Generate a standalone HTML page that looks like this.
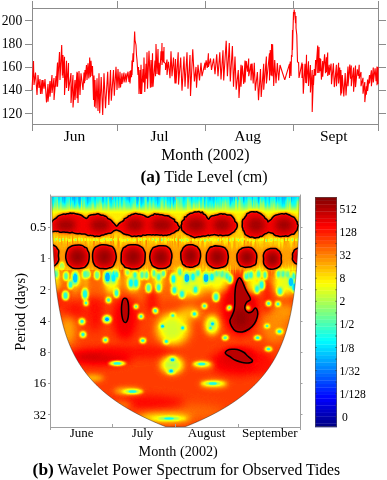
<!DOCTYPE html>
<html><head><meta charset="utf-8"><style>
html,body{margin:0;padding:0;background:#fff;}
body{width:387px;height:480px;overflow:hidden;font-family:"Liberation Serif",serif;}
svg{display:block;will-change:transform;}
</style></head><body>
<svg xmlns="http://www.w3.org/2000/svg" width="387" height="480" viewBox="0 0 387 480">
<g fill="none" stroke="#8c8c8c" stroke-width="1">
<line x1="32.5" y1="1" x2="32.5" y2="131"/>
<line x1="378.5" y1="1" x2="378.5" y2="131"/>
<line x1="32.5" y1="8.5" x2="378.5" y2="8.5"/>
<line x1="32.5" y1="124.5" x2="378.5" y2="124.5"/>
<line x1="25" y1="20.5" x2="32.5" y2="20.5"/>
<line x1="378.5" y1="20.5" x2="386" y2="20.5"/>
<line x1="25" y1="44.5" x2="32.5" y2="44.5"/>
<line x1="378.5" y1="44.5" x2="386" y2="44.5"/>
<line x1="25" y1="67.5" x2="32.5" y2="67.5"/>
<line x1="378.5" y1="67.5" x2="386" y2="67.5"/>
<line x1="25" y1="90.5" x2="32.5" y2="90.5"/>
<line x1="378.5" y1="90.5" x2="386" y2="90.5"/>
<line x1="25" y1="113.5" x2="32.5" y2="113.5"/>
<line x1="378.5" y1="113.5" x2="386" y2="113.5"/>
<line x1="117.5" y1="1" x2="117.5" y2="8.5"/>
<line x1="117.5" y1="124.5" x2="117.5" y2="131"/>
<line x1="205.5" y1="1" x2="205.5" y2="8.5"/>
<line x1="205.5" y1="124.5" x2="205.5" y2="131"/>
<line x1="293.5" y1="1" x2="293.5" y2="8.5"/>
<line x1="293.5" y1="124.5" x2="293.5" y2="131"/>
</g>
<polyline points="32.00,90.00 32.00,90.00 33.50,61.00 34.00,85.00 35.50,72.50 37.00,95.00 38.00,75.00 39.00,88.00 40.00,79.00 40.50,94.00 42.00,80.00 42.00,94.00 43.00,80.05 44.00,88.75 45.00,79.00 46.50,102.50 48.00,84.00 48.00,101.70 50.00,81.00 50.00,96.70 52.00,75.00 52.00,93.00 54.00,78.00 54.00,100.00 56.00,76.00 56.00,86.70 57.50,62.50 57.50,86.70 59.50,52.00 60.00,80.00 61.70,45.00 62.35,75.59 63.00,55.00 63.00,78.00 64.50,56.70 64.50,95.00 66.50,60.80 66.50,88.00 68.50,63.00 68.50,91.00 71.00,73.00 71.00,103.00 73.00,75.00 73.00,107.50 75.00,80.00 75.00,100.00 77.00,71.70 77.00,98.30 77.50,72.67 78.00,103.00 79.00,71.00 80.00,95.00 81.00,73.30 83.00,90.00 84.00,72.50 84.50,83.25 85.00,70.00 85.00,81.00 86.50,65.00 87.00,80.00 88.00,63.30 88.85,78.52 89.70,57.50 90.35,77.32 91.00,60.80 92.00,76.00 92.50,66.00 93.50,100.00 94.00,75.46 94.50,106.70 95.00,80.00 96.00,108.30 97.00,78.30 98.00,111.00 99.00,73.30 99.70,113.30 101.20,77.02 102.70,115.00 104.00,73.30 105.50,108.30 107.70,71.70 108.80,105.00 110.50,70.00 111.30,100.80 113.50,70.00 114.30,95.80 116.00,66.70 117.00,90.00 118.00,69.00 119.00,88.30 120.00,71.70 120.50,87.50 122.00,73.30 122.00,84.00 124.00,72.50 124.00,82.50 126.00,73.30 126.00,82.50 128.00,71.70 129.00,82.06 130.00,71.00 130.00,83.50 131.00,70.00 131.50,77.12 132.00,60.60 132.00,75.00 133.00,53.30 133.50,62.00 134.65,31.50 135.00,40.00 136.00,45.00 136.50,55.00 137.00,60.00 138.00,75.00 138.50,66.90 139.00,94.00 140.00,70.00 140.50,94.00 141.00,64.80 141.60,94.00 143.00,69.00 143.50,82.41 144.00,57.50 144.75,91.90 146.00,63.75 146.50,78.74 147.00,52.30 147.50,88.75 149.00,50.80 150.40,87.70 151.00,60.00 151.75,87.18 152.50,53.30 153.00,86.70 155.00,60.60 155.50,76.12 156.00,44.00 157.00,74.00 158.00,49.00 158.50,74.65 159.00,62.70 159.75,75.20 161.00,51.25 161.50,60.22 162.00,43.00 162.00,65.00 163.00,51.25 163.50,62.53 164.00,47.00 164.00,61.70 165.50,63.75 165.50,70.00 167.00,59.60 167.00,75.00 168.50,61.70 170.00,78.30 171.00,51.25 172.00,76.25 173.50,57.50 175.00,83.50 175.50,59.00 176.00,83.50 178.20,52.30 178.50,84.60 180.70,57.50 182.00,90.80 184.00,56.50 185.00,86.70 187.00,52.30 188.00,88.75 190.00,55.00 190.50,96.00 192.75,49.20 194.40,81.50 196.00,66.90 196.50,87.70 198.00,64.80 199.50,80.40 201.00,62.70 202.00,76.25 205.00,62.70 205.00,70.00 206.13,60.34 207.27,67.93 208.40,53.30 208.40,66.90 210.50,58.50 211.50,70.00 213.60,58.50 215.00,74.20 216.70,54.40 218.00,76.25 219.80,52.30 221.00,79.40 223.00,50.20 223.70,80.40 226.20,40.80 227.40,76.25 229.30,43.00 230.30,81.50 232.40,46.00 233.50,86.70 235.00,56.50 236.20,89.80 238.30,70.00 239.00,98.00 241.00,64.80 241.00,86.70 242.33,65.47 243.67,83.90 245.00,60.60 245.00,82.50 246.23,61.08 247.47,71.64 248.70,58.50 248.70,76.25 251.00,63.75 251.00,80.40 252.10,63.50 253.20,83.45 254.30,62.70 255.30,90.80 257.40,72.00 258.50,100.20 260.50,69.00 261.20,97.00 263.70,63.75 263.70,89.80 266.40,56.50 266.40,83.50 269.50,53.30 269.50,80.40 270.25,50.11 271.00,75.50 271.60,44.00 272.10,76.22 272.60,44.30 273.70,86.00 274.70,60.00 276.00,83.30 277.33,63.07 278.67,80.40 280.00,65.00 284.75,79.86 289.50,63.80 289.50,78.00 290.25,61.44 291.00,76.00 291.50,55.00 292.00,57.05 292.50,30.00 292.50,50.00 293.50,12.00 293.50,20.00 294.20,9.50 294.50,14.00 295.00,12.00 295.50,23.33 296.00,16.00 296.00,28.00 296.80,35.00 297.50,62.00 298.60,62.50 299.00,78.00 302.00,62.50 302.00,78.00 302.65,64.12 303.30,93.75 305.00,63.80 305.75,83.10 306.50,54.70 306.50,83.30 308.50,61.20 308.50,86.00 310.40,65.00 310.40,92.40 312.20,70.00 312.20,112.00 313.50,75.00 313.50,85.00 314.30,69.00 314.95,75.65 315.60,60.00 315.60,75.50 317.70,45.60 317.70,73.00 319.00,46.90 319.00,73.00 320.00,58.00 320.00,71.20 320.70,58.94 321.40,79.60 322.70,61.00 322.70,76.80 324.60,54.30 325.50,73.24 326.40,57.20 326.40,72.10 327.70,52.50 327.70,75.90 329.20,64.70 329.20,75.00 331.10,63.70 331.50,84.30 333.40,63.30 334.30,87.10 336.40,64.70 336.40,86.20 338.60,62.80 338.60,83.40 339.70,67.56 340.80,95.60 340.90,70.00 341.60,93.51 342.30,75.00 343.80,96.50 345.20,73.00 346.00,95.50 348.00,66.50 348.00,86.20 349.80,64.60 350.55,78.81 351.30,65.60 351.30,86.20 353.60,67.50 353.60,91.80 355.50,65.60 355.50,87.10 357.30,69.30 358.25,76.01 359.20,64.70 359.20,78.70 361.00,72.00 361.00,86.20 363.00,77.80 363.00,93.70 364.80,82.00 364.80,102.10 366.30,86.20 366.30,94.60 367.60,79.60 367.60,90.90 369.50,75.00 369.50,83.40 371.40,70.30 371.40,86.20 373.30,67.50 373.30,82.40 375.10,68.40 376.05,81.13 377.00,66.50 377.00,85.30 378.00,67.00 378.00,84.00" fill="none" stroke="#ff0000" stroke-width="1.1" stroke-linejoin="miter" stroke-miterlimit="2"/>
<g font-family="Liberation Serif" font-size="13.6" fill="#000" text-anchor="end">
<text x="22.2" y="25.0">200</text>
<text x="22.2" y="48.1">180</text>
<text x="22.2" y="71.2">160</text>
<text x="22.2" y="94.4">140</text>
<text x="22.2" y="117.5">120</text>
</g>
<g font-family="Liberation Serif" font-size="15.5" fill="#000" text-anchor="middle">
<text x="74.4" y="140.5">Jun</text>
<text x="159.6" y="140.5">Jul</text>
<text x="247.6" y="140.5">Aug</text>
<text x="333.7" y="140.5">Sept</text>
</g>
<text x="205.4" y="159.6" font-family="Liberation Serif" font-size="15.8" text-anchor="middle">Month (2002)</text>
<text x="204" y="181.7" font-family="Liberation Serif" font-size="16" text-anchor="middle"><tspan font-weight="bold" font-size="17.2">(a)</tspan> Tide Level (cm)</text>
<defs>
<clipPath id="coi"><path d="M51,196.8 L300,196.8 L299.30,196.80 L299.29,197.30 L299.28,197.80 L299.28,198.30 L299.27,198.80 L299.26,199.30 L299.25,199.80 L299.24,200.30 L299.24,200.80 L299.23,201.30 L299.22,201.80 L299.21,202.30 L299.20,202.80 L299.19,203.30 L299.18,203.80 L299.17,204.30 L299.16,204.80 L299.16,205.30 L299.15,205.80 L299.14,206.30 L299.13,206.80 L299.12,207.30 L299.11,207.80 L299.10,208.30 L299.09,208.80 L299.08,209.30 L299.07,209.80 L299.06,210.30 L299.05,210.80 L299.04,211.30 L299.02,211.80 L299.01,212.30 L299.00,212.80 L298.99,213.30 L298.98,213.80 L298.97,214.30 L298.96,214.80 L298.95,215.30 L298.93,215.80 L298.92,216.30 L298.91,216.80 L298.90,217.30 L298.89,217.80 L298.87,218.30 L298.86,218.80 L298.85,219.30 L298.84,219.80 L298.82,220.30 L298.81,220.80 L298.80,221.30 L298.78,221.80 L298.77,222.30 L298.75,222.80 L298.74,223.30 L298.73,223.80 L298.71,224.30 L298.70,224.80 L298.68,225.30 L298.67,225.80 L298.65,226.30 L298.64,226.80 L298.62,227.30 L298.61,227.80 L298.59,228.30 L298.58,228.80 L298.56,229.30 L298.55,229.80 L298.53,230.30 L298.51,230.80 L298.50,231.30 L298.48,231.80 L298.46,232.30 L298.45,232.80 L298.43,233.30 L298.41,233.80 L298.39,234.30 L298.38,234.80 L298.36,235.30 L298.34,235.80 L298.32,236.30 L298.30,236.80 L298.28,237.30 L298.26,237.80 L298.24,238.30 L298.22,238.80 L298.20,239.30 L298.18,239.80 L298.16,240.30 L298.14,240.80 L298.12,241.30 L298.10,241.80 L298.08,242.30 L298.06,242.80 L298.04,243.30 L298.02,243.80 L297.99,244.30 L297.97,244.80 L297.95,245.30 L297.93,245.80 L297.90,246.30 L297.88,246.80 L297.86,247.30 L297.83,247.80 L297.81,248.30 L297.78,248.80 L297.76,249.30 L297.73,249.80 L297.71,250.30 L297.68,250.80 L297.66,251.30 L297.63,251.80 L297.60,252.30 L297.58,252.80 L297.55,253.30 L297.52,253.80 L297.50,254.30 L297.47,254.80 L297.44,255.30 L297.41,255.80 L297.38,256.30 L297.35,256.80 L297.32,257.30 L297.29,257.80 L297.26,258.30 L297.23,258.80 L297.20,259.30 L297.17,259.80 L297.14,260.30 L297.11,260.80 L297.08,261.30 L297.04,261.80 L297.01,262.30 L296.98,262.80 L296.94,263.30 L296.91,263.80 L296.87,264.30 L296.84,264.80 L296.80,265.30 L296.77,265.80 L296.73,266.30 L296.70,266.80 L296.66,267.30 L296.62,267.80 L296.58,268.30 L296.55,268.80 L296.51,269.30 L296.47,269.80 L296.43,270.30 L296.39,270.80 L296.35,271.30 L296.31,271.80 L296.27,272.30 L296.23,272.80 L296.18,273.30 L296.14,273.80 L296.10,274.30 L296.05,274.80 L296.01,275.30 L295.97,275.80 L295.92,276.30 L295.88,276.80 L295.83,277.30 L295.78,277.80 L295.74,278.30 L295.69,278.80 L295.64,279.30 L295.59,279.80 L295.54,280.30 L295.49,280.80 L295.44,281.30 L295.39,281.80 L295.34,282.30 L295.29,282.80 L295.24,283.30 L295.18,283.80 L295.13,284.30 L295.07,284.80 L295.02,285.30 L294.96,285.80 L294.91,286.30 L294.85,286.80 L294.79,287.30 L294.74,287.80 L294.68,288.30 L294.62,288.80 L294.56,289.30 L294.50,289.80 L294.44,290.30 L294.37,290.80 L294.31,291.30 L294.25,291.80 L294.18,292.30 L294.12,292.80 L294.05,293.30 L293.99,293.80 L293.92,294.30 L293.85,294.80 L293.78,295.30 L293.71,295.80 L293.64,296.30 L293.57,296.80 L293.50,297.30 L293.43,297.80 L293.35,298.30 L293.28,298.80 L293.21,299.30 L293.13,299.80 L293.05,300.30 L292.98,300.80 L292.90,301.30 L292.82,301.80 L292.74,302.30 L292.66,302.80 L292.58,303.30 L292.49,303.80 L292.41,304.30 L292.32,304.80 L292.24,305.30 L292.15,305.80 L292.06,306.30 L291.98,306.80 L291.89,307.30 L291.80,307.80 L291.70,308.30 L291.61,308.80 L291.52,309.30 L291.42,309.80 L291.33,310.30 L291.23,310.80 L291.13,311.30 L291.04,311.80 L290.94,312.30 L290.83,312.80 L290.73,313.30 L290.63,313.80 L290.52,314.30 L290.42,314.80 L290.31,315.30 L290.20,315.80 L290.09,316.30 L289.98,316.80 L289.87,317.30 L289.76,317.80 L289.64,318.30 L289.53,318.80 L289.41,319.30 L289.29,319.80 L289.17,320.30 L289.05,320.80 L288.93,321.30 L288.81,321.80 L288.68,322.30 L288.56,322.80 L288.43,323.30 L288.30,323.80 L288.17,324.30 L288.04,324.80 L287.91,325.30 L287.77,325.80 L287.63,326.30 L287.50,326.80 L287.36,327.30 L287.22,327.80 L287.07,328.30 L286.93,328.80 L286.78,329.30 L286.64,329.80 L286.49,330.30 L286.34,330.80 L286.18,331.30 L286.03,331.80 L285.87,332.30 L285.72,332.80 L285.56,333.30 L285.40,333.80 L285.23,334.30 L285.07,334.80 L284.90,335.30 L284.73,335.80 L284.56,336.30 L284.39,336.80 L284.22,337.30 L284.04,337.80 L283.86,338.30 L283.68,338.80 L283.50,339.30 L283.32,339.80 L283.13,340.30 L282.94,340.80 L282.75,341.30 L282.56,341.80 L282.37,342.30 L282.17,342.80 L281.97,343.30 L281.77,343.80 L281.57,344.30 L281.36,344.80 L281.15,345.30 L280.94,345.80 L280.73,346.30 L280.51,346.80 L280.30,347.30 L280.08,347.80 L279.86,348.30 L279.63,348.80 L279.40,349.30 L279.17,349.80 L278.94,350.30 L278.71,350.80 L278.47,351.30 L278.23,351.80 L277.99,352.30 L277.74,352.80 L277.49,353.30 L277.24,353.80 L276.99,354.30 L276.73,354.80 L276.47,355.30 L276.21,355.80 L275.94,356.30 L275.68,356.80 L275.40,357.30 L275.13,357.80 L274.85,358.30 L274.57,358.80 L274.29,359.30 L274.00,359.80 L273.71,360.30 L273.42,360.80 L273.12,361.30 L272.82,361.80 L272.52,362.30 L272.21,362.80 L271.90,363.30 L271.59,363.80 L271.27,364.30 L270.95,364.80 L270.63,365.30 L270.30,365.80 L269.97,366.30 L269.64,366.80 L269.30,367.30 L268.95,367.80 L268.61,368.30 L268.26,368.80 L267.90,369.30 L267.55,369.80 L267.18,370.30 L266.82,370.80 L266.45,371.30 L266.07,371.80 L265.70,372.30 L265.31,372.80 L264.93,373.30 L264.54,373.80 L264.14,374.30 L263.74,374.80 L263.34,375.30 L262.93,375.80 L262.51,376.30 L262.10,376.80 L261.67,377.30 L261.25,377.80 L260.81,378.30 L260.38,378.80 L259.93,379.30 L259.49,379.80 L259.04,380.30 L258.58,380.80 L258.12,381.30 L257.65,381.80 L257.18,382.30 L256.70,382.80 L256.22,383.30 L255.73,383.80 L255.23,384.30 L254.74,384.80 L254.23,385.30 L253.72,385.80 L253.20,386.30 L252.68,386.80 L252.15,387.30 L251.62,387.80 L251.08,388.30 L250.54,388.80 L249.98,389.30 L249.43,389.80 L248.86,390.30 L248.29,390.80 L247.72,391.30 L247.13,391.80 L246.54,392.30 L245.95,392.80 L245.34,393.30 L244.73,393.80 L244.12,394.30 L243.50,394.80 L242.87,395.30 L242.23,395.80 L241.58,396.30 L240.93,396.80 L240.27,397.30 L239.61,397.80 L238.93,398.30 L238.25,398.80 L237.56,399.30 L236.87,399.80 L236.16,400.30 L235.45,400.80 L234.73,401.30 L234.00,401.80 L233.27,402.30 L232.52,402.80 L231.77,403.30 L231.01,403.80 L230.24,404.30 L229.46,404.80 L228.68,405.30 L227.88,405.80 L227.08,406.30 L226.26,406.80 L225.44,407.30 L224.61,407.80 L223.77,408.30 L222.92,408.80 L222.06,409.30 L221.19,409.80 L220.31,410.30 L219.42,410.80 L218.52,411.30 L217.62,411.80 L216.70,412.30 L215.77,412.80 L214.83,413.30 L213.88,413.80 L212.92,414.30 L211.95,414.80 L210.96,415.30 L209.97,415.80 L208.97,416.30 L207.95,416.80 L206.93,417.30 L205.89,417.80 L204.84,418.30 L203.78,418.80 L202.70,419.30 L201.62,419.80 L200.52,420.30 L199.41,420.80 L198.29,421.30 L197.16,421.80 L196.01,422.30 L194.85,422.80 L193.68,423.30 L192.49,423.80 L191.29,424.30 L190.08,424.80 L188.85,425.30 L187.62,425.80 L186.36,426.30 L185.09,426.80 L175.50,427.00 L165.91,426.80 L164.64,426.30 L163.38,425.80 L162.15,425.30 L160.92,424.80 L159.71,424.30 L158.51,423.80 L157.32,423.30 L156.15,422.80 L154.99,422.30 L153.84,421.80 L152.71,421.30 L151.59,420.80 L150.48,420.30 L149.38,419.80 L148.30,419.30 L147.22,418.80 L146.16,418.30 L145.11,417.80 L144.07,417.30 L143.05,416.80 L142.03,416.30 L141.03,415.80 L140.04,415.30 L139.05,414.80 L138.08,414.30 L137.12,413.80 L136.17,413.30 L135.23,412.80 L134.30,412.30 L133.38,411.80 L132.48,411.30 L131.58,410.80 L130.69,410.30 L129.81,409.80 L128.94,409.30 L128.08,408.80 L127.23,408.30 L126.39,407.80 L125.56,407.30 L124.74,406.80 L123.92,406.30 L123.12,405.80 L122.32,405.30 L121.54,404.80 L120.76,404.30 L119.99,403.80 L119.23,403.30 L118.48,402.80 L117.73,402.30 L117.00,401.80 L116.27,401.30 L115.55,400.80 L114.84,400.30 L114.13,399.80 L113.44,399.30 L112.75,398.80 L112.07,398.30 L111.39,397.80 L110.73,397.30 L110.07,396.80 L109.42,396.30 L108.77,395.80 L108.13,395.30 L107.50,394.80 L106.88,394.30 L106.27,393.80 L105.66,393.30 L105.05,392.80 L104.46,392.30 L103.87,391.80 L103.28,391.30 L102.71,390.80 L102.14,390.30 L101.57,389.80 L101.02,389.30 L100.46,388.80 L99.92,388.30 L99.38,387.80 L98.85,387.30 L98.32,386.80 L97.80,386.30 L97.28,385.80 L96.77,385.30 L96.26,384.80 L95.77,384.30 L95.27,383.80 L94.78,383.30 L94.30,382.80 L93.82,382.30 L93.35,381.80 L92.88,381.30 L92.42,380.80 L91.96,380.30 L91.51,379.80 L91.07,379.30 L90.62,378.80 L90.19,378.30 L89.75,377.80 L89.33,377.30 L88.90,376.80 L88.49,376.30 L88.07,375.80 L87.66,375.30 L87.26,374.80 L86.86,374.30 L86.46,373.80 L86.07,373.30 L85.69,372.80 L85.30,372.30 L84.93,371.80 L84.55,371.30 L84.18,370.80 L83.82,370.30 L83.45,369.80 L83.10,369.30 L82.74,368.80 L82.39,368.30 L82.05,367.80 L81.70,367.30 L81.36,366.80 L81.03,366.30 L80.70,365.80 L80.37,365.30 L80.05,364.80 L79.73,364.30 L79.41,363.80 L79.10,363.30 L78.79,362.80 L78.48,362.30 L78.18,361.80 L77.88,361.30 L77.58,360.80 L77.29,360.30 L77.00,359.80 L76.71,359.30 L76.43,358.80 L76.15,358.30 L75.87,357.80 L75.60,357.30 L75.32,356.80 L75.06,356.30 L74.79,355.80 L74.53,355.30 L74.27,354.80 L74.01,354.30 L73.76,353.80 L73.51,353.30 L73.26,352.80 L73.01,352.30 L72.77,351.80 L72.53,351.30 L72.29,350.80 L72.06,350.30 L71.83,349.80 L71.60,349.30 L71.37,348.80 L71.14,348.30 L70.92,347.80 L70.70,347.30 L70.49,346.80 L70.27,346.30 L70.06,345.80 L69.85,345.30 L69.64,344.80 L69.43,344.30 L69.23,343.80 L69.03,343.30 L68.83,342.80 L68.63,342.30 L68.44,341.80 L68.25,341.30 L68.06,340.80 L67.87,340.30 L67.68,339.80 L67.50,339.30 L67.32,338.80 L67.14,338.30 L66.96,337.80 L66.78,337.30 L66.61,336.80 L66.44,336.30 L66.27,335.80 L66.10,335.30 L65.93,334.80 L65.77,334.30 L65.60,333.80 L65.44,333.30 L65.28,332.80 L65.13,332.30 L64.97,331.80 L64.82,331.30 L64.66,330.80 L64.51,330.30 L64.36,329.80 L64.22,329.30 L64.07,328.80 L63.93,328.30 L63.78,327.80 L63.64,327.30 L63.50,326.80 L63.37,326.30 L63.23,325.80 L63.09,325.30 L62.96,324.80 L62.83,324.30 L62.70,323.80 L62.57,323.30 L62.44,322.80 L62.32,322.30 L62.19,321.80 L62.07,321.30 L61.95,320.80 L61.83,320.30 L61.71,319.80 L61.59,319.30 L61.47,318.80 L61.36,318.30 L61.24,317.80 L61.13,317.30 L61.02,316.80 L60.91,316.30 L60.80,315.80 L60.69,315.30 L60.58,314.80 L60.48,314.30 L60.37,313.80 L60.27,313.30 L60.17,312.80 L60.06,312.30 L59.96,311.80 L59.87,311.30 L59.77,310.80 L59.67,310.30 L59.58,309.80 L59.48,309.30 L59.39,308.80 L59.30,308.30 L59.20,307.80 L59.11,307.30 L59.02,306.80 L58.94,306.30 L58.85,305.80 L58.76,305.30 L58.68,304.80 L58.59,304.30 L58.51,303.80 L58.42,303.30 L58.34,302.80 L58.26,302.30 L58.18,301.80 L58.10,301.30 L58.02,300.80 L57.95,300.30 L57.87,299.80 L57.79,299.30 L57.72,298.80 L57.65,298.30 L57.57,297.80 L57.50,297.30 L57.43,296.80 L57.36,296.30 L57.29,295.80 L57.22,295.30 L57.15,294.80 L57.08,294.30 L57.01,293.80 L56.95,293.30 L56.88,292.80 L56.82,292.30 L56.75,291.80 L56.69,291.30 L56.63,290.80 L56.56,290.30 L56.50,289.80 L56.44,289.30 L56.38,288.80 L56.32,288.30 L56.26,287.80 L56.21,287.30 L56.15,286.80 L56.09,286.30 L56.04,285.80 L55.98,285.30 L55.93,284.80 L55.87,284.30 L55.82,283.80 L55.76,283.30 L55.71,282.80 L55.66,282.30 L55.61,281.80 L55.56,281.30 L55.51,280.80 L55.46,280.30 L55.41,279.80 L55.36,279.30 L55.31,278.80 L55.26,278.30 L55.22,277.80 L55.17,277.30 L55.12,276.80 L55.08,276.30 L55.03,275.80 L54.99,275.30 L54.95,274.80 L54.90,274.30 L54.86,273.80 L54.82,273.30 L54.77,272.80 L54.73,272.30 L54.69,271.80 L54.65,271.30 L54.61,270.80 L54.57,270.30 L54.53,269.80 L54.49,269.30 L54.45,268.80 L54.42,268.30 L54.38,267.80 L54.34,267.30 L54.30,266.80 L54.27,266.30 L54.23,265.80 L54.20,265.30 L54.16,264.80 L54.13,264.30 L54.09,263.80 L54.06,263.30 L54.02,262.80 L53.99,262.30 L53.96,261.80 L53.92,261.30 L53.89,260.80 L53.86,260.30 L53.83,259.80 L53.80,259.30 L53.77,258.80 L53.74,258.30 L53.71,257.80 L53.68,257.30 L53.65,256.80 L53.62,256.30 L53.59,255.80 L53.56,255.30 L53.53,254.80 L53.50,254.30 L53.48,253.80 L53.45,253.30 L53.42,252.80 L53.40,252.30 L53.37,251.80 L53.34,251.30 L53.32,250.80 L53.29,250.30 L53.27,249.80 L53.24,249.30 L53.22,248.80 L53.19,248.30 L53.17,247.80 L53.14,247.30 L53.12,246.80 L53.10,246.30 L53.07,245.80 L53.05,245.30 L53.03,244.80 L53.01,244.30 L52.98,243.80 L52.96,243.30 L52.94,242.80 L52.92,242.30 L52.90,241.80 L52.88,241.30 L52.86,240.80 L52.84,240.30 L52.82,239.80 L52.80,239.30 L52.78,238.80 L52.76,238.30 L52.74,237.80 L52.72,237.30 L52.70,236.80 L52.68,236.30 L52.66,235.80 L52.64,235.30 L52.62,234.80 L52.61,234.30 L52.59,233.80 L52.57,233.30 L52.55,232.80 L52.54,232.30 L52.52,231.80 L52.50,231.30 L52.49,230.80 L52.47,230.30 L52.45,229.80 L52.44,229.30 L52.42,228.80 L52.41,228.30 L52.39,227.80 L52.38,227.30 L52.36,226.80 L52.35,226.30 L52.33,225.80 L52.32,225.30 L52.30,224.80 L52.29,224.30 L52.27,223.80 L52.26,223.30 L52.25,222.80 L52.23,222.30 L52.22,221.80 L52.20,221.30 L52.19,220.80 L52.18,220.30 L52.16,219.80 L52.15,219.30 L52.14,218.80 L52.13,218.30 L52.11,217.80 L52.10,217.30 L52.09,216.80 L52.08,216.30 L52.07,215.80 L52.05,215.30 L52.04,214.80 L52.03,214.30 L52.02,213.80 L52.01,213.30 L52.00,212.80 L51.99,212.30 L51.98,211.80 L51.96,211.30 L51.95,210.80 L51.94,210.30 L51.93,209.80 L51.92,209.30 L51.91,208.80 L51.90,208.30 L51.89,207.80 L51.88,207.30 L51.87,206.80 L51.86,206.30 L51.85,205.80 L51.84,205.30 L51.84,204.80 L51.83,204.30 L51.82,203.80 L51.81,203.30 L51.80,202.80 L51.79,202.30 L51.78,201.80 L51.77,201.30 L51.76,200.80 L51.76,200.30 L51.75,199.80 L51.74,199.30 L51.73,198.80 L51.72,198.30 L51.72,197.80 L51.71,197.30 L51.70,196.80 Z"/></clipPath>
<filter id="jet" x="0" y="0" width="387" height="480" filterUnits="userSpaceOnUse" color-interpolation-filters="sRGB"><feComponentTransfer><feFuncR type="table" tableValues="0 0 0 0 0.5 1 1 1 0.5"/><feFuncG type="table" tableValues="0 0 0.5 1 1 1 0.5 0 0"/><feFuncB type="table" tableValues="0.5 1 1 1 0.5 0 0 0 0"/></feComponentTransfer></filter>
<filter id="b0_6" x="0" y="0" width="387" height="480" filterUnits="userSpaceOnUse" color-interpolation-filters="sRGB"><feGaussianBlur stdDeviation="0.6"/></filter>
<filter id="b0_8" x="0" y="0" width="387" height="480" filterUnits="userSpaceOnUse" color-interpolation-filters="sRGB"><feGaussianBlur stdDeviation="0.8"/></filter>
<filter id="b1" x="0" y="0" width="387" height="480" filterUnits="userSpaceOnUse" color-interpolation-filters="sRGB"><feGaussianBlur stdDeviation="1"/></filter>
<filter id="b1_5" x="0" y="0" width="387" height="480" filterUnits="userSpaceOnUse" color-interpolation-filters="sRGB"><feGaussianBlur stdDeviation="1.5"/></filter>
<filter id="b2" x="0" y="0" width="387" height="480" filterUnits="userSpaceOnUse" color-interpolation-filters="sRGB"><feGaussianBlur stdDeviation="2"/></filter>
<filter id="b2_5" x="0" y="0" width="387" height="480" filterUnits="userSpaceOnUse" color-interpolation-filters="sRGB"><feGaussianBlur stdDeviation="2.5"/></filter>
<filter id="b3" x="0" y="0" width="387" height="480" filterUnits="userSpaceOnUse" color-interpolation-filters="sRGB"><feGaussianBlur stdDeviation="3"/></filter>
<filter id="b4" x="0" y="0" width="387" height="480" filterUnits="userSpaceOnUse" color-interpolation-filters="sRGB"><feGaussianBlur stdDeviation="4"/></filter>
<filter id="b5" x="0" y="0" width="387" height="480" filterUnits="userSpaceOnUse" color-interpolation-filters="sRGB"><feGaussianBlur stdDeviation="5"/></filter>
<filter id="b6" x="0" y="0" width="387" height="480" filterUnits="userSpaceOnUse" color-interpolation-filters="sRGB"><feGaussianBlur stdDeviation="6"/></filter>
<filter id="b8" x="0" y="0" width="387" height="480" filterUnits="userSpaceOnUse" color-interpolation-filters="sRGB"><feGaussianBlur stdDeviation="8"/></filter>
<filter id="bx" x="0" y="0" width="387" height="480" filterUnits="userSpaceOnUse" color-interpolation-filters="sRGB"><feGaussianBlur stdDeviation="0.6 2.2"/></filter>
<filter id="bx2" x="0" y="0" width="387" height="480" filterUnits="userSpaceOnUse" color-interpolation-filters="sRGB"><feGaussianBlur stdDeviation="0.35 1.6"/></filter>
<radialGradient id="blob" cx="0.5" cy="0.5" r="0.5"><stop offset="0" stop-color="rgb(251,251,251)"/><stop offset="0.5" stop-color="rgb(242,242,242)"/><stop offset="1" stop-color="rgb(224,224,224)"/></radialGradient>
<radialGradient id="blobB" cx="0.5" cy="0.5" r="0.5"><stop offset="0" stop-color="rgb(249,249,249)"/><stop offset="0.6" stop-color="rgb(237,237,237)"/><stop offset="1" stop-color="rgb(224,224,224)" stop-opacity="0"/></radialGradient>
<linearGradient id="topg" x1="0" y1="197" x2="0" y2="214" gradientUnits="userSpaceOnUse"><stop offset="0" stop-color="rgb(94,94,94)"/><stop offset="0.18" stop-color="rgb(101,101,101)"/><stop offset="0.35" stop-color="rgb(107,107,107)"/><stop offset="0.53" stop-color="rgb(117,117,117)"/><stop offset="0.65" stop-color="rgb(130,130,130)"/><stop offset="0.76" stop-color="rgb(145,145,145)"/><stop offset="0.88" stop-color="rgb(158,158,158)"/><stop offset="1" stop-color="rgb(164,164,164)"/></linearGradient>
</defs>
<g clip-path="url(#coi)"><g filter="url(#jet)">
<rect x="46" y="191.8" width="259" height="240.2" fill="rgb(208,208,208)"/>
<linearGradient id="bandg" x1="0" y1="212" x2="0" y2="270" gradientUnits="userSpaceOnUse"><stop offset="0" stop-color="rgb(164,164,164)"/><stop offset="0.17" stop-color="rgb(163,163,163)"/><stop offset="0.41" stop-color="rgb(173,173,173)"/><stop offset="0.48" stop-color="rgb(163,163,163)"/><stop offset="0.55" stop-color="rgb(176,176,176)"/><stop offset="0.62" stop-color="rgb(181,181,181)"/><stop offset="0.7" stop-color="rgb(184,184,184)"/><stop offset="0.9" stop-color="rgb(184,184,184)"/><stop offset="1" stop-color="rgb(178,178,178)"/></linearGradient>
<rect x="46" y="212" width="259" height="58" fill="url(#bandg)"/>
<g filter="url(#b5)">
<ellipse cx="275" cy="325" rx="14" ry="18" fill="rgb(189,189,189)"/>
<ellipse cx="175" cy="412" rx="50" ry="8" fill="rgb(196,196,196)"/>
<ellipse cx="95" cy="306" rx="8" ry="26" fill="rgb(221,221,221)"/>
<ellipse cx="100" cy="357" rx="32" ry="7" fill="rgb(236,236,236)"/>
<ellipse cx="145" cy="403" rx="40" ry="7" fill="rgb(223,223,223)"/>
<ellipse cx="240" cy="362" rx="30" ry="13" fill="rgb(227,227,227)"/>
</g>
<g filter="url(#b4)">
<ellipse cx="175" cy="284" rx="140" ry="16" fill="rgb(198,198,198)"/>
<ellipse cx="190" cy="283" rx="16" ry="13" fill="rgb(153,153,153)"/>
<ellipse cx="219" cy="281" rx="13" ry="10" fill="rgb(153,153,153)"/>
<ellipse cx="285" cy="283" rx="11" ry="12" fill="rgb(153,153,153)"/>
<ellipse cx="173" cy="329" rx="17" ry="16" fill="rgb(163,163,163)"/>
<ellipse cx="190" cy="313" rx="12" ry="6" fill="rgb(171,171,171)"/>
<ellipse cx="68" cy="330" rx="8" ry="15" fill="rgb(181,181,181)"/>
<ellipse cx="285" cy="312" rx="10" ry="8" fill="rgb(184,184,184)"/>
<ellipse cx="125" cy="318" rx="12" ry="22" fill="rgb(226,226,226)"/>
<ellipse cx="75" cy="310" rx="12" ry="8" fill="rgb(219,219,219)"/>
<ellipse cx="140" cy="352" rx="40" ry="5" fill="rgb(222,222,222)"/>
<ellipse cx="240" cy="305" rx="18" ry="30" fill="rgb(230,230,230)"/>
<ellipse cx="265" cy="365" rx="12" ry="8" fill="rgb(219,219,219)"/>
</g>
<g filter="url(#b3)">
<ellipse cx="56" cy="279" rx="3.5" ry="11" fill="rgb(161,161,161)"/>
<ellipse cx="112" cy="281" rx="7" ry="11" fill="rgb(153,153,153)"/>
<ellipse cx="133" cy="281" rx="7" ry="10" fill="rgb(156,156,156)"/>
<ellipse cx="254" cy="283" rx="6" ry="11" fill="rgb(156,156,156)"/>
<ellipse cx="158" cy="280" rx="5" ry="9" fill="rgb(161,161,161)"/>
<ellipse cx="77" cy="279" rx="4" ry="9" fill="rgb(161,161,161)"/>
<ellipse cx="172" cy="329" rx="10" ry="11" fill="rgb(148,148,148)"/>
<ellipse cx="212" cy="325" rx="7" ry="10" fill="rgb(153,153,153)"/>
<ellipse cx="172" cy="365" rx="12" ry="9" fill="rgb(158,158,158)"/>
<ellipse cx="165" cy="418" rx="26" ry="4" fill="rgb(158,158,158)"/>
<ellipse cx="120" cy="405" rx="12" ry="4" fill="rgb(189,189,189)"/>
<ellipse cx="152" cy="302" rx="6" ry="12" fill="rgb(219,219,219)"/>
<ellipse cx="267" cy="297" rx="4.5" ry="17" fill="rgb(217,217,217)"/>
<ellipse cx="239" cy="276" rx="6" ry="8" fill="rgb(214,214,214)"/>
<ellipse cx="238" cy="356" rx="16" ry="8" fill="rgb(230,230,230)"/>
<ellipse cx="60" cy="300" rx="6" ry="10" fill="rgb(214,214,214)"/>
</g>
<g filter="url(#b2_5)">
<ellipse cx="212" cy="325" rx="4" ry="6" fill="rgb(138,138,138)"/>
<ellipse cx="172" cy="365" rx="7" ry="6" fill="rgb(140,140,140)"/>
<ellipse cx="92" cy="378" rx="12" ry="3" fill="rgb(171,171,171)"/>
<ellipse cx="128" cy="391" rx="14" ry="3" fill="rgb(168,168,168)"/>
<ellipse cx="203" cy="365" rx="11" ry="3" fill="rgb(168,168,168)"/>
<ellipse cx="214" cy="384" rx="14" ry="3.5" fill="rgb(163,163,163)"/>
</g>
<g filter="url(#b2)">
<path d="M52.5,266 L57.5,266 L56.25,280.5 L55,295 L53.75,280.5 Z" fill="rgb(161,161,161)" opacity="0.8"/>
<path d="M73.0,268 L77.0,268 L76.0,284.0 L75,300 L74.0,284.0 Z" fill="rgb(156,156,156)" opacity="0.8"/>
<path d="M84.0,270 L88.0,270 L87.0,290.0 L86,310 L85.0,290.0 Z" fill="rgb(161,161,161)" opacity="0.8"/>
<path d="M106.0,268 L112.0,268 L110.5,284.0 L109,300 L107.5,284.0 Z" fill="rgb(156,156,156)" opacity="0.8"/>
<path d="M113.5,268 L116.5,268 L115.75,283.0 L115,298 L114.25,283.0 Z" fill="rgb(161,161,161)" opacity="0.8"/>
<path d="M125.5,268 L128.5,268 L127.75,273.0 L127,278 L126.25,273.0 Z" fill="rgb(166,166,166)" opacity="0.8"/>
<path d="M131.0,268 L137.0,268 L135.5,280.0 L134,292 L132.5,280.0 Z" fill="rgb(161,161,161)" opacity="0.8"/>
<path d="M140.5,268 L143.5,268 L142.75,274.0 L142,280 L141.25,274.0 Z" fill="rgb(166,166,166)" opacity="0.8"/>
<path d="M144.5,268 L147.5,268 L146.75,274.0 L146,280 L145.25,274.0 Z" fill="rgb(166,166,166)" opacity="0.8"/>
<path d="M147.5,270 L150.5,270 L149.75,281.0 L149,292 L148.25,281.0 Z" fill="rgb(161,161,161)" opacity="0.8"/>
<path d="M152.5,268 L155.5,268 L154.75,274.0 L154,280 L153.25,274.0 Z" fill="rgb(166,166,166)" opacity="0.8"/>
<path d="M157.0,268 L161.0,268 L160.0,280.0 L159,292 L158.0,280.0 Z" fill="rgb(161,161,161)" opacity="0.8"/>
<path d="M173.0,268 L179.0,268 L177.5,282.0 L176,296 L174.5,282.0 Z" fill="rgb(156,156,156)" opacity="0.8"/>
<path d="M182.0,268 L188.0,268 L186.5,284.0 L185,300 L183.5,284.0 Z" fill="rgb(150,150,150)" opacity="0.8"/>
<path d="M192.0,268 L198.0,268 L196.5,282.0 L195,296 L193.5,282.0 Z" fill="rgb(156,156,156)" opacity="0.8"/>
<path d="M205.0,268 L211.0,268 L209.5,280.0 L208,292 L206.5,280.0 Z" fill="rgb(156,156,156)" opacity="0.8"/>
<path d="M213.5,268 L218.5,268 L217.25,284.0 L216,300 L214.75,284.0 Z" fill="rgb(161,161,161)" opacity="0.8"/>
<path d="M223.0,268 L229.0,268 L227.5,280.0 L226,292 L224.5,280.0 Z" fill="rgb(161,161,161)" opacity="0.8"/>
<path d="M245.0,268 L251.0,268 L249.5,283.0 L248,298 L246.5,283.0 Z" fill="rgb(156,156,156)" opacity="0.8"/>
<path d="M256.5,268 L261.5,268 L260.25,280.0 L259,292 L257.75,280.0 Z" fill="rgb(161,161,161)" opacity="0.8"/>
<path d="M277.5,268 L282.5,268 L281.25,284.0 L280,300 L278.75,284.0 Z" fill="rgb(156,156,156)" opacity="0.8"/>
<path d="M289.5,268 L294.5,268 L293.25,281.5 L292,295 L290.75,281.5 Z" fill="rgb(150,150,150)" opacity="0.8"/>
<path d="M236.5,266 L239.5,266 L238.75,270.5 L238,275 L237.25,270.5 Z" fill="rgb(166,166,166)" opacity="0.8"/>
</g>
<g filter="url(#b1)">
<ellipse cx="55.9" cy="273.8" rx="2.75" ry="4.80" fill="rgb(159,159,159)"/>
<ellipse cx="61.8" cy="266" rx="2.20" ry="4.00" fill="rgb(159,159,159)"/>
<ellipse cx="66" cy="276" rx="2.75" ry="4.80" fill="rgb(159,159,159)"/>
<ellipse cx="75.2" cy="278" rx="3.85" ry="8.00" fill="rgb(159,159,159)"/>
<ellipse cx="70.5" cy="284.5" rx="2.75" ry="4.80" fill="rgb(159,159,159)"/>
<ellipse cx="65.5" cy="295.5" rx="3.30" ry="4.80" fill="rgb(159,159,159)"/>
<ellipse cx="85" cy="274" rx="2.75" ry="4.80" fill="rgb(159,159,159)"/>
<ellipse cx="88" cy="274" rx="2.20" ry="4.00" fill="rgb(159,159,159)"/>
<ellipse cx="85" cy="294" rx="3.30" ry="6.40" fill="rgb(159,159,159)"/>
<ellipse cx="86" cy="303" rx="2.50" ry="3.00" fill="rgb(159,159,159)"/>
<ellipse cx="97" cy="275" rx="2.75" ry="4.80" fill="rgb(159,159,159)"/>
<ellipse cx="107.5" cy="277" rx="4.40" ry="8.00" fill="rgb(159,159,159)"/>
<ellipse cx="113" cy="275" rx="3.30" ry="6.40" fill="rgb(159,159,159)"/>
<ellipse cx="108.5" cy="300" rx="3.00" ry="3.50" fill="rgb(159,159,159)"/>
<ellipse cx="113.5" cy="278" rx="3.30" ry="6.40" fill="rgb(159,159,159)"/>
<ellipse cx="116.5" cy="274.6" rx="2.75" ry="4.80" fill="rgb(159,159,159)"/>
<ellipse cx="116.5" cy="293" rx="2.75" ry="4.80" fill="rgb(159,159,159)"/>
<ellipse cx="127.5" cy="271" rx="2.20" ry="4.80" fill="rgb(159,159,159)"/>
<ellipse cx="131" cy="283" rx="3.30" ry="6.40" fill="rgb(159,159,159)"/>
<ellipse cx="136" cy="283" rx="3.30" ry="6.40" fill="rgb(159,159,159)"/>
<ellipse cx="135" cy="275" rx="2.75" ry="4.80" fill="rgb(159,159,159)"/>
<ellipse cx="142" cy="275" rx="2.20" ry="4.80" fill="rgb(159,159,159)"/>
<ellipse cx="146.5" cy="275" rx="2.20" ry="4.80" fill="rgb(159,159,159)"/>
<ellipse cx="148.5" cy="288" rx="2.75" ry="4.80" fill="rgb(159,159,159)"/>
<ellipse cx="154" cy="273" rx="2.20" ry="4.80" fill="rgb(159,159,159)"/>
<ellipse cx="158.7" cy="277" rx="2.75" ry="4.80" fill="rgb(159,159,159)"/>
<ellipse cx="158.7" cy="287.5" rx="2.75" ry="4.80" fill="rgb(159,159,159)"/>
<ellipse cx="163.4" cy="273" rx="2.20" ry="4.80" fill="rgb(159,159,159)"/>
<ellipse cx="136" cy="306.6" rx="2.50" ry="2.50" fill="rgb(159,159,159)"/>
<ellipse cx="155" cy="310" rx="2.50" ry="2.50" fill="rgb(159,159,159)"/>
<ellipse cx="173.5" cy="279" rx="3.30" ry="6.40" fill="rgb(159,159,159)"/>
<ellipse cx="180" cy="272" rx="2.75" ry="4.80" fill="rgb(159,159,159)"/>
<ellipse cx="186.8" cy="278" rx="3.85" ry="7.20" fill="rgb(159,159,159)"/>
<ellipse cx="193" cy="277" rx="3.30" ry="5.60" fill="rgb(159,159,159)"/>
<ellipse cx="198" cy="273" rx="2.75" ry="4.80" fill="rgb(159,159,159)"/>
<ellipse cx="174.5" cy="290" rx="3.30" ry="4.80" fill="rgb(159,159,159)"/>
<ellipse cx="182" cy="294" rx="3.30" ry="4.80" fill="rgb(159,159,159)"/>
<ellipse cx="195.5" cy="289.5" rx="3.30" ry="4.80" fill="rgb(159,159,159)"/>
<ellipse cx="206" cy="278" rx="3.85" ry="7.20" fill="rgb(159,159,159)"/>
<ellipse cx="212" cy="277" rx="3.30" ry="5.60" fill="rgb(159,159,159)"/>
<ellipse cx="217" cy="273" rx="2.75" ry="4.80" fill="rgb(159,159,159)"/>
<ellipse cx="222" cy="274" rx="2.75" ry="4.80" fill="rgb(159,159,159)"/>
<ellipse cx="227" cy="276" rx="2.75" ry="4.80" fill="rgb(159,159,159)"/>
<ellipse cx="230" cy="279" rx="2.75" ry="4.80" fill="rgb(159,159,159)"/>
<ellipse cx="216" cy="297" rx="3.30" ry="4.80" fill="rgb(159,159,159)"/>
<ellipse cx="204.5" cy="306" rx="3.00" ry="3.00" fill="rgb(159,159,159)"/>
<ellipse cx="229.5" cy="307.5" rx="2.50" ry="2.50" fill="rgb(159,159,159)"/>
<ellipse cx="246.5" cy="276" rx="2.75" ry="4.80" fill="rgb(159,159,159)"/>
<ellipse cx="251" cy="275" rx="2.75" ry="4.80" fill="rgb(159,159,159)"/>
<ellipse cx="258.5" cy="274" rx="2.75" ry="4.80" fill="rgb(159,159,159)"/>
<ellipse cx="261.6" cy="285" rx="3.30" ry="5.60" fill="rgb(159,159,159)"/>
<ellipse cx="257" cy="289" rx="2.75" ry="4.80" fill="rgb(159,159,159)"/>
<ellipse cx="265" cy="275" rx="2.20" ry="4.80" fill="rgb(159,159,159)"/>
<ellipse cx="278.5" cy="274" rx="2.20" ry="4.80" fill="rgb(159,159,159)"/>
<ellipse cx="280" cy="291" rx="3.30" ry="4.80" fill="rgb(159,159,159)"/>
<ellipse cx="283" cy="274" rx="2.20" ry="4.80" fill="rgb(159,159,159)"/>
<ellipse cx="287.5" cy="274" rx="2.20" ry="4.80" fill="rgb(159,159,159)"/>
<ellipse cx="291" cy="282" rx="3.30" ry="7.20" fill="rgb(159,159,159)"/>
<ellipse cx="294.5" cy="287" rx="3.30" ry="6.40" fill="rgb(159,159,159)"/>
<ellipse cx="294" cy="276" rx="2.20" ry="4.80" fill="rgb(159,159,159)"/>
<ellipse cx="268.6" cy="303.5" rx="3.00" ry="3.00" fill="rgb(159,159,159)"/>
<ellipse cx="278" cy="304" rx="3.00" ry="3.00" fill="rgb(159,159,159)"/>
<ellipse cx="82" cy="321.4" rx="3.50" ry="3.50" fill="rgb(159,159,159)"/>
<ellipse cx="83" cy="334.5" rx="3.50" ry="3.50" fill="rgb(159,159,159)"/>
<ellipse cx="107" cy="319.3" rx="5.00" ry="4.50" fill="rgb(159,159,159)"/>
<ellipse cx="105.5" cy="340" rx="3.00" ry="3.00" fill="rgb(159,159,159)"/>
<ellipse cx="141" cy="316.4" rx="3.00" ry="3.00" fill="rgb(159,159,159)"/>
<ellipse cx="155.5" cy="311" rx="3.00" ry="3.00" fill="rgb(159,159,159)"/>
<ellipse cx="172.8" cy="315.6" rx="3.00" ry="3.00" fill="rgb(159,159,159)"/>
<ellipse cx="162.6" cy="326.3" rx="3.50" ry="3.50" fill="rgb(159,159,159)"/>
<ellipse cx="142.8" cy="340.6" rx="3.50" ry="3.00" fill="rgb(159,159,159)"/>
<ellipse cx="166.4" cy="341.4" rx="3.50" ry="3.00" fill="rgb(159,159,159)"/>
<ellipse cx="182.6" cy="328" rx="3.50" ry="3.50" fill="rgb(159,159,159)"/>
<ellipse cx="194.4" cy="314" rx="3.50" ry="3.50" fill="rgb(159,159,159)"/>
<ellipse cx="212.5" cy="323.8" rx="4.00" ry="4.00" fill="rgb(159,159,159)"/>
<ellipse cx="210.5" cy="328" rx="3.00" ry="3.00" fill="rgb(159,159,159)"/>
<ellipse cx="225" cy="338" rx="3.00" ry="2.50" fill="rgb(159,159,159)"/>
<ellipse cx="247.8" cy="307.9" rx="2.50" ry="2.50" fill="rgb(153,153,153)"/>
<ellipse cx="228.8" cy="308.6" rx="2.50" ry="2.50" fill="rgb(158,158,158)"/>
<ellipse cx="267" cy="326" rx="3.00" ry="2.50" fill="rgb(159,159,159)"/>
<ellipse cx="279.5" cy="331.5" rx="4.00" ry="3.00" fill="rgb(159,159,159)"/>
<ellipse cx="257.6" cy="337.8" rx="4.00" ry="2.50" fill="rgb(159,159,159)"/>
<ellipse cx="268.5" cy="349" rx="4.00" ry="2.50" fill="rgb(159,159,159)"/>
<ellipse cx="225.3" cy="337.6" rx="3.50" ry="2.50" fill="rgb(159,159,159)"/>
<ellipse cx="117.3" cy="363.4" rx="9.00" ry="2.40" fill="rgb(159,159,159)"/>
<ellipse cx="132.5" cy="391.5" rx="11.00" ry="2.40" fill="rgb(159,159,159)"/>
<ellipse cx="172.5" cy="359.8" rx="5.00" ry="3.50" fill="rgb(159,159,159)"/>
<ellipse cx="171.1" cy="370.9" rx="5.00" ry="3.50" fill="rgb(159,159,159)"/>
<ellipse cx="201.7" cy="364" rx="9.00" ry="2.40" fill="rgb(159,159,159)"/>
<ellipse cx="212.8" cy="383.5" rx="12.00" ry="2.40" fill="rgb(159,159,159)"/>
<ellipse cx="169" cy="418.5" rx="17.00" ry="2.30" fill="rgb(159,159,159)"/>
</g>
<g filter="url(#b0_8)">
<ellipse cx="55.9" cy="273.8" rx="2.38" ry="4.20" fill="rgb(122,122,122)"/>
<ellipse cx="61.8" cy="266" rx="1.90" ry="3.50" fill="rgb(122,122,122)"/>
<ellipse cx="66" cy="276" rx="2.38" ry="4.20" fill="rgb(122,122,122)"/>
<ellipse cx="75.2" cy="278" rx="3.32" ry="7.00" fill="rgb(122,122,122)"/>
<ellipse cx="70.5" cy="284.5" rx="2.38" ry="4.20" fill="rgb(122,122,122)"/>
<ellipse cx="65.5" cy="295.5" rx="2.85" ry="4.20" fill="rgb(122,122,122)"/>
<ellipse cx="85" cy="274" rx="2.38" ry="4.20" fill="rgb(122,122,122)"/>
<ellipse cx="88" cy="274" rx="1.90" ry="3.50" fill="rgb(122,122,122)"/>
<ellipse cx="85" cy="294" rx="2.85" ry="5.60" fill="rgb(122,122,122)"/>
<ellipse cx="86" cy="303" rx="1.62" ry="1.95" fill="rgb(122,122,122)"/>
<ellipse cx="97" cy="275" rx="2.38" ry="4.20" fill="rgb(122,122,122)"/>
<ellipse cx="107.5" cy="277" rx="3.80" ry="7.00" fill="rgb(122,122,122)"/>
<ellipse cx="113" cy="275" rx="2.85" ry="5.60" fill="rgb(122,122,122)"/>
<ellipse cx="108.5" cy="300" rx="1.95" ry="2.27" fill="rgb(122,122,122)"/>
<ellipse cx="113.5" cy="278" rx="2.85" ry="5.60" fill="rgb(122,122,122)"/>
<ellipse cx="116.5" cy="274.6" rx="2.38" ry="4.20" fill="rgb(122,122,122)"/>
<ellipse cx="116.5" cy="293" rx="2.38" ry="4.20" fill="rgb(122,122,122)"/>
<ellipse cx="127.5" cy="271" rx="1.90" ry="4.20" fill="rgb(122,122,122)"/>
<ellipse cx="131" cy="283" rx="2.85" ry="5.60" fill="rgb(122,122,122)"/>
<ellipse cx="136" cy="283" rx="2.85" ry="5.60" fill="rgb(122,122,122)"/>
<ellipse cx="135" cy="275" rx="2.38" ry="4.20" fill="rgb(122,122,122)"/>
<ellipse cx="142" cy="275" rx="1.90" ry="4.20" fill="rgb(122,122,122)"/>
<ellipse cx="146.5" cy="275" rx="1.90" ry="4.20" fill="rgb(122,122,122)"/>
<ellipse cx="148.5" cy="288" rx="2.38" ry="4.20" fill="rgb(122,122,122)"/>
<ellipse cx="154" cy="273" rx="1.90" ry="4.20" fill="rgb(122,122,122)"/>
<ellipse cx="158.7" cy="277" rx="2.38" ry="4.20" fill="rgb(122,122,122)"/>
<ellipse cx="158.7" cy="287.5" rx="2.38" ry="4.20" fill="rgb(122,122,122)"/>
<ellipse cx="163.4" cy="273" rx="1.90" ry="4.20" fill="rgb(122,122,122)"/>
<ellipse cx="136" cy="306.6" rx="1.62" ry="1.62" fill="rgb(122,122,122)"/>
<ellipse cx="155" cy="310" rx="1.62" ry="1.62" fill="rgb(122,122,122)"/>
<ellipse cx="173.5" cy="279" rx="2.85" ry="5.60" fill="rgb(122,122,122)"/>
<ellipse cx="180" cy="272" rx="2.38" ry="4.20" fill="rgb(122,122,122)"/>
<ellipse cx="186.8" cy="278" rx="3.32" ry="6.30" fill="rgb(122,122,122)"/>
<ellipse cx="193" cy="277" rx="2.85" ry="4.90" fill="rgb(122,122,122)"/>
<ellipse cx="198" cy="273" rx="2.38" ry="4.20" fill="rgb(122,122,122)"/>
<ellipse cx="174.5" cy="290" rx="2.85" ry="4.20" fill="rgb(122,122,122)"/>
<ellipse cx="182" cy="294" rx="2.85" ry="4.20" fill="rgb(122,122,122)"/>
<ellipse cx="195.5" cy="289.5" rx="2.85" ry="4.20" fill="rgb(122,122,122)"/>
<ellipse cx="206" cy="278" rx="3.32" ry="6.30" fill="rgb(122,122,122)"/>
<ellipse cx="212" cy="277" rx="2.85" ry="4.90" fill="rgb(122,122,122)"/>
<ellipse cx="217" cy="273" rx="2.38" ry="4.20" fill="rgb(122,122,122)"/>
<ellipse cx="222" cy="274" rx="2.38" ry="4.20" fill="rgb(122,122,122)"/>
<ellipse cx="227" cy="276" rx="2.38" ry="4.20" fill="rgb(122,122,122)"/>
<ellipse cx="230" cy="279" rx="2.38" ry="4.20" fill="rgb(122,122,122)"/>
<ellipse cx="216" cy="297" rx="2.85" ry="4.20" fill="rgb(122,122,122)"/>
<ellipse cx="204.5" cy="306" rx="1.95" ry="1.95" fill="rgb(122,122,122)"/>
<ellipse cx="229.5" cy="307.5" rx="1.62" ry="1.62" fill="rgb(122,122,122)"/>
<ellipse cx="246.5" cy="276" rx="2.38" ry="4.20" fill="rgb(122,122,122)"/>
<ellipse cx="251" cy="275" rx="2.38" ry="4.20" fill="rgb(122,122,122)"/>
<ellipse cx="258.5" cy="274" rx="2.38" ry="4.20" fill="rgb(122,122,122)"/>
<ellipse cx="261.6" cy="285" rx="2.85" ry="4.90" fill="rgb(122,122,122)"/>
<ellipse cx="257" cy="289" rx="2.38" ry="4.20" fill="rgb(122,122,122)"/>
<ellipse cx="265" cy="275" rx="1.90" ry="4.20" fill="rgb(122,122,122)"/>
<ellipse cx="278.5" cy="274" rx="1.90" ry="4.20" fill="rgb(122,122,122)"/>
<ellipse cx="280" cy="291" rx="2.85" ry="4.20" fill="rgb(122,122,122)"/>
<ellipse cx="283" cy="274" rx="1.90" ry="4.20" fill="rgb(122,122,122)"/>
<ellipse cx="287.5" cy="274" rx="1.90" ry="4.20" fill="rgb(122,122,122)"/>
<ellipse cx="291" cy="282" rx="2.85" ry="6.30" fill="rgb(122,122,122)"/>
<ellipse cx="294.5" cy="287" rx="2.85" ry="5.60" fill="rgb(122,122,122)"/>
<ellipse cx="294" cy="276" rx="1.90" ry="4.20" fill="rgb(122,122,122)"/>
<ellipse cx="268.6" cy="303.5" rx="1.95" ry="1.95" fill="rgb(122,122,122)"/>
<ellipse cx="278" cy="304" rx="1.95" ry="1.95" fill="rgb(122,122,122)"/>
<ellipse cx="82" cy="321.4" rx="2.27" ry="2.27" fill="rgb(122,122,122)"/>
<ellipse cx="83" cy="334.5" rx="2.27" ry="2.27" fill="rgb(122,122,122)"/>
<ellipse cx="107" cy="319.3" rx="3.25" ry="2.93" fill="rgb(122,122,122)"/>
<ellipse cx="105.5" cy="340" rx="1.95" ry="1.95" fill="rgb(122,122,122)"/>
<ellipse cx="141" cy="316.4" rx="1.95" ry="1.95" fill="rgb(122,122,122)"/>
<ellipse cx="155.5" cy="311" rx="1.95" ry="1.95" fill="rgb(122,122,122)"/>
<ellipse cx="172.8" cy="315.6" rx="1.95" ry="1.95" fill="rgb(122,122,122)"/>
<ellipse cx="162.6" cy="326.3" rx="2.27" ry="2.27" fill="rgb(122,122,122)"/>
<ellipse cx="142.8" cy="340.6" rx="2.27" ry="1.95" fill="rgb(122,122,122)"/>
<ellipse cx="166.4" cy="341.4" rx="2.27" ry="1.95" fill="rgb(122,122,122)"/>
<ellipse cx="182.6" cy="328" rx="2.27" ry="2.27" fill="rgb(122,122,122)"/>
<ellipse cx="194.4" cy="314" rx="2.27" ry="2.27" fill="rgb(122,122,122)"/>
<ellipse cx="212.5" cy="323.8" rx="2.60" ry="2.60" fill="rgb(122,122,122)"/>
<ellipse cx="210.5" cy="328" rx="1.95" ry="1.95" fill="rgb(122,122,122)"/>
<ellipse cx="225" cy="338" rx="1.95" ry="1.62" fill="rgb(122,122,122)"/>
<ellipse cx="267" cy="326" rx="1.95" ry="1.62" fill="rgb(122,122,122)"/>
<ellipse cx="279.5" cy="331.5" rx="2.60" ry="1.95" fill="rgb(122,122,122)"/>
<ellipse cx="257.6" cy="337.8" rx="2.60" ry="1.62" fill="rgb(122,122,122)"/>
<ellipse cx="268.5" cy="349" rx="2.60" ry="1.62" fill="rgb(122,122,122)"/>
<ellipse cx="225.3" cy="337.6" rx="2.27" ry="1.62" fill="rgb(122,122,122)"/>
<ellipse cx="117.3" cy="363.4" rx="5.85" ry="1.56" fill="rgb(122,122,122)"/>
<ellipse cx="132.5" cy="391.5" rx="7.15" ry="1.56" fill="rgb(122,122,122)"/>
<ellipse cx="172.5" cy="359.8" rx="3.25" ry="2.27" fill="rgb(122,122,122)"/>
<ellipse cx="171.1" cy="370.9" rx="3.25" ry="2.27" fill="rgb(122,122,122)"/>
<ellipse cx="201.7" cy="364" rx="5.85" ry="1.56" fill="rgb(122,122,122)"/>
<ellipse cx="212.8" cy="383.5" rx="7.80" ry="1.56" fill="rgb(122,122,122)"/>
<ellipse cx="169" cy="418.5" rx="11.05" ry="1.49" fill="rgb(122,122,122)"/>
</g>
<g filter="url(#b0_6)">
<ellipse cx="55.9" cy="273.8" rx="1.44" ry="2.70" fill="rgb(115,115,115)"/>
<ellipse cx="61.8" cy="266" rx="1.28" ry="2.25" fill="rgb(128,128,128)"/>
<ellipse cx="66" cy="276" rx="1.38" ry="2.70" fill="rgb(115,115,115)"/>
<ellipse cx="75.2" cy="278" rx="2.24" ry="4.50" fill="rgb(82,82,82)"/>
<ellipse cx="70.5" cy="284.5" rx="1.60" ry="2.70" fill="rgb(107,107,107)"/>
<ellipse cx="65.5" cy="295.5" rx="1.65" ry="2.70" fill="rgb(107,107,107)"/>
<ellipse cx="85" cy="274" rx="1.44" ry="2.70" fill="rgb(115,115,115)"/>
<ellipse cx="88" cy="274" rx="1.28" ry="2.25" fill="rgb(122,122,122)"/>
<ellipse cx="85" cy="294" rx="1.92" ry="3.60" fill="rgb(102,102,102)"/>
<ellipse cx="86" cy="303" rx="1.10" ry="1.20" fill="rgb(107,107,107)"/>
<ellipse cx="97" cy="275" rx="1.38" ry="2.70" fill="rgb(122,122,122)"/>
<ellipse cx="107.5" cy="277" rx="2.40" ry="4.50" fill="rgb(76,76,76)"/>
<ellipse cx="113" cy="275" rx="1.65" ry="3.60" fill="rgb(97,97,97)"/>
<ellipse cx="108.5" cy="300" rx="1.21" ry="1.40" fill="rgb(107,107,107)"/>
<ellipse cx="113.5" cy="278" rx="1.92" ry="3.60" fill="rgb(92,92,92)"/>
<ellipse cx="116.5" cy="274.6" rx="1.60" ry="2.70" fill="rgb(102,102,102)"/>
<ellipse cx="116.5" cy="293" rx="1.60" ry="2.70" fill="rgb(107,107,107)"/>
<ellipse cx="127.5" cy="271" rx="1.28" ry="2.70" fill="rgb(122,122,122)"/>
<ellipse cx="131" cy="283" rx="1.76" ry="3.60" fill="rgb(97,97,97)"/>
<ellipse cx="136" cy="283" rx="1.76" ry="3.60" fill="rgb(97,97,97)"/>
<ellipse cx="135" cy="275" rx="1.44" ry="2.70" fill="rgb(107,107,107)"/>
<ellipse cx="142" cy="275" rx="1.28" ry="2.70" fill="rgb(115,115,115)"/>
<ellipse cx="146.5" cy="275" rx="1.28" ry="2.70" fill="rgb(115,115,115)"/>
<ellipse cx="148.5" cy="288" rx="1.44" ry="2.70" fill="rgb(115,115,115)"/>
<ellipse cx="154" cy="273" rx="1.28" ry="2.70" fill="rgb(115,115,115)"/>
<ellipse cx="158.7" cy="277" rx="1.44" ry="2.70" fill="rgb(107,107,107)"/>
<ellipse cx="158.7" cy="287.5" rx="1.44" ry="2.70" fill="rgb(107,107,107)"/>
<ellipse cx="163.4" cy="273" rx="1.28" ry="2.70" fill="rgb(115,115,115)"/>
<ellipse cx="136" cy="306.6" rx="0.99" ry="1.00" fill="rgb(115,115,115)"/>
<ellipse cx="155" cy="310" rx="0.99" ry="1.00" fill="rgb(115,115,115)"/>
<ellipse cx="173.5" cy="279" rx="1.76" ry="3.60" fill="rgb(97,97,97)"/>
<ellipse cx="180" cy="272" rx="1.44" ry="2.70" fill="rgb(107,107,107)"/>
<ellipse cx="186.8" cy="278" rx="2.40" ry="4.05" fill="rgb(76,76,76)"/>
<ellipse cx="193" cy="277" rx="1.65" ry="3.15" fill="rgb(97,97,97)"/>
<ellipse cx="198" cy="273" rx="1.44" ry="2.70" fill="rgb(107,107,107)"/>
<ellipse cx="174.5" cy="290" rx="1.65" ry="2.70" fill="rgb(102,102,102)"/>
<ellipse cx="182" cy="294" rx="1.65" ry="2.70" fill="rgb(102,102,102)"/>
<ellipse cx="195.5" cy="289.5" rx="1.65" ry="2.70" fill="rgb(102,102,102)"/>
<ellipse cx="206" cy="278" rx="2.40" ry="4.05" fill="rgb(76,76,76)"/>
<ellipse cx="212" cy="277" rx="1.65" ry="3.15" fill="rgb(97,97,97)"/>
<ellipse cx="217" cy="273" rx="1.38" ry="2.70" fill="rgb(115,115,115)"/>
<ellipse cx="222" cy="274" rx="1.38" ry="2.70" fill="rgb(115,115,115)"/>
<ellipse cx="227" cy="276" rx="1.44" ry="2.70" fill="rgb(107,107,107)"/>
<ellipse cx="230" cy="279" rx="1.44" ry="2.70" fill="rgb(107,107,107)"/>
<ellipse cx="216" cy="297" rx="1.65" ry="2.70" fill="rgb(107,107,107)"/>
<ellipse cx="204.5" cy="306" rx="1.14" ry="1.20" fill="rgb(107,107,107)"/>
<ellipse cx="229.5" cy="307.5" rx="0.99" ry="1.00" fill="rgb(115,115,115)"/>
<ellipse cx="246.5" cy="276" rx="1.60" ry="2.70" fill="rgb(107,107,107)"/>
<ellipse cx="251" cy="275" rx="1.60" ry="2.70" fill="rgb(107,107,107)"/>
<ellipse cx="258.5" cy="274" rx="1.44" ry="2.70" fill="rgb(107,107,107)"/>
<ellipse cx="261.6" cy="285" rx="1.65" ry="3.15" fill="rgb(102,102,102)"/>
<ellipse cx="257" cy="289" rx="1.60" ry="2.70" fill="rgb(107,107,107)"/>
<ellipse cx="265" cy="275" rx="1.28" ry="2.70" fill="rgb(115,115,115)"/>
<ellipse cx="278.5" cy="274" rx="1.28" ry="2.70" fill="rgb(115,115,115)"/>
<ellipse cx="280" cy="291" rx="1.65" ry="2.70" fill="rgb(107,107,107)"/>
<ellipse cx="283" cy="274" rx="1.28" ry="2.70" fill="rgb(115,115,115)"/>
<ellipse cx="287.5" cy="274" rx="1.28" ry="2.70" fill="rgb(115,115,115)"/>
<ellipse cx="291" cy="282" rx="2.24" ry="4.05" fill="rgb(82,82,82)"/>
<ellipse cx="294.5" cy="287" rx="2.08" ry="3.60" fill="rgb(87,87,87)"/>
<ellipse cx="294" cy="276" rx="1.44" ry="2.70" fill="rgb(107,107,107)"/>
<ellipse cx="268.6" cy="303.5" rx="1.14" ry="1.20" fill="rgb(107,107,107)"/>
<ellipse cx="278" cy="304" rx="1.14" ry="1.20" fill="rgb(107,107,107)"/>
<ellipse cx="82" cy="321.4" rx="1.33" ry="1.40" fill="rgb(102,102,102)"/>
<ellipse cx="83" cy="334.5" rx="1.33" ry="1.40" fill="rgb(102,102,102)"/>
<ellipse cx="107" cy="319.3" rx="1.98" ry="1.98" fill="rgb(71,71,71)"/>
<ellipse cx="105.5" cy="340" rx="1.14" ry="1.20" fill="rgb(107,107,107)"/>
<ellipse cx="141" cy="316.4" rx="1.14" ry="1.20" fill="rgb(107,107,107)"/>
<ellipse cx="155.5" cy="311" rx="1.14" ry="1.20" fill="rgb(107,107,107)"/>
<ellipse cx="172.8" cy="315.6" rx="1.21" ry="1.21" fill="rgb(102,102,102)"/>
<ellipse cx="162.6" cy="326.3" rx="1.54" ry="1.54" fill="rgb(84,84,84)"/>
<ellipse cx="142.8" cy="340.6" rx="1.33" ry="1.21" fill="rgb(102,102,102)"/>
<ellipse cx="166.4" cy="341.4" rx="1.33" ry="1.32" fill="rgb(97,97,97)"/>
<ellipse cx="182.6" cy="328" rx="1.43" ry="1.43" fill="rgb(89,89,89)"/>
<ellipse cx="194.4" cy="314" rx="1.33" ry="1.40" fill="rgb(97,97,97)"/>
<ellipse cx="212.5" cy="323.8" rx="1.52" ry="1.60" fill="rgb(84,84,84)"/>
<ellipse cx="210.5" cy="328" rx="1.14" ry="1.20" fill="rgb(97,97,97)"/>
<ellipse cx="225" cy="338" rx="1.14" ry="1.00" fill="rgb(115,115,115)"/>
<ellipse cx="267" cy="326" rx="1.14" ry="1.10" fill="rgb(107,107,107)"/>
<ellipse cx="279.5" cy="331.5" rx="1.52" ry="1.32" fill="rgb(97,97,97)"/>
<ellipse cx="257.6" cy="337.8" rx="1.52" ry="1.21" fill="rgb(102,102,102)"/>
<ellipse cx="268.5" cy="349" rx="1.52" ry="1.21" fill="rgb(102,102,102)"/>
<ellipse cx="225.3" cy="337.6" rx="1.33" ry="1.00" fill="rgb(115,115,115)"/>
<ellipse cx="117.3" cy="363.4" rx="3.42" ry="1.21" fill="rgb(102,102,102)"/>
<ellipse cx="132.5" cy="391.5" rx="3.85" ry="1.21" fill="rgb(102,102,102)"/>
<ellipse cx="172.5" cy="359.8" rx="1.90" ry="1.54" fill="rgb(82,82,82)"/>
<ellipse cx="171.1" cy="370.9" rx="1.90" ry="1.54" fill="rgb(82,82,82)"/>
<ellipse cx="201.7" cy="364" rx="3.42" ry="1.21" fill="rgb(102,102,102)"/>
<ellipse cx="212.8" cy="383.5" rx="4.00" ry="1.21" fill="rgb(102,102,102)"/>
<ellipse cx="169" cy="418.5" rx="4.75" ry="1.10" fill="rgb(97,97,97)"/>
</g>
<rect x="46" y="193.8" width="259" height="20.19999999999999" fill="url(#topg)"/>
<g filter="url(#bx2)">
<rect x="49.0" y="201.5" width="1" height="8.0" fill="#fff" opacity="0.12"/>
<rect x="50.0" y="193.8" width="1" height="8.0" fill="#000" opacity="0.17"/>
<rect x="51.0" y="200.8" width="1" height="8.7" fill="#fff" opacity="0.09"/>
<rect x="52.0" y="193.8" width="1" height="9.9" fill="#000" opacity="0.08"/>
<rect x="53.0" y="193.8" width="1" height="12.9" fill="#000" opacity="0.10"/>
<rect x="54.0" y="202.8" width="1.3" height="6.7" fill="#fff" opacity="0.10"/>
<rect x="55.3" y="197.6" width="1.6" height="11.9" fill="#fff" opacity="0.08"/>
<rect x="56.9" y="197.9" width="1" height="11.6" fill="#fff" opacity="0.17"/>
<rect x="57.9" y="193.8" width="2" height="8.8" fill="#000" opacity="0.10"/>
<rect x="59.9" y="201.9" width="1" height="7.6" fill="#fff" opacity="0.12"/>
<rect x="60.9" y="201.8" width="1" height="7.7" fill="#fff" opacity="0.07"/>
<rect x="61.9" y="193.8" width="1" height="9.1" fill="#000" opacity="0.19"/>
<rect x="62.9" y="193.8" width="1" height="10.6" fill="#000" opacity="0.15"/>
<rect x="63.9" y="193.8" width="1.6" height="10.7" fill="#000" opacity="0.21"/>
<rect x="65.5" y="193.8" width="1" height="9.9" fill="#000" opacity="0.06"/>
<rect x="66.5" y="202.4" width="1.3" height="7.1" fill="#fff" opacity="0.08"/>
<rect x="67.8" y="203.0" width="1" height="6.5" fill="#fff" opacity="0.09"/>
<rect x="68.8" y="198.9" width="1" height="10.6" fill="#fff" opacity="0.16"/>
<rect x="69.8" y="193.8" width="1" height="12.0" fill="#000" opacity="0.17"/>
<rect x="70.8" y="203.1" width="1" height="6.4" fill="#fff" opacity="0.09"/>
<rect x="71.8" y="193.8" width="2" height="7.4" fill="#000" opacity="0.19"/>
<rect x="73.8" y="193.8" width="1.3" height="13.1" fill="#000" opacity="0.21"/>
<rect x="75.1" y="193.8" width="1.6" height="12.3" fill="#000" opacity="0.13"/>
<rect x="76.7" y="202.4" width="1" height="7.1" fill="#fff" opacity="0.10"/>
<rect x="77.7" y="193.8" width="1.3" height="11.0" fill="#000" opacity="0.18"/>
<rect x="79.0" y="193.8" width="1" height="13.8" fill="#000" opacity="0.23"/>
<rect x="80.0" y="193.8" width="1" height="12.7" fill="#000" opacity="0.19"/>
<rect x="81.0" y="200.0" width="1.3" height="9.5" fill="#fff" opacity="0.18"/>
<rect x="82.3" y="193.8" width="1" height="12.1" fill="#000" opacity="0.07"/>
<rect x="83.3" y="200.3" width="1.6" height="9.2" fill="#fff" opacity="0.13"/>
<rect x="84.9" y="193.8" width="1" height="11.3" fill="#000" opacity="0.07"/>
<rect x="85.9" y="193.8" width="1" height="12.7" fill="#000" opacity="0.10"/>
<rect x="86.9" y="193.8" width="1" height="12.2" fill="#000" opacity="0.23"/>
<rect x="87.9" y="193.8" width="1.3" height="11.0" fill="#000" opacity="0.16"/>
<rect x="89.2" y="193.8" width="2" height="9.5" fill="#000" opacity="0.13"/>
<rect x="91.2" y="202.8" width="1" height="6.7" fill="#fff" opacity="0.07"/>
<rect x="92.2" y="202.8" width="1.6" height="6.7" fill="#fff" opacity="0.17"/>
<rect x="93.8" y="193.8" width="1" height="11.1" fill="#000" opacity="0.08"/>
<rect x="94.8" y="193.8" width="1" height="12.2" fill="#000" opacity="0.16"/>
<rect x="95.8" y="199.7" width="1" height="9.8" fill="#fff" opacity="0.06"/>
<rect x="96.8" y="203.3" width="1.6" height="6.2" fill="#fff" opacity="0.14"/>
<rect x="98.4" y="202.1" width="1" height="7.4" fill="#fff" opacity="0.11"/>
<rect x="99.4" y="200.1" width="1.3" height="9.4" fill="#fff" opacity="0.18"/>
<rect x="100.7" y="203.2" width="1.3" height="6.3" fill="#fff" opacity="0.18"/>
<rect x="102.0" y="193.8" width="2" height="9.5" fill="#000" opacity="0.18"/>
<rect x="104.0" y="202.8" width="1.6" height="6.7" fill="#fff" opacity="0.06"/>
<rect x="105.6" y="193.8" width="1" height="10.5" fill="#000" opacity="0.13"/>
<rect x="106.6" y="193.8" width="1" height="9.8" fill="#000" opacity="0.13"/>
<rect x="107.6" y="198.2" width="1.6" height="11.3" fill="#fff" opacity="0.17"/>
<rect x="109.2" y="193.8" width="1" height="8.9" fill="#000" opacity="0.17"/>
<rect x="110.2" y="193.8" width="2" height="13.5" fill="#000" opacity="0.15"/>
<rect x="112.2" y="193.8" width="2" height="7.1" fill="#000" opacity="0.07"/>
<rect x="114.2" y="201.7" width="1" height="7.8" fill="#fff" opacity="0.10"/>
<rect x="115.2" y="193.8" width="1" height="13.7" fill="#000" opacity="0.16"/>
<rect x="116.2" y="200.0" width="2" height="9.5" fill="#fff" opacity="0.07"/>
<rect x="118.2" y="193.8" width="1" height="13.2" fill="#000" opacity="0.15"/>
<rect x="119.2" y="199.1" width="1.6" height="10.4" fill="#fff" opacity="0.10"/>
<rect x="120.8" y="193.8" width="2" height="11.9" fill="#000" opacity="0.14"/>
<rect x="122.8" y="199.2" width="1" height="10.3" fill="#fff" opacity="0.09"/>
<rect x="123.8" y="200.6" width="1.6" height="8.9" fill="#fff" opacity="0.10"/>
<rect x="125.4" y="193.8" width="1.3" height="8.3" fill="#000" opacity="0.11"/>
<rect x="126.7" y="193.8" width="2" height="7.1" fill="#000" opacity="0.16"/>
<rect x="128.7" y="193.8" width="1.3" height="9.3" fill="#000" opacity="0.23"/>
<rect x="130.0" y="193.8" width="1.3" height="13.9" fill="#000" opacity="0.10"/>
<rect x="131.3" y="193.8" width="1.3" height="10.9" fill="#000" opacity="0.05"/>
<rect x="132.6" y="203.1" width="2" height="6.4" fill="#fff" opacity="0.12"/>
<rect x="134.6" y="198.9" width="1.6" height="10.6" fill="#fff" opacity="0.11"/>
<rect x="136.2" y="193.8" width="2" height="12.2" fill="#000" opacity="0.23"/>
<rect x="138.2" y="193.8" width="1" height="8.0" fill="#000" opacity="0.18"/>
<rect x="139.2" y="198.6" width="1" height="10.9" fill="#fff" opacity="0.18"/>
<rect x="140.2" y="193.8" width="2" height="13.5" fill="#000" opacity="0.21"/>
<rect x="142.2" y="193.8" width="1.6" height="11.4" fill="#000" opacity="0.17"/>
<rect x="143.8" y="193.8" width="1" height="9.9" fill="#000" opacity="0.07"/>
<rect x="144.8" y="197.7" width="2" height="11.8" fill="#fff" opacity="0.13"/>
<rect x="146.8" y="193.8" width="2" height="9.0" fill="#000" opacity="0.21"/>
<rect x="148.8" y="200.8" width="2" height="8.7" fill="#fff" opacity="0.11"/>
<rect x="150.8" y="193.8" width="1.6" height="9.5" fill="#000" opacity="0.12"/>
<rect x="152.4" y="201.6" width="2" height="7.9" fill="#fff" opacity="0.11"/>
<rect x="154.4" y="193.8" width="1.6" height="10.8" fill="#000" opacity="0.11"/>
<rect x="156.0" y="193.8" width="1" height="8.6" fill="#000" opacity="0.12"/>
<rect x="157.0" y="193.8" width="1.3" height="12.9" fill="#000" opacity="0.21"/>
<rect x="158.3" y="193.8" width="1.3" height="13.4" fill="#000" opacity="0.13"/>
<rect x="159.6" y="193.8" width="1" height="13.3" fill="#000" opacity="0.10"/>
<rect x="160.6" y="200.3" width="1.3" height="9.2" fill="#fff" opacity="0.17"/>
<rect x="161.9" y="199.4" width="1.6" height="10.1" fill="#fff" opacity="0.13"/>
<rect x="163.5" y="193.8" width="1.6" height="11.7" fill="#000" opacity="0.06"/>
<rect x="165.1" y="200.3" width="1.6" height="9.2" fill="#fff" opacity="0.15"/>
<rect x="166.7" y="193.8" width="1" height="11.5" fill="#000" opacity="0.15"/>
<rect x="167.7" y="193.8" width="2" height="9.9" fill="#000" opacity="0.09"/>
<rect x="169.7" y="193.8" width="1.6" height="14.0" fill="#000" opacity="0.17"/>
<rect x="171.3" y="202.9" width="1.3" height="6.6" fill="#fff" opacity="0.16"/>
<rect x="172.6" y="193.8" width="1.3" height="12.8" fill="#000" opacity="0.24"/>
<rect x="173.9" y="193.8" width="2" height="9.1" fill="#000" opacity="0.17"/>
<rect x="175.9" y="198.2" width="1.3" height="11.3" fill="#fff" opacity="0.20"/>
<rect x="177.2" y="198.6" width="1.6" height="10.9" fill="#fff" opacity="0.13"/>
<rect x="178.8" y="202.4" width="1" height="7.1" fill="#fff" opacity="0.09"/>
<rect x="179.8" y="197.5" width="2" height="12.0" fill="#fff" opacity="0.11"/>
<rect x="181.8" y="203.5" width="1" height="6.0" fill="#fff" opacity="0.06"/>
<rect x="182.8" y="193.8" width="2" height="12.9" fill="#000" opacity="0.11"/>
<rect x="184.8" y="193.8" width="2" height="8.2" fill="#000" opacity="0.06"/>
<rect x="186.8" y="198.1" width="2" height="11.4" fill="#fff" opacity="0.18"/>
<rect x="188.8" y="201.0" width="2" height="8.5" fill="#fff" opacity="0.14"/>
<rect x="190.8" y="193.8" width="1" height="10.6" fill="#000" opacity="0.15"/>
<rect x="191.8" y="193.8" width="1" height="10.7" fill="#000" opacity="0.08"/>
<rect x="192.8" y="203.1" width="1.6" height="6.4" fill="#fff" opacity="0.17"/>
<rect x="194.4" y="202.6" width="1" height="6.9" fill="#fff" opacity="0.14"/>
<rect x="195.4" y="193.8" width="1" height="8.9" fill="#000" opacity="0.08"/>
<rect x="196.4" y="203.1" width="1" height="6.4" fill="#fff" opacity="0.19"/>
<rect x="197.4" y="193.8" width="1" height="7.4" fill="#000" opacity="0.12"/>
<rect x="198.4" y="200.9" width="1.6" height="8.6" fill="#fff" opacity="0.19"/>
<rect x="200.0" y="193.8" width="2" height="8.1" fill="#000" opacity="0.09"/>
<rect x="202.0" y="198.1" width="2" height="11.4" fill="#fff" opacity="0.10"/>
<rect x="204.0" y="193.8" width="1.6" height="13.7" fill="#000" opacity="0.16"/>
<rect x="205.6" y="199.4" width="1.6" height="10.1" fill="#fff" opacity="0.07"/>
<rect x="207.2" y="193.8" width="2" height="13.1" fill="#000" opacity="0.11"/>
<rect x="209.2" y="193.8" width="1.6" height="7.6" fill="#000" opacity="0.21"/>
<rect x="210.8" y="193.8" width="1" height="13.8" fill="#000" opacity="0.09"/>
<rect x="211.8" y="193.8" width="1.3" height="9.3" fill="#000" opacity="0.12"/>
<rect x="213.1" y="193.8" width="1.6" height="13.7" fill="#000" opacity="0.17"/>
<rect x="214.7" y="202.0" width="1.6" height="7.5" fill="#fff" opacity="0.11"/>
<rect x="216.3" y="193.8" width="1" height="10.0" fill="#000" opacity="0.12"/>
<rect x="217.3" y="202.6" width="1.3" height="6.9" fill="#fff" opacity="0.11"/>
<rect x="218.6" y="193.8" width="1" height="12.8" fill="#000" opacity="0.10"/>
<rect x="219.6" y="198.7" width="1" height="10.8" fill="#fff" opacity="0.13"/>
<rect x="220.6" y="193.8" width="1" height="12.1" fill="#000" opacity="0.12"/>
<rect x="221.6" y="201.7" width="1.6" height="7.8" fill="#fff" opacity="0.14"/>
<rect x="223.2" y="200.8" width="1.6" height="8.7" fill="#fff" opacity="0.09"/>
<rect x="224.8" y="199.9" width="1" height="9.6" fill="#fff" opacity="0.20"/>
<rect x="225.8" y="202.0" width="1.6" height="7.5" fill="#fff" opacity="0.11"/>
<rect x="227.4" y="199.0" width="2" height="10.5" fill="#fff" opacity="0.08"/>
<rect x="229.4" y="193.8" width="2" height="12.2" fill="#000" opacity="0.21"/>
<rect x="231.4" y="193.8" width="1.6" height="8.0" fill="#000" opacity="0.19"/>
<rect x="233.0" y="193.8" width="1" height="8.2" fill="#000" opacity="0.07"/>
<rect x="234.0" y="193.8" width="1" height="7.8" fill="#000" opacity="0.18"/>
<rect x="235.0" y="198.9" width="2" height="10.6" fill="#fff" opacity="0.17"/>
<rect x="237.0" y="193.8" width="1" height="8.6" fill="#000" opacity="0.11"/>
<rect x="238.0" y="201.4" width="1" height="8.1" fill="#fff" opacity="0.12"/>
<rect x="239.0" y="198.3" width="1.6" height="11.2" fill="#fff" opacity="0.18"/>
<rect x="240.6" y="201.3" width="1" height="8.2" fill="#fff" opacity="0.08"/>
<rect x="241.6" y="199.3" width="1.3" height="10.2" fill="#fff" opacity="0.06"/>
<rect x="242.9" y="193.8" width="1.6" height="9.5" fill="#000" opacity="0.21"/>
<rect x="244.5" y="193.8" width="1" height="13.4" fill="#000" opacity="0.07"/>
<rect x="245.5" y="203.3" width="1" height="6.2" fill="#fff" opacity="0.07"/>
<rect x="246.5" y="193.8" width="1" height="8.1" fill="#000" opacity="0.19"/>
<rect x="247.5" y="197.9" width="1" height="11.6" fill="#fff" opacity="0.15"/>
<rect x="248.5" y="199.2" width="2" height="10.3" fill="#fff" opacity="0.14"/>
<rect x="250.5" y="200.0" width="1.3" height="9.5" fill="#fff" opacity="0.15"/>
<rect x="251.8" y="193.8" width="1" height="11.6" fill="#000" opacity="0.20"/>
<rect x="252.8" y="199.3" width="1" height="10.2" fill="#fff" opacity="0.14"/>
<rect x="253.8" y="201.6" width="1" height="7.9" fill="#fff" opacity="0.07"/>
<rect x="254.8" y="199.3" width="1.3" height="10.2" fill="#fff" opacity="0.07"/>
<rect x="256.1" y="202.2" width="1.6" height="7.3" fill="#fff" opacity="0.15"/>
<rect x="257.7" y="193.8" width="2" height="10.0" fill="#000" opacity="0.23"/>
<rect x="259.7" y="198.5" width="1.3" height="11.0" fill="#fff" opacity="0.16"/>
<rect x="261.0" y="202.3" width="1.6" height="7.2" fill="#fff" opacity="0.15"/>
<rect x="262.6" y="200.6" width="2" height="8.9" fill="#fff" opacity="0.17"/>
<rect x="264.6" y="193.8" width="1" height="12.6" fill="#000" opacity="0.18"/>
<rect x="265.6" y="193.8" width="1.3" height="12.5" fill="#000" opacity="0.08"/>
<rect x="266.9" y="203.1" width="1" height="6.4" fill="#fff" opacity="0.09"/>
<rect x="267.9" y="193.8" width="1.3" height="11.5" fill="#000" opacity="0.07"/>
<rect x="269.2" y="193.8" width="1" height="11.7" fill="#000" opacity="0.18"/>
<rect x="270.2" y="199.4" width="1" height="10.1" fill="#fff" opacity="0.06"/>
<rect x="271.2" y="201.7" width="1" height="7.8" fill="#fff" opacity="0.11"/>
<rect x="272.2" y="199.7" width="1" height="9.8" fill="#fff" opacity="0.09"/>
<rect x="273.2" y="202.5" width="1" height="7.0" fill="#fff" opacity="0.17"/>
<rect x="274.2" y="198.9" width="1" height="10.6" fill="#fff" opacity="0.12"/>
<rect x="275.2" y="193.8" width="1" height="9.5" fill="#000" opacity="0.10"/>
<rect x="276.2" y="193.8" width="1" height="9.1" fill="#000" opacity="0.22"/>
<rect x="277.2" y="202.8" width="1" height="6.7" fill="#fff" opacity="0.12"/>
<rect x="278.2" y="193.8" width="1.3" height="9.0" fill="#000" opacity="0.16"/>
<rect x="279.5" y="193.8" width="2" height="13.9" fill="#000" opacity="0.05"/>
<rect x="281.5" y="193.8" width="1.6" height="13.9" fill="#000" opacity="0.19"/>
<rect x="283.1" y="193.8" width="2" height="13.7" fill="#000" opacity="0.17"/>
<rect x="285.1" y="193.8" width="1.6" height="7.1" fill="#000" opacity="0.15"/>
<rect x="286.7" y="197.9" width="1" height="11.6" fill="#fff" opacity="0.15"/>
<rect x="287.7" y="199.0" width="1.3" height="10.5" fill="#fff" opacity="0.07"/>
<rect x="289.0" y="201.7" width="1" height="7.8" fill="#fff" opacity="0.18"/>
<rect x="290.0" y="198.1" width="1" height="11.4" fill="#fff" opacity="0.13"/>
<rect x="291.0" y="193.8" width="1" height="9.2" fill="#000" opacity="0.19"/>
<rect x="292.0" y="193.8" width="2" height="12.8" fill="#000" opacity="0.09"/>
<rect x="294.0" y="193.8" width="1.3" height="13.4" fill="#000" opacity="0.08"/>
<rect x="295.3" y="193.8" width="1.3" height="11.0" fill="#000" opacity="0.06"/>
<rect x="296.6" y="200.5" width="1.6" height="9.0" fill="#fff" opacity="0.19"/>
<rect x="298.2" y="199.9" width="1.6" height="9.6" fill="#fff" opacity="0.20"/>
<rect x="299.8" y="193.8" width="1" height="8.0" fill="#000" opacity="0.09"/>
<rect x="300.8" y="193.8" width="1.6" height="10.1" fill="#000" opacity="0.06"/>
</g>
<g filter="url(#bx)">
<rect x="49.0" y="235.5" width="1" height="8.1" fill="rgb(168,168,168)" opacity="0.85"/>
<rect x="51.5" y="235.1" width="2" height="10.6" fill="rgb(176,176,176)" opacity="0.85"/>
<rect x="55.0" y="235.4" width="2" height="9.8" fill="rgb(176,176,176)" opacity="0.85"/>
<rect x="58.5" y="234.7" width="1" height="9.2" fill="rgb(193,193,193)" opacity="0.85"/>
<rect x="60.5" y="236.3" width="2" height="9.9" fill="rgb(185,185,185)" opacity="0.85"/>
<rect x="64.0" y="235.7" width="1.5" height="10.1" fill="rgb(179,179,179)" opacity="0.85"/>
<rect x="67.0" y="237.8" width="1" height="10.5" fill="rgb(195,195,195)" opacity="0.85"/>
<rect x="68.5" y="236.4" width="2" height="9.2" fill="rgb(185,185,185)" opacity="0.85"/>
<rect x="72.0" y="235.9" width="1.5" height="10.6" fill="rgb(195,195,195)" opacity="0.85"/>
<rect x="74.5" y="236.5" width="1.5" height="11.4" fill="rgb(180,180,180)" opacity="0.85"/>
<rect x="76.5" y="236.8" width="2" height="8.6" fill="rgb(187,187,187)" opacity="0.85"/>
<rect x="80.0" y="237.8" width="1.5" height="9.4" fill="rgb(180,180,180)" opacity="0.85"/>
<rect x="82.0" y="235.0" width="2" height="8.9" fill="rgb(176,176,176)" opacity="0.85"/>
<rect x="84.5" y="234.9" width="2" height="11.3" fill="rgb(187,187,187)" opacity="0.85"/>
<rect x="88.0" y="236.7" width="1" height="10.8" fill="rgb(167,167,167)" opacity="0.85"/>
<rect x="89.5" y="236.2" width="2" height="10.8" fill="rgb(177,177,177)" opacity="0.85"/>
<rect x="93.0" y="236.3" width="2" height="11.4" fill="rgb(193,193,193)" opacity="0.85"/>
<rect x="96.5" y="234.5" width="1" height="10.0" fill="rgb(189,189,189)" opacity="0.85"/>
<rect x="99.0" y="237.8" width="2" height="10.5" fill="rgb(191,191,191)" opacity="0.85"/>
<rect x="102.5" y="237.3" width="2" height="9.6" fill="rgb(164,164,164)" opacity="0.85"/>
<rect x="105.0" y="237.1" width="1" height="8.5" fill="rgb(181,181,181)" opacity="0.85"/>
<rect x="107.5" y="234.2" width="1" height="8.2" fill="rgb(175,175,175)" opacity="0.85"/>
<rect x="110.0" y="235.8" width="2" height="8.5" fill="rgb(195,195,195)" opacity="0.85"/>
<rect x="112.5" y="234.4" width="1.5" height="12.0" fill="rgb(193,193,193)" opacity="0.85"/>
<rect x="114.5" y="236.9" width="2" height="9.4" fill="rgb(165,165,165)" opacity="0.85"/>
<rect x="117.5" y="237.2" width="2" height="10.9" fill="rgb(191,191,191)" opacity="0.85"/>
<rect x="120.0" y="235.5" width="1.5" height="10.9" fill="rgb(165,165,165)" opacity="0.85"/>
<rect x="122.5" y="237.3" width="2" height="9.4" fill="rgb(178,178,178)" opacity="0.85"/>
<rect x="125.5" y="236.4" width="2" height="8.1" fill="rgb(172,172,172)" opacity="0.85"/>
<rect x="129.0" y="234.8" width="1" height="9.8" fill="rgb(170,170,170)" opacity="0.85"/>
<rect x="131.5" y="234.1" width="1.5" height="8.4" fill="rgb(165,165,165)" opacity="0.85"/>
<rect x="134.0" y="237.7" width="1" height="11.5" fill="rgb(166,166,166)" opacity="0.85"/>
<rect x="136.5" y="236.4" width="1.5" height="9.0" fill="rgb(191,191,191)" opacity="0.85"/>
<rect x="139.5" y="234.1" width="1.5" height="9.4" fill="rgb(195,195,195)" opacity="0.85"/>
<rect x="141.5" y="237.5" width="1.5" height="11.2" fill="rgb(179,179,179)" opacity="0.85"/>
<rect x="143.5" y="237.3" width="1" height="10.7" fill="rgb(167,167,167)" opacity="0.85"/>
<rect x="145.5" y="236.8" width="1.5" height="9.8" fill="rgb(195,195,195)" opacity="0.85"/>
<rect x="147.5" y="235.4" width="2" height="10.1" fill="rgb(179,179,179)" opacity="0.85"/>
<rect x="150.5" y="234.2" width="1" height="8.7" fill="rgb(182,182,182)" opacity="0.85"/>
<rect x="152.5" y="236.3" width="2" height="9.6" fill="rgb(177,177,177)" opacity="0.85"/>
<rect x="155.5" y="236.3" width="1.5" height="9.3" fill="rgb(161,161,161)" opacity="0.85"/>
<rect x="157.5" y="237.9" width="1" height="8.2" fill="rgb(177,177,177)" opacity="0.85"/>
<rect x="159.0" y="235.1" width="2" height="9.1" fill="rgb(185,185,185)" opacity="0.85"/>
<rect x="162.5" y="236.3" width="1.5" height="10.3" fill="rgb(173,173,173)" opacity="0.85"/>
<rect x="164.5" y="236.2" width="2" height="11.1" fill="rgb(162,162,162)" opacity="0.85"/>
<rect x="167.0" y="236.5" width="1.5" height="9.5" fill="rgb(183,183,183)" opacity="0.85"/>
<rect x="169.5" y="237.8" width="1" height="10.7" fill="rgb(192,192,192)" opacity="0.85"/>
<rect x="171.5" y="236.0" width="1.5" height="10.5" fill="rgb(187,187,187)" opacity="0.85"/>
<rect x="174.0" y="235.3" width="2" height="10.8" fill="rgb(186,186,186)" opacity="0.85"/>
<rect x="177.5" y="237.1" width="1.5" height="10.0" fill="rgb(192,192,192)" opacity="0.85"/>
<rect x="179.5" y="234.6" width="1" height="8.8" fill="rgb(196,196,196)" opacity="0.85"/>
<rect x="182.0" y="235.6" width="1.5" height="11.1" fill="rgb(175,175,175)" opacity="0.85"/>
<rect x="184.0" y="235.2" width="2" height="9.2" fill="rgb(163,163,163)" opacity="0.85"/>
<rect x="187.5" y="237.7" width="2" height="9.4" fill="rgb(180,180,180)" opacity="0.85"/>
<rect x="190.0" y="236.3" width="2" height="9.2" fill="rgb(194,194,194)" opacity="0.85"/>
<rect x="193.0" y="237.1" width="1.5" height="9.7" fill="rgb(173,173,173)" opacity="0.85"/>
<rect x="195.0" y="234.7" width="1.5" height="11.6" fill="rgb(172,172,172)" opacity="0.85"/>
<rect x="198.0" y="236.5" width="1" height="8.9" fill="rgb(188,188,188)" opacity="0.85"/>
<rect x="199.5" y="235.8" width="1" height="11.6" fill="rgb(162,162,162)" opacity="0.85"/>
<rect x="201.5" y="234.8" width="2" height="10.9" fill="rgb(184,184,184)" opacity="0.85"/>
<rect x="204.0" y="234.3" width="2" height="11.3" fill="rgb(162,162,162)" opacity="0.85"/>
<rect x="207.5" y="234.0" width="1.5" height="9.1" fill="rgb(186,186,186)" opacity="0.85"/>
<rect x="210.5" y="237.7" width="1" height="8.8" fill="rgb(183,183,183)" opacity="0.85"/>
<rect x="212.5" y="235.9" width="2" height="10.4" fill="rgb(162,162,162)" opacity="0.85"/>
<rect x="215.5" y="235.7" width="1" height="8.2" fill="rgb(163,163,163)" opacity="0.85"/>
<rect x="218.0" y="236.0" width="2" height="10.4" fill="rgb(173,173,173)" opacity="0.85"/>
<rect x="221.0" y="234.1" width="1.5" height="9.3" fill="rgb(192,192,192)" opacity="0.85"/>
<rect x="224.0" y="236.5" width="1.5" height="10.9" fill="rgb(163,163,163)" opacity="0.85"/>
<rect x="226.5" y="234.6" width="1" height="8.6" fill="rgb(164,164,164)" opacity="0.85"/>
<rect x="228.0" y="235.7" width="1.5" height="10.2" fill="rgb(190,190,190)" opacity="0.85"/>
<rect x="231.0" y="237.9" width="2" height="10.3" fill="rgb(166,166,166)" opacity="0.85"/>
<rect x="233.5" y="237.3" width="2" height="9.9" fill="rgb(183,183,183)" opacity="0.85"/>
<rect x="236.0" y="237.1" width="2" height="11.9" fill="rgb(172,172,172)" opacity="0.85"/>
<rect x="239.0" y="236.1" width="2" height="11.8" fill="rgb(171,171,171)" opacity="0.85"/>
<rect x="241.5" y="235.9" width="1.5" height="10.6" fill="rgb(161,161,161)" opacity="0.85"/>
<rect x="244.0" y="234.9" width="1" height="11.0" fill="rgb(196,196,196)" opacity="0.85"/>
<rect x="245.5" y="234.5" width="1" height="10.2" fill="rgb(183,183,183)" opacity="0.85"/>
<rect x="247.0" y="235.0" width="2" height="10.4" fill="rgb(188,188,188)" opacity="0.85"/>
<rect x="250.5" y="237.5" width="1" height="11.4" fill="rgb(193,193,193)" opacity="0.85"/>
<rect x="252.0" y="237.1" width="2" height="9.0" fill="rgb(162,162,162)" opacity="0.85"/>
<rect x="255.0" y="235.4" width="1" height="11.2" fill="rgb(183,183,183)" opacity="0.85"/>
<rect x="257.0" y="237.6" width="1" height="8.4" fill="rgb(172,172,172)" opacity="0.85"/>
<rect x="259.5" y="236.6" width="1" height="9.6" fill="rgb(163,163,163)" opacity="0.85"/>
<rect x="261.5" y="235.5" width="1" height="11.6" fill="rgb(169,169,169)" opacity="0.85"/>
<rect x="263.5" y="234.9" width="2" height="9.0" fill="rgb(183,183,183)" opacity="0.85"/>
<rect x="266.5" y="234.9" width="2" height="8.8" fill="rgb(176,176,176)" opacity="0.85"/>
<rect x="269.5" y="237.5" width="2" height="10.0" fill="rgb(171,171,171)" opacity="0.85"/>
<rect x="273.0" y="237.7" width="1" height="11.1" fill="rgb(178,178,178)" opacity="0.85"/>
<rect x="274.5" y="235.3" width="1.5" height="9.9" fill="rgb(171,171,171)" opacity="0.85"/>
<rect x="276.5" y="236.4" width="1" height="11.8" fill="rgb(172,172,172)" opacity="0.85"/>
<rect x="278.0" y="237.1" width="2" height="11.4" fill="rgb(163,163,163)" opacity="0.85"/>
<rect x="281.5" y="237.1" width="1.5" height="9.8" fill="rgb(162,162,162)" opacity="0.85"/>
<rect x="284.0" y="235.2" width="1" height="8.1" fill="rgb(196,196,196)" opacity="0.85"/>
<rect x="285.5" y="234.0" width="1" height="11.6" fill="rgb(195,195,195)" opacity="0.85"/>
<rect x="287.0" y="234.4" width="2" height="8.7" fill="rgb(187,187,187)" opacity="0.85"/>
<rect x="290.5" y="235.4" width="1.5" height="11.7" fill="rgb(164,164,164)" opacity="0.85"/>
<rect x="293.5" y="237.9" width="1.5" height="8.1" fill="rgb(192,192,192)" opacity="0.85"/>
<rect x="295.5" y="236.8" width="1" height="8.2" fill="rgb(189,189,189)" opacity="0.85"/>
<rect x="298.0" y="235.7" width="2" height="8.4" fill="rgb(169,169,169)" opacity="0.85"/>
<rect x="300.5" y="235.3" width="1" height="11.5" fill="rgb(196,196,196)" opacity="0.85"/>
</g>
<g filter="url(#b0_6)">
<rect x="49.0" y="238.4" width="1.3" height="2.0" fill="rgb(152,152,152)" opacity="0.69"/>
<rect x="51.3" y="238.4" width="1.6" height="2.1" fill="rgb(144,144,144)" opacity="0.74"/>
<rect x="55.1" y="238.1" width="1" height="3.0" fill="rgb(130,130,130)" opacity="0.95"/>
<rect x="56.6" y="237.8" width="1.3" height="2.3" fill="rgb(142,142,142)" opacity="0.99"/>
<rect x="58.9" y="238.7" width="1.6" height="3.0" fill="rgb(119,119,119)" opacity="0.71"/>
<rect x="62.0" y="238.3" width="1.6" height="2.3" fill="rgb(119,119,119)" opacity="0.73"/>
<rect x="65.8" y="238.3" width="1.6" height="2.3" fill="rgb(143,143,143)" opacity="0.77"/>
<rect x="68.4" y="238.9" width="1.3" height="2.8" fill="rgb(144,144,144)" opacity="0.96"/>
<rect x="70.2" y="238.9" width="1" height="2.3" fill="rgb(139,139,139)" opacity="0.84"/>
<rect x="73.4" y="238.6" width="1" height="2.1" fill="rgb(147,147,147)" opacity="0.85"/>
<rect x="74.9" y="238.6" width="1.6" height="2.3" fill="rgb(119,119,119)" opacity="0.86"/>
<rect x="78.0" y="237.8" width="1.3" height="2.7" fill="rgb(152,152,152)" opacity="0.94"/>
<rect x="80.8" y="238.3" width="1.6" height="2.8" fill="rgb(137,137,137)" opacity="0.92"/>
<rect x="84.6" y="238.3" width="1.3" height="2.5" fill="rgb(143,143,143)" opacity="0.85"/>
<rect x="87.4" y="238.5" width="1" height="2.2" fill="rgb(140,140,140)" opacity="0.85"/>
<rect x="89.9" y="238.4" width="1.3" height="2.7" fill="rgb(150,150,150)" opacity="0.81"/>
<rect x="93.4" y="238.0" width="1.6" height="2.9" fill="rgb(125,125,125)" opacity="0.81"/>
<rect x="96.0" y="238.2" width="1.6" height="2.7" fill="rgb(123,123,123)" opacity="0.66"/>
<rect x="99.8" y="238.8" width="1" height="2.9" fill="rgb(140,140,140)" opacity="0.95"/>
<rect x="101.3" y="238.8" width="1.3" height="2.8" fill="rgb(131,131,131)" opacity="0.65"/>
<rect x="103.6" y="237.9" width="1.6" height="2.4" fill="rgb(126,126,126)" opacity="0.92"/>
<rect x="106.7" y="238.1" width="1.3" height="2.3" fill="rgb(141,141,141)" opacity="0.78"/>
<rect x="108.5" y="238.7" width="1.3" height="2.2" fill="rgb(140,140,140)" opacity="0.81"/>
<rect x="110.3" y="238.4" width="1.6" height="2.7" fill="rgb(122,122,122)" opacity="0.85"/>
<rect x="113.4" y="238.5" width="1.3" height="2.0" fill="rgb(126,126,126)" opacity="0.70"/>
<rect x="115.7" y="238.1" width="1.3" height="2.3" fill="rgb(143,143,143)" opacity="0.70"/>
<rect x="119.2" y="238.4" width="1" height="2.1" fill="rgb(136,136,136)" opacity="0.65"/>
<rect x="121.7" y="238.9" width="1.6" height="2.7" fill="rgb(145,145,145)" opacity="0.75"/>
<rect x="123.8" y="239.0" width="1.6" height="2.4" fill="rgb(144,144,144)" opacity="0.84"/>
<rect x="126.9" y="238.8" width="1.3" height="2.1" fill="rgb(126,126,126)" opacity="0.85"/>
<rect x="129.7" y="238.2" width="1" height="2.1" fill="rgb(141,141,141)" opacity="0.90"/>
<rect x="132.9" y="238.4" width="1.3" height="2.9" fill="rgb(136,136,136)" opacity="0.90"/>
<rect x="134.7" y="238.4" width="1" height="2.5" fill="rgb(138,138,138)" opacity="0.94"/>
<rect x="137.9" y="237.9" width="1.3" height="2.4" fill="rgb(124,124,124)" opacity="0.65"/>
<rect x="139.7" y="238.0" width="1.6" height="2.5" fill="rgb(126,126,126)" opacity="0.97"/>
<rect x="142.8" y="238.3" width="1.6" height="2.5" fill="rgb(129,129,129)" opacity="0.64"/>
<rect x="144.9" y="237.9" width="1.6" height="2.1" fill="rgb(146,146,146)" opacity="0.90"/>
<rect x="148.7" y="238.0" width="1" height="2.3" fill="rgb(147,147,147)" opacity="0.95"/>
<rect x="151.9" y="238.3" width="1.6" height="2.1" fill="rgb(122,122,122)" opacity="0.85"/>
<rect x="155.0" y="239.0" width="1.3" height="2.2" fill="rgb(124,124,124)" opacity="0.82"/>
<rect x="157.8" y="238.1" width="1" height="2.9" fill="rgb(128,128,128)" opacity="0.82"/>
<rect x="161.0" y="238.2" width="1.6" height="2.9" fill="rgb(119,119,119)" opacity="0.92"/>
<rect x="164.1" y="237.9" width="1.3" height="2.5" fill="rgb(125,125,125)" opacity="0.75"/>
<rect x="167.6" y="238.5" width="1.6" height="2.4" fill="rgb(135,135,135)" opacity="0.92"/>
<rect x="170.2" y="238.5" width="1.3" height="2.1" fill="rgb(150,150,150)" opacity="0.73"/>
<rect x="172.0" y="238.8" width="1.3" height="2.0" fill="rgb(151,151,151)" opacity="0.69"/>
<rect x="175.5" y="238.1" width="1.3" height="3.0" fill="rgb(124,124,124)" opacity="0.84"/>
<rect x="179.0" y="238.9" width="1.6" height="2.1" fill="rgb(133,133,133)" opacity="0.77"/>
<rect x="181.1" y="238.9" width="1" height="2.8" fill="rgb(122,122,122)" opacity="0.80"/>
<rect x="182.6" y="238.8" width="1.6" height="2.5" fill="rgb(137,137,137)" opacity="0.87"/>
<rect x="185.7" y="238.0" width="1" height="2.8" fill="rgb(136,136,136)" opacity="0.89"/>
<rect x="187.2" y="238.7" width="1.3" height="3.0" fill="rgb(121,121,121)" opacity="0.77"/>
<rect x="190.0" y="238.6" width="1.6" height="2.2" fill="rgb(150,150,150)" opacity="0.62"/>
<rect x="192.6" y="238.3" width="1" height="2.8" fill="rgb(123,123,123)" opacity="0.95"/>
<rect x="195.1" y="238.0" width="1.6" height="2.9" fill="rgb(137,137,137)" opacity="0.73"/>
<rect x="197.7" y="238.6" width="1" height="2.2" fill="rgb(151,151,151)" opacity="0.99"/>
<rect x="200.2" y="238.1" width="1.3" height="2.7" fill="rgb(123,123,123)" opacity="0.88"/>
<rect x="202.5" y="238.0" width="1.3" height="2.3" fill="rgb(123,123,123)" opacity="0.76"/>
<rect x="204.3" y="238.9" width="1.3" height="3.0" fill="rgb(122,122,122)" opacity="0.98"/>
<rect x="206.1" y="237.8" width="1.3" height="2.8" fill="rgb(135,135,135)" opacity="0.96"/>
<rect x="207.9" y="238.8" width="1" height="2.6" fill="rgb(135,135,135)" opacity="0.82"/>
<rect x="209.4" y="238.1" width="1" height="2.9" fill="rgb(122,122,122)" opacity="0.94"/>
<rect x="211.4" y="237.8" width="1.6" height="2.6" fill="rgb(150,150,150)" opacity="0.99"/>
<rect x="214.5" y="238.6" width="1" height="2.1" fill="rgb(151,151,151)" opacity="0.73"/>
<rect x="217.7" y="238.7" width="1.3" height="2.2" fill="rgb(126,126,126)" opacity="0.92"/>
<rect x="220.5" y="238.3" width="1" height="2.7" fill="rgb(143,143,143)" opacity="0.65"/>
<rect x="222.5" y="237.8" width="1.6" height="2.0" fill="rgb(131,131,131)" opacity="0.83"/>
<rect x="226.3" y="238.3" width="1.6" height="2.8" fill="rgb(142,142,142)" opacity="0.63"/>
<rect x="228.9" y="238.9" width="1.3" height="2.3" fill="rgb(123,123,123)" opacity="0.94"/>
<rect x="232.4" y="237.9" width="1.3" height="2.9" fill="rgb(123,123,123)" opacity="0.65"/>
<rect x="235.9" y="237.9" width="1.3" height="2.5" fill="rgb(136,136,136)" opacity="0.67"/>
<rect x="237.7" y="238.9" width="1.6" height="2.3" fill="rgb(126,126,126)" opacity="0.82"/>
<rect x="240.3" y="238.4" width="1" height="2.2" fill="rgb(143,143,143)" opacity="0.64"/>
<rect x="241.8" y="238.7" width="1" height="2.6" fill="rgb(135,135,135)" opacity="0.88"/>
<rect x="243.8" y="238.0" width="1" height="2.3" fill="rgb(144,144,144)" opacity="0.61"/>
<rect x="247.0" y="238.2" width="1.6" height="2.9" fill="rgb(136,136,136)" opacity="0.63"/>
<rect x="249.6" y="238.7" width="1" height="2.5" fill="rgb(126,126,126)" opacity="0.93"/>
<rect x="251.6" y="239.0" width="1" height="2.0" fill="rgb(139,139,139)" opacity="0.85"/>
<rect x="253.6" y="238.8" width="1.3" height="2.5" fill="rgb(130,130,130)" opacity="0.97"/>
<rect x="255.4" y="238.3" width="1.3" height="2.4" fill="rgb(151,151,151)" opacity="0.64"/>
<rect x="257.7" y="238.6" width="1" height="2.2" fill="rgb(143,143,143)" opacity="0.74"/>
<rect x="259.7" y="238.1" width="1" height="2.3" fill="rgb(124,124,124)" opacity="0.99"/>
<rect x="261.2" y="238.4" width="1.3" height="2.3" fill="rgb(119,119,119)" opacity="0.63"/>
<rect x="263.0" y="237.9" width="1" height="2.4" fill="rgb(148,148,148)" opacity="0.76"/>
<rect x="265.5" y="239.0" width="1.6" height="2.7" fill="rgb(123,123,123)" opacity="0.90"/>
<rect x="268.1" y="238.9" width="1.3" height="2.9" fill="rgb(147,147,147)" opacity="0.90"/>
<rect x="270.4" y="238.6" width="1.3" height="2.9" fill="rgb(131,131,131)" opacity="0.81"/>
<rect x="272.2" y="238.7" width="1" height="2.3" fill="rgb(152,152,152)" opacity="0.94"/>
<rect x="274.2" y="238.3" width="1" height="2.2" fill="rgb(124,124,124)" opacity="0.80"/>
<rect x="275.7" y="238.3" width="1.3" height="2.6" fill="rgb(141,141,141)" opacity="0.91"/>
<rect x="278.5" y="237.9" width="1.3" height="2.7" fill="rgb(132,132,132)" opacity="0.93"/>
<rect x="281.3" y="238.8" width="1.6" height="2.8" fill="rgb(139,139,139)" opacity="0.60"/>
<rect x="285.1" y="237.9" width="1.6" height="2.8" fill="rgb(118,118,118)" opacity="0.77"/>
<rect x="288.2" y="238.5" width="1.3" height="2.1" fill="rgb(123,123,123)" opacity="0.76"/>
<rect x="291.7" y="238.2" width="1.6" height="3.0" fill="rgb(118,118,118)" opacity="0.67"/>
<rect x="295.5" y="238.8" width="1.3" height="2.1" fill="rgb(141,141,141)" opacity="0.87"/>
<rect x="297.3" y="238.0" width="1.3" height="2.3" fill="rgb(147,147,147)" opacity="0.98"/>
<rect x="300.1" y="238.9" width="1" height="2.6" fill="rgb(125,125,125)" opacity="0.96"/>
</g>
<g filter="url(#bx)">
<rect x="49.0" y="267.8" width="1.5" height="5.0" fill="rgb(168,168,168)" opacity="0.55"/>
<rect x="51.5" y="264.0" width="1" height="6.4" fill="rgb(164,164,164)" opacity="0.55"/>
<rect x="53.0" y="267.2" width="1" height="4.0" fill="rgb(166,166,166)" opacity="0.55"/>
<rect x="55.5" y="266.2" width="2" height="6.4" fill="rgb(152,152,152)" opacity="0.55"/>
<rect x="59.5" y="267.6" width="1" height="5.7" fill="rgb(186,186,186)" opacity="0.55"/>
<rect x="61.0" y="265.8" width="2" height="6.8" fill="rgb(173,173,173)" opacity="0.55"/>
<rect x="64.5" y="266.5" width="1.5" height="4.5" fill="rgb(175,175,175)" opacity="0.55"/>
<rect x="66.5" y="265.5" width="2" height="6.9" fill="rgb(168,168,168)" opacity="0.55"/>
<rect x="69.0" y="265.5" width="2" height="4.2" fill="rgb(153,153,153)" opacity="0.55"/>
<rect x="72.0" y="265.8" width="2" height="6.8" fill="rgb(173,173,173)" opacity="0.55"/>
<rect x="76.0" y="267.7" width="1" height="4.1" fill="rgb(148,148,148)" opacity="0.55"/>
<rect x="78.0" y="266.0" width="2" height="7.0" fill="rgb(185,185,185)" opacity="0.55"/>
<rect x="81.0" y="267.9" width="2" height="5.5" fill="rgb(172,172,172)" opacity="0.55"/>
<rect x="84.0" y="264.1" width="1.5" height="5.2" fill="rgb(179,179,179)" opacity="0.55"/>
<rect x="87.5" y="267.8" width="2" height="5.6" fill="rgb(151,151,151)" opacity="0.55"/>
<rect x="91.5" y="267.6" width="2" height="4.3" fill="rgb(163,163,163)" opacity="0.55"/>
<rect x="95.5" y="265.4" width="1" height="3.6" fill="rgb(180,180,180)" opacity="0.55"/>
<rect x="97.0" y="266.1" width="1" height="5.7" fill="rgb(160,160,160)" opacity="0.55"/>
<rect x="98.5" y="265.5" width="2" height="6.9" fill="rgb(160,160,160)" opacity="0.55"/>
<rect x="101.5" y="267.8" width="1.5" height="3.8" fill="rgb(161,161,161)" opacity="0.55"/>
<rect x="104.5" y="266.7" width="1.5" height="4.4" fill="rgb(164,164,164)" opacity="0.55"/>
<rect x="107.5" y="265.9" width="1.5" height="3.4" fill="rgb(180,180,180)" opacity="0.55"/>
<rect x="111.0" y="266.5" width="2" height="6.1" fill="rgb(182,182,182)" opacity="0.55"/>
<rect x="114.5" y="267.0" width="1" height="4.9" fill="rgb(154,154,154)" opacity="0.55"/>
<rect x="117.5" y="265.5" width="1" height="6.7" fill="rgb(159,159,159)" opacity="0.55"/>
<rect x="120.0" y="265.8" width="2" height="3.0" fill="rgb(153,153,153)" opacity="0.55"/>
<rect x="123.5" y="265.4" width="1.5" height="6.9" fill="rgb(172,172,172)" opacity="0.55"/>
<rect x="125.5" y="266.4" width="2" height="6.3" fill="rgb(152,152,152)" opacity="0.55"/>
<rect x="128.0" y="264.7" width="1.5" height="5.9" fill="rgb(155,155,155)" opacity="0.55"/>
<rect x="130.0" y="267.8" width="1.5" height="6.0" fill="rgb(164,164,164)" opacity="0.55"/>
<rect x="133.0" y="267.2" width="1.5" height="4.4" fill="rgb(164,164,164)" opacity="0.55"/>
<rect x="135.5" y="266.1" width="2" height="5.1" fill="rgb(183,183,183)" opacity="0.55"/>
<rect x="139.0" y="266.7" width="1" height="6.7" fill="rgb(157,157,157)" opacity="0.55"/>
<rect x="140.5" y="266.3" width="2" height="3.9" fill="rgb(148,148,148)" opacity="0.55"/>
<rect x="144.5" y="266.9" width="1.5" height="6.1" fill="rgb(157,157,157)" opacity="0.55"/>
<rect x="147.0" y="267.4" width="1" height="4.0" fill="rgb(157,157,157)" opacity="0.55"/>
<rect x="148.5" y="267.0" width="1.5" height="6.3" fill="rgb(185,185,185)" opacity="0.55"/>
<rect x="152.0" y="266.8" width="1.5" height="5.8" fill="rgb(153,153,153)" opacity="0.55"/>
<rect x="155.0" y="266.4" width="2" height="6.3" fill="rgb(151,151,151)" opacity="0.55"/>
<rect x="158.5" y="264.9" width="2" height="3.4" fill="rgb(157,157,157)" opacity="0.55"/>
<rect x="161.0" y="266.1" width="1.5" height="3.5" fill="rgb(149,149,149)" opacity="0.55"/>
<rect x="164.0" y="266.5" width="1" height="3.6" fill="rgb(148,148,148)" opacity="0.55"/>
<rect x="166.5" y="265.8" width="2" height="5.2" fill="rgb(150,150,150)" opacity="0.55"/>
<rect x="169.0" y="265.9" width="1" height="4.9" fill="rgb(170,170,170)" opacity="0.55"/>
<rect x="171.5" y="267.9" width="2" height="5.1" fill="rgb(186,186,186)" opacity="0.55"/>
<rect x="174.5" y="267.3" width="1" height="4.1" fill="rgb(171,171,171)" opacity="0.55"/>
<rect x="176.0" y="264.1" width="1" height="5.0" fill="rgb(180,180,180)" opacity="0.55"/>
<rect x="179.0" y="266.5" width="1.5" height="5.9" fill="rgb(150,150,150)" opacity="0.55"/>
<rect x="181.0" y="267.8" width="1.5" height="4.6" fill="rgb(164,164,164)" opacity="0.55"/>
<rect x="183.0" y="265.3" width="1.5" height="6.9" fill="rgb(187,187,187)" opacity="0.55"/>
<rect x="185.0" y="264.5" width="2" height="4.8" fill="rgb(167,167,167)" opacity="0.55"/>
<rect x="189.0" y="264.8" width="1" height="4.6" fill="rgb(162,162,162)" opacity="0.55"/>
<rect x="191.5" y="267.6" width="1" height="3.1" fill="rgb(151,151,151)" opacity="0.55"/>
<rect x="193.5" y="267.1" width="2" height="3.8" fill="rgb(178,178,178)" opacity="0.55"/>
<rect x="197.0" y="264.1" width="2" height="6.0" fill="rgb(180,180,180)" opacity="0.55"/>
<rect x="199.5" y="265.7" width="1" height="6.3" fill="rgb(162,162,162)" opacity="0.55"/>
<rect x="202.0" y="264.7" width="2" height="5.5" fill="rgb(162,162,162)" opacity="0.55"/>
<rect x="205.5" y="267.0" width="1.5" height="5.8" fill="rgb(152,152,152)" opacity="0.55"/>
<rect x="209.0" y="265.8" width="1" height="3.4" fill="rgb(181,181,181)" opacity="0.55"/>
<rect x="210.5" y="267.5" width="1" height="4.9" fill="rgb(163,163,163)" opacity="0.55"/>
<rect x="212.0" y="265.9" width="1.5" height="6.3" fill="rgb(180,180,180)" opacity="0.55"/>
<rect x="214.5" y="265.0" width="1" height="4.6" fill="rgb(169,169,169)" opacity="0.55"/>
<rect x="217.0" y="267.8" width="1.5" height="3.8" fill="rgb(175,175,175)" opacity="0.55"/>
<rect x="220.0" y="266.9" width="2" height="4.5" fill="rgb(166,166,166)" opacity="0.55"/>
<rect x="224.0" y="264.4" width="1" height="5.9" fill="rgb(154,154,154)" opacity="0.55"/>
<rect x="227.0" y="267.3" width="1" height="6.1" fill="rgb(148,148,148)" opacity="0.55"/>
<rect x="230.0" y="266.3" width="1" height="6.7" fill="rgb(156,156,156)" opacity="0.55"/>
<rect x="232.5" y="267.5" width="1.5" height="4.9" fill="rgb(173,173,173)" opacity="0.55"/>
<rect x="235.0" y="267.6" width="1" height="4.5" fill="rgb(158,158,158)" opacity="0.55"/>
<rect x="236.5" y="264.5" width="1" height="3.8" fill="rgb(172,172,172)" opacity="0.55"/>
<rect x="239.5" y="266.5" width="2" height="5.8" fill="rgb(172,172,172)" opacity="0.55"/>
<rect x="243.5" y="266.9" width="1" height="6.4" fill="rgb(171,171,171)" opacity="0.55"/>
<rect x="245.5" y="267.4" width="1.5" height="7.0" fill="rgb(174,174,174)" opacity="0.55"/>
<rect x="249.0" y="266.4" width="2" height="3.5" fill="rgb(184,184,184)" opacity="0.55"/>
<rect x="253.0" y="266.8" width="2" height="6.2" fill="rgb(163,163,163)" opacity="0.55"/>
<rect x="256.0" y="267.2" width="1" height="6.3" fill="rgb(164,164,164)" opacity="0.55"/>
<rect x="257.5" y="267.9" width="1" height="6.2" fill="rgb(152,152,152)" opacity="0.55"/>
<rect x="259.0" y="265.0" width="1.5" height="6.7" fill="rgb(150,150,150)" opacity="0.55"/>
<rect x="261.5" y="266.2" width="2" height="5.3" fill="rgb(150,150,150)" opacity="0.55"/>
<rect x="265.5" y="265.9" width="1.5" height="4.9" fill="rgb(150,150,150)" opacity="0.55"/>
<rect x="267.5" y="264.6" width="2" height="5.1" fill="rgb(152,152,152)" opacity="0.55"/>
<rect x="271.0" y="267.8" width="1" height="4.5" fill="rgb(169,169,169)" opacity="0.55"/>
<rect x="272.5" y="266.2" width="1" height="6.3" fill="rgb(183,183,183)" opacity="0.55"/>
<rect x="274.0" y="266.2" width="2" height="4.2" fill="rgb(150,150,150)" opacity="0.55"/>
<rect x="278.0" y="267.0" width="2" height="3.1" fill="rgb(148,148,148)" opacity="0.55"/>
<rect x="282.0" y="266.6" width="1" height="3.8" fill="rgb(153,153,153)" opacity="0.55"/>
<rect x="285.0" y="264.3" width="1" height="5.1" fill="rgb(173,173,173)" opacity="0.55"/>
<rect x="286.5" y="267.4" width="1" height="6.4" fill="rgb(178,178,178)" opacity="0.55"/>
<rect x="288.0" y="265.2" width="1" height="6.0" fill="rgb(163,163,163)" opacity="0.55"/>
<rect x="290.0" y="267.9" width="1.5" height="6.1" fill="rgb(173,173,173)" opacity="0.55"/>
<rect x="292.0" y="264.5" width="1" height="5.8" fill="rgb(151,151,151)" opacity="0.55"/>
<rect x="294.0" y="267.9" width="2" height="6.7" fill="rgb(164,164,164)" opacity="0.55"/>
<rect x="297.0" y="264.3" width="2" height="3.1" fill="rgb(179,179,179)" opacity="0.55"/>
<rect x="299.5" y="266.7" width="2" height="3.5" fill="rgb(178,178,178)" opacity="0.55"/>
</g>
<g filter="url(#b1_5)" fill="none">
<path d="M48.97,225.38 C49.17,224.74 49.92,223.80 50.38,223.27 C50.83,222.75 51.25,222.74 51.71,222.25 C52.17,221.76 52.58,220.89 53.12,220.32 C53.67,219.75 54.44,219.27 55.00,218.86 C55.55,218.45 56.02,218.24 56.45,217.85 C56.89,217.46 57.08,216.93 57.62,216.51 C58.16,216.10 58.90,215.70 59.70,215.36 C60.49,215.01 61.67,214.67 62.39,214.43 C63.11,214.19 63.54,213.93 64.02,213.92 C64.49,213.91 64.74,214.39 65.25,214.36 C65.76,214.33 66.58,213.87 67.09,213.76 C67.59,213.65 67.74,213.80 68.27,213.70 C68.80,213.59 69.77,213.16 70.27,213.11 C70.76,213.06 70.72,213.36 71.23,213.39 C71.75,213.43 72.75,213.27 73.38,213.31 C74.01,213.35 74.49,213.50 75.01,213.63 C75.52,213.75 75.98,213.97 76.47,214.06 C76.96,214.16 77.36,214.09 77.95,214.19 C78.54,214.30 79.39,214.47 80.02,214.70 C80.64,214.92 81.22,215.24 81.73,215.54 C82.24,215.84 82.68,216.20 83.10,216.49 C83.52,216.79 83.73,216.99 84.25,217.31 C84.77,217.63 85.61,218.42 86.21,218.41 C86.82,218.40 87.46,217.66 87.88,217.25 C88.29,216.83 88.21,216.28 88.70,215.91 C89.19,215.54 90.09,215.21 90.80,215.01 C91.51,214.81 92.21,214.81 92.94,214.71 C93.67,214.62 94.54,214.56 95.19,214.44 C95.83,214.32 96.35,214.09 96.83,213.99 C97.32,213.89 97.62,213.75 98.09,213.82 C98.57,213.90 99.16,214.22 99.69,214.44 C100.21,214.67 100.67,215.03 101.23,215.16 C101.79,215.30 102.47,215.09 103.05,215.24 C103.62,215.38 104.06,215.74 104.68,216.03 C105.30,216.33 106.21,216.57 106.77,217.00 C107.32,217.44 107.39,218.22 108.00,218.66 C108.60,219.10 109.81,219.28 110.41,219.64 C111.00,220.00 111.12,220.31 111.55,220.79 C111.98,221.28 112.56,222.11 113.00,222.57 C113.44,223.03 113.80,223.19 114.16,223.55 C114.52,223.92 114.77,224.33 115.16,224.75 C115.55,225.18 116.10,225.98 116.48,226.11 C116.87,226.24 117.06,225.95 117.47,225.54 C117.88,225.13 118.43,224.17 118.95,223.65 C119.47,223.12 120.07,222.74 120.59,222.39 C121.11,222.04 121.54,221.86 122.06,221.53 C122.58,221.21 123.37,220.87 123.74,220.44 C124.11,220.00 123.92,219.29 124.28,218.90 C124.64,218.52 125.31,218.41 125.89,218.12 C126.47,217.84 127.28,217.57 127.74,217.19 C128.20,216.81 128.27,216.10 128.64,215.85 C129.02,215.61 129.49,215.95 129.99,215.73 C130.49,215.51 131.15,214.76 131.65,214.53 C132.15,214.30 132.42,214.50 133.01,214.32 C133.61,214.15 134.58,213.59 135.22,213.48 C135.85,213.37 136.36,213.55 136.84,213.68 C137.31,213.81 137.56,214.16 138.07,214.24 C138.57,214.32 139.21,214.09 139.88,214.17 C140.54,214.25 141.49,214.57 142.04,214.73 C142.59,214.89 142.72,214.95 143.15,215.13 C143.58,215.31 144.07,215.52 144.63,215.81 C145.19,216.10 145.98,216.63 146.52,216.87 C147.06,217.11 147.37,217.31 147.87,217.25 C148.37,217.19 149.00,216.78 149.54,216.50 C150.08,216.23 150.50,215.86 151.12,215.60 C151.74,215.35 152.66,215.29 153.26,214.98 C153.86,214.68 154.17,213.87 154.73,213.77 C155.28,213.66 156.02,214.30 156.58,214.37 C157.13,214.44 157.46,214.13 158.06,214.19 C158.67,214.25 159.56,214.66 160.21,214.74 C160.85,214.82 161.45,214.60 161.93,214.68 C162.40,214.75 162.57,215.01 163.06,215.19 C163.55,215.38 164.22,215.67 164.86,215.78 C165.49,215.88 166.22,215.78 166.87,215.83 C167.52,215.88 168.30,215.88 168.76,216.06 C169.22,216.23 169.13,216.52 169.64,216.87 C170.16,217.23 171.05,217.73 171.85,218.18 C172.65,218.64 173.99,219.11 174.44,219.60 C174.89,220.09 174.31,220.71 174.55,221.14 C174.79,221.57 175.40,221.87 175.86,222.18 C176.32,222.49 176.96,222.55 177.30,222.98 C177.64,223.42 177.49,224.06 177.90,224.79 C178.30,225.52 179.39,226.86 179.73,227.35 C180.07,227.84 180.12,227.39 179.94,227.72 C179.76,228.06 178.92,228.93 178.63,229.35 C178.34,229.78 178.60,229.99 178.20,230.27 C177.80,230.55 176.97,230.58 176.22,231.03 C175.47,231.47 174.47,232.52 173.69,232.94 C172.92,233.37 172.20,233.30 171.57,233.58 C170.95,233.86 170.49,234.43 169.97,234.64 C169.45,234.85 168.99,234.70 168.43,234.82 C167.88,234.94 167.27,235.29 166.64,235.36 C166.02,235.43 165.31,235.21 164.69,235.24 C164.07,235.28 163.37,235.60 162.90,235.57 C162.43,235.54 162.32,235.11 161.87,235.04 C161.42,234.98 160.74,235.17 160.22,235.18 C159.71,235.18 159.31,235.13 158.77,235.06 C158.23,234.99 157.67,234.75 157.00,234.74 C156.33,234.73 155.31,235.01 154.74,235.00 C154.17,234.99 154.08,234.68 153.57,234.68 C153.06,234.67 152.37,234.96 151.71,234.97 C151.05,234.97 150.11,234.74 149.60,234.72 C149.10,234.69 149.13,234.79 148.69,234.81 C148.25,234.83 147.52,234.76 146.95,234.85 C146.38,234.94 145.95,235.31 145.29,235.34 C144.64,235.37 143.60,234.91 143.00,235.02 C142.40,235.13 142.13,235.82 141.68,236.00 C141.22,236.18 140.76,236.13 140.25,236.10 C139.73,236.07 139.23,235.77 138.58,235.82 C137.93,235.86 137.00,236.34 136.34,236.37 C135.69,236.41 135.13,236.02 134.66,236.01 C134.18,235.99 134.00,236.23 133.50,236.29 C133.00,236.36 132.18,236.50 131.65,236.38 C131.13,236.27 131.00,235.86 130.34,235.60 C129.69,235.34 128.51,235.03 127.72,234.84 C126.94,234.65 126.33,234.63 125.64,234.46 C124.95,234.28 124.25,234.17 123.58,233.80 C122.90,233.44 122.05,232.58 121.61,232.24 C121.17,231.91 121.41,232.04 120.93,231.80 C120.45,231.55 119.47,231.09 118.73,230.80 C117.99,230.51 117.29,230.08 116.51,230.08 C115.72,230.07 114.75,230.40 114.01,230.77 C113.26,231.14 112.62,231.87 112.02,232.29 C111.42,232.71 110.94,233.13 110.39,233.28 C109.83,233.43 109.31,233.06 108.69,233.17 C108.06,233.27 107.25,233.70 106.62,233.89 C105.99,234.09 105.43,234.16 104.90,234.33 C104.38,234.51 104.07,234.77 103.49,234.94 C102.90,235.10 102.05,235.10 101.41,235.32 C100.77,235.54 100.11,236.09 99.66,236.25 C99.21,236.41 99.25,236.30 98.73,236.26 C98.21,236.23 97.22,236.03 96.55,236.04 C95.87,236.06 95.17,236.42 94.67,236.37 C94.18,236.32 94.00,235.88 93.56,235.73 C93.11,235.59 92.58,235.58 92.01,235.50 C91.45,235.42 90.73,235.24 90.15,235.25 C89.57,235.26 89.11,235.67 88.52,235.58 C87.92,235.49 87.19,234.95 86.58,234.70 C85.97,234.44 85.43,234.16 84.87,234.03 C84.31,233.91 83.75,233.96 83.21,233.95 C82.67,233.95 82.18,234.06 81.63,233.98 C81.08,233.91 80.48,233.55 79.90,233.52 C79.32,233.48 78.75,233.74 78.15,233.75 C77.55,233.75 76.88,233.61 76.32,233.54 C75.75,233.48 75.32,233.49 74.76,233.34 C74.20,233.19 73.41,232.79 72.96,232.63 C72.51,232.47 72.49,232.35 72.03,232.38 C71.58,232.41 70.78,232.76 70.23,232.79 C69.68,232.82 69.22,232.65 68.71,232.56 C68.21,232.46 67.78,232.27 67.20,232.22 C66.62,232.16 65.83,232.26 65.23,232.21 C64.63,232.17 64.17,231.93 63.60,231.94 C63.02,231.95 62.41,232.22 61.80,232.27 C61.20,232.32 60.55,232.39 59.97,232.23 C59.38,232.07 58.89,231.45 58.29,231.32 C57.69,231.18 56.91,231.42 56.38,231.41 C55.85,231.40 55.86,231.21 55.10,231.25 C54.33,231.29 52.88,231.46 51.79,231.66 C50.70,231.86 49.04,232.62 48.56,232.44 C48.08,232.27 48.83,231.35 48.93,230.62 C49.02,229.90 49.07,228.67 49.11,228.09 C49.15,227.51 49.21,227.60 49.19,227.14 C49.17,226.69 48.77,226.03 48.97,225.38Z" stroke="rgb(186,186,186)" stroke-width="3.5"/>
<path d="M181.42,227.09 C181.30,226.41 180.99,226.47 181.05,225.92 C181.11,225.37 181.67,224.46 181.78,223.79 C181.90,223.13 181.51,222.54 181.74,221.95 C181.96,221.36 182.73,220.69 183.15,220.26 C183.58,219.83 184.04,219.93 184.27,219.38 C184.51,218.83 184.25,217.40 184.58,216.97 C184.91,216.54 185.77,217.11 186.26,216.81 C186.74,216.50 187.10,215.51 187.51,215.12 C187.92,214.73 188.27,214.75 188.70,214.47 C189.14,214.19 189.62,213.64 190.14,213.44 C190.65,213.24 191.16,213.44 191.79,213.25 C192.42,213.06 193.39,212.56 193.92,212.33 C194.46,212.09 194.53,211.90 194.99,211.86 C195.46,211.81 196.08,212.08 196.73,212.04 C197.38,212.01 198.20,211.54 198.87,211.64 C199.55,211.75 200.20,212.60 200.77,212.67 C201.35,212.74 201.86,211.84 202.30,212.06 C202.75,212.29 203.06,213.61 203.45,214.01 C203.83,214.40 204.15,214.12 204.60,214.43 C205.05,214.75 205.70,215.31 206.15,215.89 C206.60,216.47 206.88,217.38 207.31,217.92 C207.73,218.47 208.26,219.25 208.69,219.17 C209.12,219.10 209.37,217.99 209.89,217.47 C210.41,216.95 211.13,216.35 211.79,216.05 C212.46,215.76 213.10,215.85 213.88,215.68 C214.65,215.51 215.82,215.15 216.44,215.01 C217.05,214.87 217.07,215.01 217.58,214.84 C218.09,214.68 218.87,214.22 219.50,214.04 C220.12,213.86 220.76,213.76 221.35,213.78 C221.94,213.79 222.48,214.07 223.05,214.12 C223.62,214.16 224.18,213.96 224.77,214.05 C225.37,214.14 225.98,214.49 226.63,214.65 C227.28,214.81 227.97,214.90 228.68,215.01 C229.39,215.12 230.25,215.01 230.90,215.32 C231.56,215.63 232.03,216.21 232.62,216.88 C233.20,217.54 234.02,218.57 234.41,219.32 C234.80,220.06 234.55,220.73 234.94,221.35 C235.33,221.98 236.37,222.28 236.76,223.09 C237.14,223.89 237.31,225.25 237.24,226.20 C237.16,227.15 236.62,228.20 236.29,228.81 C235.97,229.41 235.62,229.39 235.31,229.85 C234.99,230.30 234.77,231.10 234.39,231.53 C234.01,231.96 233.49,232.13 233.01,232.44 C232.53,232.74 232.01,233.01 231.51,233.34 C231.02,233.66 230.61,234.07 230.04,234.39 C229.46,234.72 228.81,235.12 228.06,235.28 C227.32,235.44 226.20,235.29 225.56,235.33 C224.93,235.37 224.79,235.47 224.27,235.52 C223.74,235.57 223.14,235.72 222.41,235.63 C221.68,235.54 220.51,234.96 219.88,234.96 C219.25,234.97 219.16,235.64 218.62,235.66 C218.08,235.68 217.31,235.26 216.64,235.08 C215.97,234.90 215.16,234.61 214.60,234.57 C214.04,234.53 213.83,234.75 213.28,234.85 C212.73,234.94 211.94,234.98 211.29,235.11 C210.63,235.24 209.85,235.64 209.36,235.61 C208.87,235.58 208.85,234.90 208.36,234.93 C207.87,234.97 207.02,235.61 206.42,235.82 C205.83,236.03 205.26,236.15 204.78,236.18 C204.29,236.20 204.00,235.95 203.51,235.96 C203.02,235.97 202.39,236.12 201.83,236.26 C201.27,236.39 200.67,236.70 200.13,236.76 C199.60,236.83 199.16,236.60 198.64,236.65 C198.13,236.70 197.71,236.91 197.04,237.08 C196.36,237.24 195.25,237.64 194.59,237.62 C193.93,237.59 193.57,237.14 193.06,236.92 C192.55,236.70 192.00,236.52 191.52,236.30 C191.03,236.08 190.76,235.89 190.17,235.61 C189.59,235.33 188.59,234.85 188.00,234.62 C187.42,234.38 187.21,234.52 186.65,234.19 C186.09,233.86 185.17,233.07 184.64,232.65 C184.11,232.22 183.96,232.08 183.49,231.64 C183.02,231.19 182.15,230.73 181.81,229.97 C181.46,229.21 181.55,227.76 181.42,227.09Z" stroke="rgb(186,186,186)" stroke-width="3.5"/>
<path d="M242.24,225.44 C242.26,224.82 242.37,223.80 242.38,223.16 C242.39,222.53 242.22,222.23 242.29,221.64 C242.37,221.05 242.53,220.10 242.81,219.62 C243.10,219.14 243.57,219.29 244.01,218.78 C244.44,218.27 245.05,217.13 245.44,216.56 C245.84,216.00 246.12,215.87 246.37,215.39 C246.63,214.91 246.53,214.11 246.95,213.70 C247.37,213.29 248.40,213.15 248.89,212.92 C249.38,212.68 249.39,212.47 249.87,212.29 C250.36,212.11 251.27,211.93 251.79,211.83 C252.30,211.74 252.45,211.71 252.98,211.75 C253.52,211.78 254.40,212.03 255.00,212.04 C255.60,212.05 255.95,211.71 256.57,211.83 C257.19,211.94 258.18,212.50 258.74,212.73 C259.30,212.96 259.49,212.98 259.91,213.20 C260.33,213.43 260.86,213.73 261.26,214.06 C261.66,214.38 261.89,214.80 262.33,215.18 C262.76,215.56 263.39,215.84 263.84,216.35 C264.29,216.87 264.66,217.86 265.01,218.27 C265.36,218.68 265.51,218.46 265.93,218.81 C266.34,219.17 267.17,219.89 267.52,220.40 C267.86,220.92 267.61,221.92 268.01,221.90 C268.41,221.88 269.40,220.68 269.93,220.29 C270.46,219.90 270.79,219.98 271.18,219.56 C271.58,219.15 272.03,218.21 272.32,217.80 C272.61,217.40 272.52,217.50 272.93,217.15 C273.34,216.79 274.21,216.05 274.79,215.68 C275.37,215.32 275.92,215.10 276.42,214.94 C276.93,214.79 277.20,214.91 277.83,214.75 C278.47,214.58 279.63,214.10 280.26,213.93 C280.88,213.77 280.97,213.72 281.58,213.74 C282.19,213.75 283.16,214.03 283.91,214.00 C284.66,213.98 285.43,213.50 286.05,213.57 C286.67,213.63 287.03,214.16 287.62,214.39 C288.21,214.62 289.02,214.67 289.59,214.94 C290.15,215.20 290.44,215.68 291.01,216.00 C291.57,216.32 292.45,216.61 292.99,216.87 C293.52,217.13 293.83,217.19 294.21,217.54 C294.59,217.89 294.91,218.44 295.26,218.97 C295.60,219.50 295.96,220.19 296.28,220.71 C296.60,221.24 297.00,221.59 297.17,222.12 C297.35,222.64 297.15,223.36 297.33,223.88 C297.51,224.41 298.19,224.67 298.25,225.26 C298.31,225.85 297.89,226.58 297.68,227.42 C297.47,228.25 297.27,229.64 297.00,230.28 C296.73,230.93 296.40,230.85 296.05,231.29 C295.69,231.73 295.20,232.44 294.85,232.90 C294.50,233.36 294.45,233.80 293.93,234.04 C293.42,234.29 292.42,234.19 291.77,234.37 C291.12,234.56 290.70,234.85 290.05,235.17 C289.40,235.49 288.60,236.18 287.88,236.28 C287.16,236.38 286.32,235.77 285.73,235.77 C285.14,235.77 284.92,236.20 284.33,236.29 C283.75,236.39 282.98,236.31 282.22,236.34 C281.46,236.37 280.50,236.53 279.79,236.46 C279.09,236.39 278.65,236.07 278.00,235.93 C277.35,235.80 276.48,235.84 275.87,235.67 C275.27,235.50 274.84,235.29 274.36,234.93 C273.88,234.56 273.48,233.81 272.98,233.47 C272.48,233.13 272.10,233.10 271.36,232.90 C270.62,232.69 269.34,232.15 268.53,232.24 C267.73,232.33 267.05,233.20 266.53,233.43 C266.01,233.67 265.97,233.37 265.42,233.66 C264.88,233.95 263.85,234.73 263.27,235.17 C262.69,235.61 262.49,236.08 261.94,236.29 C261.39,236.50 260.53,236.21 259.99,236.42 C259.45,236.62 259.27,237.35 258.72,237.52 C258.17,237.69 257.32,237.35 256.69,237.44 C256.06,237.53 255.56,238.09 254.95,238.05 C254.35,238.02 253.56,237.41 253.08,237.22 C252.61,237.03 252.56,236.92 252.09,236.91 C251.63,236.91 250.92,237.32 250.29,237.18 C249.66,237.05 249.09,236.51 248.31,236.11 C247.53,235.70 246.25,235.32 245.63,234.75 C245.00,234.18 244.81,233.27 244.55,232.66 C244.29,232.05 244.29,231.46 244.06,231.08 C243.84,230.71 243.41,230.87 243.19,230.42 C242.98,229.96 242.93,228.94 242.78,228.36 C242.63,227.77 242.37,227.39 242.28,226.90 C242.19,226.42 242.22,226.07 242.24,225.44Z" stroke="rgb(186,186,186)" stroke-width="3.5"/>
<path d="M58.42,255.46 C58.42,256.97 58.90,258.64 58.74,259.86 C58.58,261.07 57.93,262.00 57.47,262.76 C57.00,263.53 56.40,263.97 55.94,264.45 C55.49,264.93 55.45,265.22 54.74,265.63 C54.04,266.05 52.83,266.67 51.74,266.93 C50.64,267.18 49.84,267.18 48.16,267.16 C46.49,267.14 43.37,266.87 41.69,266.81 C40.01,266.75 39.14,267.00 38.07,266.80 C37.01,266.59 35.98,265.95 35.29,265.57 C34.61,265.19 34.51,265.06 33.98,264.52 C33.44,263.99 32.48,263.13 32.07,262.37 C31.66,261.61 31.64,261.09 31.51,259.98 C31.38,258.88 31.26,257.23 31.30,255.74 C31.33,254.25 31.55,252.27 31.72,251.03 C31.89,249.79 31.99,248.96 32.29,248.30 C32.60,247.63 33.06,247.50 33.56,247.02 C34.06,246.54 34.57,245.80 35.30,245.41 C36.03,245.02 36.90,244.92 37.93,244.69 C38.95,244.46 39.73,244.09 41.44,244.03 C43.15,243.97 46.49,244.24 48.18,244.33 C49.87,244.42 50.54,244.37 51.59,244.59 C52.64,244.82 53.69,245.28 54.47,245.69 C55.26,246.10 55.81,246.56 56.28,247.07 C56.76,247.57 56.91,248.08 57.32,248.71 C57.73,249.33 58.55,249.69 58.73,250.82 C58.91,251.94 58.42,253.95 58.42,255.46Z" stroke="rgb(186,186,186)" stroke-width="3.5"/>
<path d="M89.22,256.48 C89.20,257.77 88.99,259.55 88.80,260.63 C88.62,261.70 88.49,262.18 88.13,262.94 C87.78,263.71 87.21,264.54 86.68,265.22 C86.14,265.90 85.69,266.57 84.93,267.04 C84.17,267.51 83.06,267.78 82.11,268.02 C81.17,268.26 80.38,268.40 79.24,268.48 C78.10,268.57 76.37,268.59 75.26,268.53 C74.15,268.46 73.41,268.43 72.59,268.08 C71.76,267.74 71.02,267.01 70.31,266.47 C69.59,265.92 68.78,265.39 68.28,264.81 C67.77,264.22 67.60,263.71 67.27,262.95 C66.94,262.19 66.56,261.23 66.30,260.25 C66.04,259.27 65.74,258.21 65.72,257.05 C65.69,255.89 65.92,254.39 66.14,253.30 C66.36,252.22 66.69,251.37 67.03,250.52 C67.38,249.68 67.71,248.80 68.20,248.21 C68.70,247.62 69.33,247.37 70.02,246.98 C70.71,246.58 71.53,246.13 72.37,245.84 C73.21,245.54 73.90,245.36 75.05,245.22 C76.19,245.07 78.00,244.90 79.24,244.97 C80.48,245.03 81.60,245.23 82.50,245.60 C83.41,245.98 83.94,246.78 84.66,247.22 C85.38,247.65 86.37,247.67 86.85,248.22 C87.34,248.77 87.23,249.71 87.58,250.49 C87.92,251.27 88.63,251.92 88.91,252.92 C89.18,253.92 89.23,255.20 89.22,256.48Z" stroke="rgb(186,186,186)" stroke-width="3.5"/>
<path d="M116.22,256.74 C116.22,257.98 115.90,259.65 115.64,260.68 C115.37,261.71 114.96,262.14 114.61,262.92 C114.27,263.70 114.06,264.64 113.57,265.36 C113.07,266.07 112.34,266.78 111.66,267.19 C110.98,267.60 110.36,267.58 109.49,267.84 C108.62,268.09 107.68,268.63 106.44,268.74 C105.19,268.84 103.18,268.56 102.02,268.47 C100.85,268.38 100.35,268.49 99.47,268.19 C98.58,267.89 97.45,267.10 96.72,266.67 C95.99,266.24 95.63,266.26 95.10,265.64 C94.57,265.01 93.89,263.71 93.53,262.91 C93.17,262.10 93.12,261.83 92.96,260.80 C92.81,259.77 92.64,257.97 92.60,256.72 C92.56,255.48 92.55,254.42 92.71,253.32 C92.86,252.22 93.22,251.01 93.54,250.11 C93.87,249.22 94.11,248.54 94.66,247.95 C95.21,247.35 96.05,246.97 96.83,246.52 C97.61,246.08 98.49,245.56 99.31,245.26 C100.14,244.96 100.56,244.78 101.77,244.72 C102.99,244.66 105.35,244.71 106.63,244.90 C107.90,245.08 108.55,245.57 109.43,245.82 C110.30,246.07 111.22,246.03 111.89,246.39 C112.56,246.75 113.00,247.39 113.46,248.00 C113.93,248.61 114.32,249.19 114.68,250.05 C115.04,250.92 115.39,252.07 115.64,253.19 C115.90,254.30 116.22,255.49 116.22,256.74Z" stroke="rgb(186,186,186)" stroke-width="3.5"/>
<path d="M145.13,256.50 C145.08,257.79 144.96,259.42 144.82,260.56 C144.68,261.70 144.62,262.59 144.29,263.36 C143.95,264.13 143.43,264.51 142.81,265.19 C142.18,265.87 141.30,266.91 140.54,267.45 C139.78,267.99 139.17,268.16 138.25,268.42 C137.33,268.68 136.22,268.92 135.03,269.01 C133.85,269.09 132.32,269.11 131.15,268.94 C129.98,268.76 129.03,268.22 128.02,267.93 C127.01,267.65 125.83,267.68 125.10,267.23 C124.37,266.78 124.18,265.84 123.64,265.24 C123.10,264.64 122.28,264.35 121.86,263.62 C121.45,262.90 121.24,261.99 121.13,260.87 C121.02,259.76 121.16,258.28 121.21,256.93 C121.26,255.58 121.25,253.85 121.44,252.75 C121.63,251.65 122.04,251.12 122.36,250.32 C122.67,249.53 122.81,248.56 123.33,247.97 C123.85,247.37 124.74,247.20 125.48,246.73 C126.23,246.26 126.84,245.49 127.79,245.16 C128.74,244.83 129.93,244.81 131.20,244.76 C132.47,244.71 134.22,244.77 135.39,244.85 C136.56,244.93 137.33,244.99 138.20,245.24 C139.06,245.50 139.82,245.93 140.59,246.38 C141.35,246.83 142.23,247.30 142.79,247.93 C143.35,248.56 143.57,249.35 143.96,250.16 C144.35,250.97 144.93,251.72 145.12,252.78 C145.32,253.84 145.18,255.20 145.13,256.50Z" stroke="rgb(186,186,186)" stroke-width="3.5"/>
<path d="M171.85,257.07 C171.75,258.19 171.31,259.47 171.14,260.48 C170.97,261.49 171.05,262.26 170.81,263.11 C170.57,263.97 170.24,264.97 169.67,265.63 C169.11,266.29 168.08,266.69 167.44,267.08 C166.81,267.47 166.62,267.73 165.86,267.97 C165.10,268.21 164.07,268.43 162.90,268.50 C161.74,268.58 160.04,268.59 158.87,268.43 C157.70,268.27 156.75,267.87 155.88,267.55 C155.01,267.24 154.28,266.94 153.64,266.52 C153.00,266.11 152.42,265.66 152.02,265.07 C151.63,264.48 151.58,263.70 151.29,263.00 C151.01,262.29 150.58,261.83 150.33,260.84 C150.08,259.85 149.80,258.25 149.79,257.04 C149.78,255.83 150.05,254.60 150.27,253.57 C150.49,252.54 150.77,251.64 151.11,250.87 C151.45,250.09 151.90,249.47 152.32,248.90 C152.75,248.33 152.95,247.84 153.64,247.43 C154.33,247.03 155.60,246.73 156.46,246.45 C157.33,246.18 157.79,245.92 158.84,245.79 C159.89,245.67 161.59,245.69 162.76,245.72 C163.93,245.76 165.02,245.77 165.87,246.00 C166.72,246.24 167.21,246.66 167.86,247.12 C168.52,247.57 169.31,248.14 169.80,248.73 C170.29,249.32 170.48,249.82 170.79,250.66 C171.11,251.50 171.55,252.70 171.72,253.77 C171.90,254.83 171.94,255.95 171.85,257.07Z" stroke="rgb(186,186,186)" stroke-width="3.5"/>
<path d="M200.55,256.18 C200.49,257.46 200.05,258.84 199.86,259.82 C199.68,260.80 199.64,261.36 199.43,262.07 C199.21,262.79 198.99,263.56 198.57,264.10 C198.15,264.64 197.58,264.98 196.94,265.33 C196.29,265.68 195.49,265.90 194.68,266.22 C193.88,266.54 193.02,267.10 192.10,267.25 C191.18,267.40 190.15,267.22 189.16,267.11 C188.17,267.01 186.91,266.89 186.15,266.60 C185.39,266.31 185.17,265.81 184.60,265.40 C184.04,264.98 183.17,264.72 182.74,264.12 C182.30,263.53 182.27,262.61 182.00,261.81 C181.73,261.02 181.29,260.26 181.11,259.34 C180.93,258.42 180.93,257.41 180.90,256.30 C180.86,255.19 180.69,253.69 180.91,252.68 C181.12,251.67 181.82,251.00 182.18,250.23 C182.54,249.46 182.70,248.64 183.07,248.06 C183.43,247.49 183.77,247.23 184.36,246.76 C184.96,246.29 185.89,245.58 186.64,245.25 C187.40,244.92 187.93,244.87 188.89,244.78 C189.85,244.70 191.40,244.59 192.40,244.75 C193.41,244.91 194.14,245.41 194.91,245.73 C195.68,246.04 196.48,246.25 197.02,246.64 C197.56,247.02 197.75,247.49 198.15,248.04 C198.56,248.58 199.07,249.20 199.42,249.89 C199.77,250.58 200.06,251.14 200.25,252.18 C200.44,253.23 200.61,254.91 200.55,256.18Z" stroke="rgb(186,186,186)" stroke-width="3.5"/>
<path d="M228.34,257.01 C228.34,258.24 227.94,259.68 227.78,260.68 C227.63,261.69 227.70,262.28 227.42,263.04 C227.14,263.80 226.61,264.68 226.11,265.25 C225.61,265.83 225.10,266.15 224.41,266.48 C223.72,266.82 222.77,267.03 221.98,267.24 C221.19,267.45 220.72,267.59 219.67,267.77 C218.61,267.94 216.89,268.32 215.67,268.28 C214.46,268.24 213.29,267.89 212.38,267.53 C211.48,267.18 210.88,266.63 210.24,266.17 C209.59,265.71 208.98,265.34 208.50,264.78 C208.02,264.22 207.70,263.47 207.36,262.80 C207.03,262.14 206.65,261.71 206.48,260.79 C206.31,259.87 206.31,258.54 206.35,257.27 C206.39,256.00 206.49,254.20 206.73,253.15 C206.96,252.11 207.45,251.62 207.75,251.00 C208.06,250.37 208.12,250.04 208.55,249.42 C208.98,248.79 209.66,247.70 210.31,247.25 C210.96,246.81 211.66,246.97 212.45,246.74 C213.23,246.51 213.82,245.97 215.01,245.88 C216.20,245.79 218.40,246.07 219.59,246.21 C220.78,246.34 221.33,246.43 222.15,246.68 C222.96,246.93 223.84,247.26 224.49,247.71 C225.15,248.15 225.60,248.78 226.06,249.35 C226.53,249.91 227.01,250.45 227.29,251.10 C227.58,251.75 227.58,252.29 227.76,253.27 C227.93,254.26 228.33,255.77 228.34,257.01Z" stroke="rgb(186,186,186)" stroke-width="3.5"/>
<path d="M256.76,257.08 C256.73,258.13 256.44,259.44 256.33,260.43 C256.22,261.43 256.32,262.32 256.10,263.04 C255.88,263.77 255.51,264.38 255.01,264.80 C254.51,265.22 253.68,265.31 253.09,265.59 C252.50,265.86 252.15,266.20 251.45,266.43 C250.75,266.66 249.92,266.82 248.87,266.98 C247.82,267.13 246.15,267.43 245.14,267.35 C244.12,267.26 243.51,266.70 242.77,266.48 C242.03,266.27 241.29,266.40 240.70,266.05 C240.11,265.71 239.65,264.94 239.24,264.42 C238.84,263.89 238.58,263.51 238.26,262.89 C237.94,262.28 237.55,261.59 237.33,260.70 C237.12,259.81 237.03,258.61 236.98,257.55 C236.93,256.49 236.86,255.21 237.04,254.34 C237.22,253.47 237.69,253.01 238.04,252.33 C238.40,251.64 238.70,250.75 239.16,250.21 C239.62,249.67 240.25,249.44 240.80,249.09 C241.35,248.73 241.77,248.34 242.45,248.08 C243.14,247.81 243.86,247.64 244.91,247.50 C245.96,247.35 247.66,247.18 248.75,247.22 C249.83,247.26 250.72,247.46 251.43,247.73 C252.13,247.99 252.49,248.37 252.98,248.80 C253.47,249.22 253.92,249.69 254.37,250.27 C254.82,250.85 255.31,251.66 255.66,252.30 C256.02,252.93 256.31,253.29 256.49,254.09 C256.67,254.88 256.78,256.02 256.76,257.08Z" stroke="rgb(186,186,186)" stroke-width="3.5"/>
<path d="M281.16,258.38 C281.19,259.55 281.50,261.39 281.45,262.33 C281.40,263.27 281.18,263.33 280.87,264.00 C280.56,264.66 280.10,265.74 279.61,266.30 C279.12,266.85 278.49,267.00 277.94,267.31 C277.39,267.63 277.00,267.91 276.31,268.20 C275.62,268.49 274.74,268.90 273.79,269.05 C272.84,269.21 271.50,269.19 270.61,269.13 C269.73,269.08 269.16,269.04 268.47,268.75 C267.78,268.46 267.04,267.89 266.46,267.40 C265.88,266.91 265.42,266.34 265.01,265.80 C264.60,265.26 264.25,264.83 264.00,264.18 C263.75,263.52 263.57,262.73 263.51,261.86 C263.45,261.00 263.66,260.07 263.64,258.96 C263.62,257.85 263.32,256.23 263.40,255.21 C263.49,254.19 263.88,253.48 264.14,252.85 C264.40,252.22 264.60,251.87 264.97,251.43 C265.34,250.99 265.82,250.58 266.35,250.22 C266.88,249.86 267.42,249.57 268.14,249.29 C268.86,249.00 269.68,248.63 270.65,248.50 C271.63,248.37 273.07,248.48 274.01,248.51 C274.95,248.54 275.66,248.40 276.30,248.66 C276.94,248.93 277.32,249.64 277.87,250.11 C278.42,250.58 279.19,250.97 279.60,251.47 C280.01,251.97 280.06,252.48 280.35,253.12 C280.63,253.76 281.18,254.46 281.32,255.33 C281.45,256.21 281.14,257.22 281.16,258.38Z" stroke="rgb(186,186,186)" stroke-width="3.5"/>
<path d="M312.68,256.34 C312.65,257.22 312.64,258.35 312.51,259.21 C312.38,260.06 312.26,260.84 311.93,261.45 C311.59,262.06 310.96,262.50 310.50,262.86 C310.03,263.22 309.69,263.34 309.12,263.61 C308.56,263.88 307.92,264.27 307.13,264.51 C306.35,264.74 305.48,264.91 304.42,265.05 C303.35,265.18 301.75,265.44 300.74,265.32 C299.73,265.20 299.18,264.63 298.34,264.34 C297.50,264.04 296.29,263.80 295.68,263.55 C295.07,263.30 295.07,263.23 294.68,262.82 C294.29,262.41 293.71,261.67 293.33,261.08 C292.95,260.50 292.52,260.03 292.41,259.31 C292.29,258.59 292.59,257.68 292.62,256.73 C292.65,255.79 292.46,254.42 292.61,253.63 C292.77,252.84 293.26,252.59 293.56,252.00 C293.86,251.41 293.93,250.60 294.39,250.08 C294.85,249.55 295.68,249.20 296.34,248.87 C297.00,248.55 297.62,248.27 298.37,248.11 C299.12,247.96 299.80,247.97 300.83,247.93 C301.87,247.90 303.58,247.82 304.57,247.92 C305.56,248.02 306.07,248.35 306.79,248.53 C307.51,248.71 308.22,248.67 308.87,248.99 C309.52,249.30 310.16,249.93 310.68,250.41 C311.19,250.90 311.62,251.33 311.97,251.91 C312.31,252.50 312.60,253.18 312.72,253.92 C312.84,254.66 312.72,255.46 312.68,256.34Z" stroke="rgb(186,186,186)" stroke-width="3.5"/>
</g>
<g filter="url(#b0_8)">
<path d="M48.97,225.38 C49.17,224.74 49.92,223.80 50.38,223.27 C50.83,222.75 51.25,222.74 51.71,222.25 C52.17,221.76 52.58,220.89 53.12,220.32 C53.67,219.75 54.44,219.27 55.00,218.86 C55.55,218.45 56.02,218.24 56.45,217.85 C56.89,217.46 57.08,216.93 57.62,216.51 C58.16,216.10 58.90,215.70 59.70,215.36 C60.49,215.01 61.67,214.67 62.39,214.43 C63.11,214.19 63.54,213.93 64.02,213.92 C64.49,213.91 64.74,214.39 65.25,214.36 C65.76,214.33 66.58,213.87 67.09,213.76 C67.59,213.65 67.74,213.80 68.27,213.70 C68.80,213.59 69.77,213.16 70.27,213.11 C70.76,213.06 70.72,213.36 71.23,213.39 C71.75,213.43 72.75,213.27 73.38,213.31 C74.01,213.35 74.49,213.50 75.01,213.63 C75.52,213.75 75.98,213.97 76.47,214.06 C76.96,214.16 77.36,214.09 77.95,214.19 C78.54,214.30 79.39,214.47 80.02,214.70 C80.64,214.92 81.22,215.24 81.73,215.54 C82.24,215.84 82.68,216.20 83.10,216.49 C83.52,216.79 83.73,216.99 84.25,217.31 C84.77,217.63 85.61,218.42 86.21,218.41 C86.82,218.40 87.46,217.66 87.88,217.25 C88.29,216.83 88.21,216.28 88.70,215.91 C89.19,215.54 90.09,215.21 90.80,215.01 C91.51,214.81 92.21,214.81 92.94,214.71 C93.67,214.62 94.54,214.56 95.19,214.44 C95.83,214.32 96.35,214.09 96.83,213.99 C97.32,213.89 97.62,213.75 98.09,213.82 C98.57,213.90 99.16,214.22 99.69,214.44 C100.21,214.67 100.67,215.03 101.23,215.16 C101.79,215.30 102.47,215.09 103.05,215.24 C103.62,215.38 104.06,215.74 104.68,216.03 C105.30,216.33 106.21,216.57 106.77,217.00 C107.32,217.44 107.39,218.22 108.00,218.66 C108.60,219.10 109.81,219.28 110.41,219.64 C111.00,220.00 111.12,220.31 111.55,220.79 C111.98,221.28 112.56,222.11 113.00,222.57 C113.44,223.03 113.80,223.19 114.16,223.55 C114.52,223.92 114.77,224.33 115.16,224.75 C115.55,225.18 116.10,225.98 116.48,226.11 C116.87,226.24 117.06,225.95 117.47,225.54 C117.88,225.13 118.43,224.17 118.95,223.65 C119.47,223.12 120.07,222.74 120.59,222.39 C121.11,222.04 121.54,221.86 122.06,221.53 C122.58,221.21 123.37,220.87 123.74,220.44 C124.11,220.00 123.92,219.29 124.28,218.90 C124.64,218.52 125.31,218.41 125.89,218.12 C126.47,217.84 127.28,217.57 127.74,217.19 C128.20,216.81 128.27,216.10 128.64,215.85 C129.02,215.61 129.49,215.95 129.99,215.73 C130.49,215.51 131.15,214.76 131.65,214.53 C132.15,214.30 132.42,214.50 133.01,214.32 C133.61,214.15 134.58,213.59 135.22,213.48 C135.85,213.37 136.36,213.55 136.84,213.68 C137.31,213.81 137.56,214.16 138.07,214.24 C138.57,214.32 139.21,214.09 139.88,214.17 C140.54,214.25 141.49,214.57 142.04,214.73 C142.59,214.89 142.72,214.95 143.15,215.13 C143.58,215.31 144.07,215.52 144.63,215.81 C145.19,216.10 145.98,216.63 146.52,216.87 C147.06,217.11 147.37,217.31 147.87,217.25 C148.37,217.19 149.00,216.78 149.54,216.50 C150.08,216.23 150.50,215.86 151.12,215.60 C151.74,215.35 152.66,215.29 153.26,214.98 C153.86,214.68 154.17,213.87 154.73,213.77 C155.28,213.66 156.02,214.30 156.58,214.37 C157.13,214.44 157.46,214.13 158.06,214.19 C158.67,214.25 159.56,214.66 160.21,214.74 C160.85,214.82 161.45,214.60 161.93,214.68 C162.40,214.75 162.57,215.01 163.06,215.19 C163.55,215.38 164.22,215.67 164.86,215.78 C165.49,215.88 166.22,215.78 166.87,215.83 C167.52,215.88 168.30,215.88 168.76,216.06 C169.22,216.23 169.13,216.52 169.64,216.87 C170.16,217.23 171.05,217.73 171.85,218.18 C172.65,218.64 173.99,219.11 174.44,219.60 C174.89,220.09 174.31,220.71 174.55,221.14 C174.79,221.57 175.40,221.87 175.86,222.18 C176.32,222.49 176.96,222.55 177.30,222.98 C177.64,223.42 177.49,224.06 177.90,224.79 C178.30,225.52 179.39,226.86 179.73,227.35 C180.07,227.84 180.12,227.39 179.94,227.72 C179.76,228.06 178.92,228.93 178.63,229.35 C178.34,229.78 178.60,229.99 178.20,230.27 C177.80,230.55 176.97,230.58 176.22,231.03 C175.47,231.47 174.47,232.52 173.69,232.94 C172.92,233.37 172.20,233.30 171.57,233.58 C170.95,233.86 170.49,234.43 169.97,234.64 C169.45,234.85 168.99,234.70 168.43,234.82 C167.88,234.94 167.27,235.29 166.64,235.36 C166.02,235.43 165.31,235.21 164.69,235.24 C164.07,235.28 163.37,235.60 162.90,235.57 C162.43,235.54 162.32,235.11 161.87,235.04 C161.42,234.98 160.74,235.17 160.22,235.18 C159.71,235.18 159.31,235.13 158.77,235.06 C158.23,234.99 157.67,234.75 157.00,234.74 C156.33,234.73 155.31,235.01 154.74,235.00 C154.17,234.99 154.08,234.68 153.57,234.68 C153.06,234.67 152.37,234.96 151.71,234.97 C151.05,234.97 150.11,234.74 149.60,234.72 C149.10,234.69 149.13,234.79 148.69,234.81 C148.25,234.83 147.52,234.76 146.95,234.85 C146.38,234.94 145.95,235.31 145.29,235.34 C144.64,235.37 143.60,234.91 143.00,235.02 C142.40,235.13 142.13,235.82 141.68,236.00 C141.22,236.18 140.76,236.13 140.25,236.10 C139.73,236.07 139.23,235.77 138.58,235.82 C137.93,235.86 137.00,236.34 136.34,236.37 C135.69,236.41 135.13,236.02 134.66,236.01 C134.18,235.99 134.00,236.23 133.50,236.29 C133.00,236.36 132.18,236.50 131.65,236.38 C131.13,236.27 131.00,235.86 130.34,235.60 C129.69,235.34 128.51,235.03 127.72,234.84 C126.94,234.65 126.33,234.63 125.64,234.46 C124.95,234.28 124.25,234.17 123.58,233.80 C122.90,233.44 122.05,232.58 121.61,232.24 C121.17,231.91 121.41,232.04 120.93,231.80 C120.45,231.55 119.47,231.09 118.73,230.80 C117.99,230.51 117.29,230.08 116.51,230.08 C115.72,230.07 114.75,230.40 114.01,230.77 C113.26,231.14 112.62,231.87 112.02,232.29 C111.42,232.71 110.94,233.13 110.39,233.28 C109.83,233.43 109.31,233.06 108.69,233.17 C108.06,233.27 107.25,233.70 106.62,233.89 C105.99,234.09 105.43,234.16 104.90,234.33 C104.38,234.51 104.07,234.77 103.49,234.94 C102.90,235.10 102.05,235.10 101.41,235.32 C100.77,235.54 100.11,236.09 99.66,236.25 C99.21,236.41 99.25,236.30 98.73,236.26 C98.21,236.23 97.22,236.03 96.55,236.04 C95.87,236.06 95.17,236.42 94.67,236.37 C94.18,236.32 94.00,235.88 93.56,235.73 C93.11,235.59 92.58,235.58 92.01,235.50 C91.45,235.42 90.73,235.24 90.15,235.25 C89.57,235.26 89.11,235.67 88.52,235.58 C87.92,235.49 87.19,234.95 86.58,234.70 C85.97,234.44 85.43,234.16 84.87,234.03 C84.31,233.91 83.75,233.96 83.21,233.95 C82.67,233.95 82.18,234.06 81.63,233.98 C81.08,233.91 80.48,233.55 79.90,233.52 C79.32,233.48 78.75,233.74 78.15,233.75 C77.55,233.75 76.88,233.61 76.32,233.54 C75.75,233.48 75.32,233.49 74.76,233.34 C74.20,233.19 73.41,232.79 72.96,232.63 C72.51,232.47 72.49,232.35 72.03,232.38 C71.58,232.41 70.78,232.76 70.23,232.79 C69.68,232.82 69.22,232.65 68.71,232.56 C68.21,232.46 67.78,232.27 67.20,232.22 C66.62,232.16 65.83,232.26 65.23,232.21 C64.63,232.17 64.17,231.93 63.60,231.94 C63.02,231.95 62.41,232.22 61.80,232.27 C61.20,232.32 60.55,232.39 59.97,232.23 C59.38,232.07 58.89,231.45 58.29,231.32 C57.69,231.18 56.91,231.42 56.38,231.41 C55.85,231.40 55.86,231.21 55.10,231.25 C54.33,231.29 52.88,231.46 51.79,231.66 C50.70,231.86 49.04,232.62 48.56,232.44 C48.08,232.27 48.83,231.35 48.93,230.62 C49.02,229.90 49.07,228.67 49.11,228.09 C49.15,227.51 49.21,227.60 49.19,227.14 C49.17,226.69 48.77,226.03 48.97,225.38Z" fill="rgb(226,226,226)"/>
<path d="M181.42,227.09 C181.30,226.41 180.99,226.47 181.05,225.92 C181.11,225.37 181.67,224.46 181.78,223.79 C181.90,223.13 181.51,222.54 181.74,221.95 C181.96,221.36 182.73,220.69 183.15,220.26 C183.58,219.83 184.04,219.93 184.27,219.38 C184.51,218.83 184.25,217.40 184.58,216.97 C184.91,216.54 185.77,217.11 186.26,216.81 C186.74,216.50 187.10,215.51 187.51,215.12 C187.92,214.73 188.27,214.75 188.70,214.47 C189.14,214.19 189.62,213.64 190.14,213.44 C190.65,213.24 191.16,213.44 191.79,213.25 C192.42,213.06 193.39,212.56 193.92,212.33 C194.46,212.09 194.53,211.90 194.99,211.86 C195.46,211.81 196.08,212.08 196.73,212.04 C197.38,212.01 198.20,211.54 198.87,211.64 C199.55,211.75 200.20,212.60 200.77,212.67 C201.35,212.74 201.86,211.84 202.30,212.06 C202.75,212.29 203.06,213.61 203.45,214.01 C203.83,214.40 204.15,214.12 204.60,214.43 C205.05,214.75 205.70,215.31 206.15,215.89 C206.60,216.47 206.88,217.38 207.31,217.92 C207.73,218.47 208.26,219.25 208.69,219.17 C209.12,219.10 209.37,217.99 209.89,217.47 C210.41,216.95 211.13,216.35 211.79,216.05 C212.46,215.76 213.10,215.85 213.88,215.68 C214.65,215.51 215.82,215.15 216.44,215.01 C217.05,214.87 217.07,215.01 217.58,214.84 C218.09,214.68 218.87,214.22 219.50,214.04 C220.12,213.86 220.76,213.76 221.35,213.78 C221.94,213.79 222.48,214.07 223.05,214.12 C223.62,214.16 224.18,213.96 224.77,214.05 C225.37,214.14 225.98,214.49 226.63,214.65 C227.28,214.81 227.97,214.90 228.68,215.01 C229.39,215.12 230.25,215.01 230.90,215.32 C231.56,215.63 232.03,216.21 232.62,216.88 C233.20,217.54 234.02,218.57 234.41,219.32 C234.80,220.06 234.55,220.73 234.94,221.35 C235.33,221.98 236.37,222.28 236.76,223.09 C237.14,223.89 237.31,225.25 237.24,226.20 C237.16,227.15 236.62,228.20 236.29,228.81 C235.97,229.41 235.62,229.39 235.31,229.85 C234.99,230.30 234.77,231.10 234.39,231.53 C234.01,231.96 233.49,232.13 233.01,232.44 C232.53,232.74 232.01,233.01 231.51,233.34 C231.02,233.66 230.61,234.07 230.04,234.39 C229.46,234.72 228.81,235.12 228.06,235.28 C227.32,235.44 226.20,235.29 225.56,235.33 C224.93,235.37 224.79,235.47 224.27,235.52 C223.74,235.57 223.14,235.72 222.41,235.63 C221.68,235.54 220.51,234.96 219.88,234.96 C219.25,234.97 219.16,235.64 218.62,235.66 C218.08,235.68 217.31,235.26 216.64,235.08 C215.97,234.90 215.16,234.61 214.60,234.57 C214.04,234.53 213.83,234.75 213.28,234.85 C212.73,234.94 211.94,234.98 211.29,235.11 C210.63,235.24 209.85,235.64 209.36,235.61 C208.87,235.58 208.85,234.90 208.36,234.93 C207.87,234.97 207.02,235.61 206.42,235.82 C205.83,236.03 205.26,236.15 204.78,236.18 C204.29,236.20 204.00,235.95 203.51,235.96 C203.02,235.97 202.39,236.12 201.83,236.26 C201.27,236.39 200.67,236.70 200.13,236.76 C199.60,236.83 199.16,236.60 198.64,236.65 C198.13,236.70 197.71,236.91 197.04,237.08 C196.36,237.24 195.25,237.64 194.59,237.62 C193.93,237.59 193.57,237.14 193.06,236.92 C192.55,236.70 192.00,236.52 191.52,236.30 C191.03,236.08 190.76,235.89 190.17,235.61 C189.59,235.33 188.59,234.85 188.00,234.62 C187.42,234.38 187.21,234.52 186.65,234.19 C186.09,233.86 185.17,233.07 184.64,232.65 C184.11,232.22 183.96,232.08 183.49,231.64 C183.02,231.19 182.15,230.73 181.81,229.97 C181.46,229.21 181.55,227.76 181.42,227.09Z" fill="rgb(226,226,226)"/>
<path d="M242.24,225.44 C242.26,224.82 242.37,223.80 242.38,223.16 C242.39,222.53 242.22,222.23 242.29,221.64 C242.37,221.05 242.53,220.10 242.81,219.62 C243.10,219.14 243.57,219.29 244.01,218.78 C244.44,218.27 245.05,217.13 245.44,216.56 C245.84,216.00 246.12,215.87 246.37,215.39 C246.63,214.91 246.53,214.11 246.95,213.70 C247.37,213.29 248.40,213.15 248.89,212.92 C249.38,212.68 249.39,212.47 249.87,212.29 C250.36,212.11 251.27,211.93 251.79,211.83 C252.30,211.74 252.45,211.71 252.98,211.75 C253.52,211.78 254.40,212.03 255.00,212.04 C255.60,212.05 255.95,211.71 256.57,211.83 C257.19,211.94 258.18,212.50 258.74,212.73 C259.30,212.96 259.49,212.98 259.91,213.20 C260.33,213.43 260.86,213.73 261.26,214.06 C261.66,214.38 261.89,214.80 262.33,215.18 C262.76,215.56 263.39,215.84 263.84,216.35 C264.29,216.87 264.66,217.86 265.01,218.27 C265.36,218.68 265.51,218.46 265.93,218.81 C266.34,219.17 267.17,219.89 267.52,220.40 C267.86,220.92 267.61,221.92 268.01,221.90 C268.41,221.88 269.40,220.68 269.93,220.29 C270.46,219.90 270.79,219.98 271.18,219.56 C271.58,219.15 272.03,218.21 272.32,217.80 C272.61,217.40 272.52,217.50 272.93,217.15 C273.34,216.79 274.21,216.05 274.79,215.68 C275.37,215.32 275.92,215.10 276.42,214.94 C276.93,214.79 277.20,214.91 277.83,214.75 C278.47,214.58 279.63,214.10 280.26,213.93 C280.88,213.77 280.97,213.72 281.58,213.74 C282.19,213.75 283.16,214.03 283.91,214.00 C284.66,213.98 285.43,213.50 286.05,213.57 C286.67,213.63 287.03,214.16 287.62,214.39 C288.21,214.62 289.02,214.67 289.59,214.94 C290.15,215.20 290.44,215.68 291.01,216.00 C291.57,216.32 292.45,216.61 292.99,216.87 C293.52,217.13 293.83,217.19 294.21,217.54 C294.59,217.89 294.91,218.44 295.26,218.97 C295.60,219.50 295.96,220.19 296.28,220.71 C296.60,221.24 297.00,221.59 297.17,222.12 C297.35,222.64 297.15,223.36 297.33,223.88 C297.51,224.41 298.19,224.67 298.25,225.26 C298.31,225.85 297.89,226.58 297.68,227.42 C297.47,228.25 297.27,229.64 297.00,230.28 C296.73,230.93 296.40,230.85 296.05,231.29 C295.69,231.73 295.20,232.44 294.85,232.90 C294.50,233.36 294.45,233.80 293.93,234.04 C293.42,234.29 292.42,234.19 291.77,234.37 C291.12,234.56 290.70,234.85 290.05,235.17 C289.40,235.49 288.60,236.18 287.88,236.28 C287.16,236.38 286.32,235.77 285.73,235.77 C285.14,235.77 284.92,236.20 284.33,236.29 C283.75,236.39 282.98,236.31 282.22,236.34 C281.46,236.37 280.50,236.53 279.79,236.46 C279.09,236.39 278.65,236.07 278.00,235.93 C277.35,235.80 276.48,235.84 275.87,235.67 C275.27,235.50 274.84,235.29 274.36,234.93 C273.88,234.56 273.48,233.81 272.98,233.47 C272.48,233.13 272.10,233.10 271.36,232.90 C270.62,232.69 269.34,232.15 268.53,232.24 C267.73,232.33 267.05,233.20 266.53,233.43 C266.01,233.67 265.97,233.37 265.42,233.66 C264.88,233.95 263.85,234.73 263.27,235.17 C262.69,235.61 262.49,236.08 261.94,236.29 C261.39,236.50 260.53,236.21 259.99,236.42 C259.45,236.62 259.27,237.35 258.72,237.52 C258.17,237.69 257.32,237.35 256.69,237.44 C256.06,237.53 255.56,238.09 254.95,238.05 C254.35,238.02 253.56,237.41 253.08,237.22 C252.61,237.03 252.56,236.92 252.09,236.91 C251.63,236.91 250.92,237.32 250.29,237.18 C249.66,237.05 249.09,236.51 248.31,236.11 C247.53,235.70 246.25,235.32 245.63,234.75 C245.00,234.18 244.81,233.27 244.55,232.66 C244.29,232.05 244.29,231.46 244.06,231.08 C243.84,230.71 243.41,230.87 243.19,230.42 C242.98,229.96 242.93,228.94 242.78,228.36 C242.63,227.77 242.37,227.39 242.28,226.90 C242.19,226.42 242.22,226.07 242.24,225.44Z" fill="rgb(226,226,226)"/>
</g>
<g filter="url(#b3)">
<ellipse cx="66" cy="225" rx="10" ry="6.5" fill="rgb(246,246,246)"/>
<ellipse cx="100" cy="225" rx="10" ry="6.5" fill="rgb(246,246,246)"/>
<ellipse cx="135" cy="225" rx="9" ry="6.5" fill="rgb(246,246,246)"/>
<ellipse cx="162" cy="225" rx="11" ry="6.5" fill="rgb(246,246,246)"/>
<ellipse cx="196" cy="225" rx="10" ry="7" fill="rgb(246,246,246)"/>
<ellipse cx="222" cy="225" rx="9" ry="6.5" fill="rgb(246,246,246)"/>
<ellipse cx="256" cy="225" rx="9" ry="7.5" fill="rgb(246,246,246)"/>
<ellipse cx="284" cy="225" rx="9" ry="7" fill="rgb(246,246,246)"/>
</g>
<g filter="url(#b0_8)">
<path d="M58.42,255.46 C58.42,256.97 58.90,258.64 58.74,259.86 C58.58,261.07 57.93,262.00 57.47,262.76 C57.00,263.53 56.40,263.97 55.94,264.45 C55.49,264.93 55.45,265.22 54.74,265.63 C54.04,266.05 52.83,266.67 51.74,266.93 C50.64,267.18 49.84,267.18 48.16,267.16 C46.49,267.14 43.37,266.87 41.69,266.81 C40.01,266.75 39.14,267.00 38.07,266.80 C37.01,266.59 35.98,265.95 35.29,265.57 C34.61,265.19 34.51,265.06 33.98,264.52 C33.44,263.99 32.48,263.13 32.07,262.37 C31.66,261.61 31.64,261.09 31.51,259.98 C31.38,258.88 31.26,257.23 31.30,255.74 C31.33,254.25 31.55,252.27 31.72,251.03 C31.89,249.79 31.99,248.96 32.29,248.30 C32.60,247.63 33.06,247.50 33.56,247.02 C34.06,246.54 34.57,245.80 35.30,245.41 C36.03,245.02 36.90,244.92 37.93,244.69 C38.95,244.46 39.73,244.09 41.44,244.03 C43.15,243.97 46.49,244.24 48.18,244.33 C49.87,244.42 50.54,244.37 51.59,244.59 C52.64,244.82 53.69,245.28 54.47,245.69 C55.26,246.10 55.81,246.56 56.28,247.07 C56.76,247.57 56.91,248.08 57.32,248.71 C57.73,249.33 58.55,249.69 58.73,250.82 C58.91,251.94 58.42,253.95 58.42,255.46Z" fill="url(#blob)"/>
<path d="M89.22,256.48 C89.20,257.77 88.99,259.55 88.80,260.63 C88.62,261.70 88.49,262.18 88.13,262.94 C87.78,263.71 87.21,264.54 86.68,265.22 C86.14,265.90 85.69,266.57 84.93,267.04 C84.17,267.51 83.06,267.78 82.11,268.02 C81.17,268.26 80.38,268.40 79.24,268.48 C78.10,268.57 76.37,268.59 75.26,268.53 C74.15,268.46 73.41,268.43 72.59,268.08 C71.76,267.74 71.02,267.01 70.31,266.47 C69.59,265.92 68.78,265.39 68.28,264.81 C67.77,264.22 67.60,263.71 67.27,262.95 C66.94,262.19 66.56,261.23 66.30,260.25 C66.04,259.27 65.74,258.21 65.72,257.05 C65.69,255.89 65.92,254.39 66.14,253.30 C66.36,252.22 66.69,251.37 67.03,250.52 C67.38,249.68 67.71,248.80 68.20,248.21 C68.70,247.62 69.33,247.37 70.02,246.98 C70.71,246.58 71.53,246.13 72.37,245.84 C73.21,245.54 73.90,245.36 75.05,245.22 C76.19,245.07 78.00,244.90 79.24,244.97 C80.48,245.03 81.60,245.23 82.50,245.60 C83.41,245.98 83.94,246.78 84.66,247.22 C85.38,247.65 86.37,247.67 86.85,248.22 C87.34,248.77 87.23,249.71 87.58,250.49 C87.92,251.27 88.63,251.92 88.91,252.92 C89.18,253.92 89.23,255.20 89.22,256.48Z" fill="url(#blob)"/>
<path d="M116.22,256.74 C116.22,257.98 115.90,259.65 115.64,260.68 C115.37,261.71 114.96,262.14 114.61,262.92 C114.27,263.70 114.06,264.64 113.57,265.36 C113.07,266.07 112.34,266.78 111.66,267.19 C110.98,267.60 110.36,267.58 109.49,267.84 C108.62,268.09 107.68,268.63 106.44,268.74 C105.19,268.84 103.18,268.56 102.02,268.47 C100.85,268.38 100.35,268.49 99.47,268.19 C98.58,267.89 97.45,267.10 96.72,266.67 C95.99,266.24 95.63,266.26 95.10,265.64 C94.57,265.01 93.89,263.71 93.53,262.91 C93.17,262.10 93.12,261.83 92.96,260.80 C92.81,259.77 92.64,257.97 92.60,256.72 C92.56,255.48 92.55,254.42 92.71,253.32 C92.86,252.22 93.22,251.01 93.54,250.11 C93.87,249.22 94.11,248.54 94.66,247.95 C95.21,247.35 96.05,246.97 96.83,246.52 C97.61,246.08 98.49,245.56 99.31,245.26 C100.14,244.96 100.56,244.78 101.77,244.72 C102.99,244.66 105.35,244.71 106.63,244.90 C107.90,245.08 108.55,245.57 109.43,245.82 C110.30,246.07 111.22,246.03 111.89,246.39 C112.56,246.75 113.00,247.39 113.46,248.00 C113.93,248.61 114.32,249.19 114.68,250.05 C115.04,250.92 115.39,252.07 115.64,253.19 C115.90,254.30 116.22,255.49 116.22,256.74Z" fill="url(#blob)"/>
<path d="M145.13,256.50 C145.08,257.79 144.96,259.42 144.82,260.56 C144.68,261.70 144.62,262.59 144.29,263.36 C143.95,264.13 143.43,264.51 142.81,265.19 C142.18,265.87 141.30,266.91 140.54,267.45 C139.78,267.99 139.17,268.16 138.25,268.42 C137.33,268.68 136.22,268.92 135.03,269.01 C133.85,269.09 132.32,269.11 131.15,268.94 C129.98,268.76 129.03,268.22 128.02,267.93 C127.01,267.65 125.83,267.68 125.10,267.23 C124.37,266.78 124.18,265.84 123.64,265.24 C123.10,264.64 122.28,264.35 121.86,263.62 C121.45,262.90 121.24,261.99 121.13,260.87 C121.02,259.76 121.16,258.28 121.21,256.93 C121.26,255.58 121.25,253.85 121.44,252.75 C121.63,251.65 122.04,251.12 122.36,250.32 C122.67,249.53 122.81,248.56 123.33,247.97 C123.85,247.37 124.74,247.20 125.48,246.73 C126.23,246.26 126.84,245.49 127.79,245.16 C128.74,244.83 129.93,244.81 131.20,244.76 C132.47,244.71 134.22,244.77 135.39,244.85 C136.56,244.93 137.33,244.99 138.20,245.24 C139.06,245.50 139.82,245.93 140.59,246.38 C141.35,246.83 142.23,247.30 142.79,247.93 C143.35,248.56 143.57,249.35 143.96,250.16 C144.35,250.97 144.93,251.72 145.12,252.78 C145.32,253.84 145.18,255.20 145.13,256.50Z" fill="url(#blob)"/>
<path d="M171.85,257.07 C171.75,258.19 171.31,259.47 171.14,260.48 C170.97,261.49 171.05,262.26 170.81,263.11 C170.57,263.97 170.24,264.97 169.67,265.63 C169.11,266.29 168.08,266.69 167.44,267.08 C166.81,267.47 166.62,267.73 165.86,267.97 C165.10,268.21 164.07,268.43 162.90,268.50 C161.74,268.58 160.04,268.59 158.87,268.43 C157.70,268.27 156.75,267.87 155.88,267.55 C155.01,267.24 154.28,266.94 153.64,266.52 C153.00,266.11 152.42,265.66 152.02,265.07 C151.63,264.48 151.58,263.70 151.29,263.00 C151.01,262.29 150.58,261.83 150.33,260.84 C150.08,259.85 149.80,258.25 149.79,257.04 C149.78,255.83 150.05,254.60 150.27,253.57 C150.49,252.54 150.77,251.64 151.11,250.87 C151.45,250.09 151.90,249.47 152.32,248.90 C152.75,248.33 152.95,247.84 153.64,247.43 C154.33,247.03 155.60,246.73 156.46,246.45 C157.33,246.18 157.79,245.92 158.84,245.79 C159.89,245.67 161.59,245.69 162.76,245.72 C163.93,245.76 165.02,245.77 165.87,246.00 C166.72,246.24 167.21,246.66 167.86,247.12 C168.52,247.57 169.31,248.14 169.80,248.73 C170.29,249.32 170.48,249.82 170.79,250.66 C171.11,251.50 171.55,252.70 171.72,253.77 C171.90,254.83 171.94,255.95 171.85,257.07Z" fill="url(#blob)"/>
<path d="M200.55,256.18 C200.49,257.46 200.05,258.84 199.86,259.82 C199.68,260.80 199.64,261.36 199.43,262.07 C199.21,262.79 198.99,263.56 198.57,264.10 C198.15,264.64 197.58,264.98 196.94,265.33 C196.29,265.68 195.49,265.90 194.68,266.22 C193.88,266.54 193.02,267.10 192.10,267.25 C191.18,267.40 190.15,267.22 189.16,267.11 C188.17,267.01 186.91,266.89 186.15,266.60 C185.39,266.31 185.17,265.81 184.60,265.40 C184.04,264.98 183.17,264.72 182.74,264.12 C182.30,263.53 182.27,262.61 182.00,261.81 C181.73,261.02 181.29,260.26 181.11,259.34 C180.93,258.42 180.93,257.41 180.90,256.30 C180.86,255.19 180.69,253.69 180.91,252.68 C181.12,251.67 181.82,251.00 182.18,250.23 C182.54,249.46 182.70,248.64 183.07,248.06 C183.43,247.49 183.77,247.23 184.36,246.76 C184.96,246.29 185.89,245.58 186.64,245.25 C187.40,244.92 187.93,244.87 188.89,244.78 C189.85,244.70 191.40,244.59 192.40,244.75 C193.41,244.91 194.14,245.41 194.91,245.73 C195.68,246.04 196.48,246.25 197.02,246.64 C197.56,247.02 197.75,247.49 198.15,248.04 C198.56,248.58 199.07,249.20 199.42,249.89 C199.77,250.58 200.06,251.14 200.25,252.18 C200.44,253.23 200.61,254.91 200.55,256.18Z" fill="url(#blob)"/>
<path d="M228.34,257.01 C228.34,258.24 227.94,259.68 227.78,260.68 C227.63,261.69 227.70,262.28 227.42,263.04 C227.14,263.80 226.61,264.68 226.11,265.25 C225.61,265.83 225.10,266.15 224.41,266.48 C223.72,266.82 222.77,267.03 221.98,267.24 C221.19,267.45 220.72,267.59 219.67,267.77 C218.61,267.94 216.89,268.32 215.67,268.28 C214.46,268.24 213.29,267.89 212.38,267.53 C211.48,267.18 210.88,266.63 210.24,266.17 C209.59,265.71 208.98,265.34 208.50,264.78 C208.02,264.22 207.70,263.47 207.36,262.80 C207.03,262.14 206.65,261.71 206.48,260.79 C206.31,259.87 206.31,258.54 206.35,257.27 C206.39,256.00 206.49,254.20 206.73,253.15 C206.96,252.11 207.45,251.62 207.75,251.00 C208.06,250.37 208.12,250.04 208.55,249.42 C208.98,248.79 209.66,247.70 210.31,247.25 C210.96,246.81 211.66,246.97 212.45,246.74 C213.23,246.51 213.82,245.97 215.01,245.88 C216.20,245.79 218.40,246.07 219.59,246.21 C220.78,246.34 221.33,246.43 222.15,246.68 C222.96,246.93 223.84,247.26 224.49,247.71 C225.15,248.15 225.60,248.78 226.06,249.35 C226.53,249.91 227.01,250.45 227.29,251.10 C227.58,251.75 227.58,252.29 227.76,253.27 C227.93,254.26 228.33,255.77 228.34,257.01Z" fill="url(#blob)"/>
<path d="M256.76,257.08 C256.73,258.13 256.44,259.44 256.33,260.43 C256.22,261.43 256.32,262.32 256.10,263.04 C255.88,263.77 255.51,264.38 255.01,264.80 C254.51,265.22 253.68,265.31 253.09,265.59 C252.50,265.86 252.15,266.20 251.45,266.43 C250.75,266.66 249.92,266.82 248.87,266.98 C247.82,267.13 246.15,267.43 245.14,267.35 C244.12,267.26 243.51,266.70 242.77,266.48 C242.03,266.27 241.29,266.40 240.70,266.05 C240.11,265.71 239.65,264.94 239.24,264.42 C238.84,263.89 238.58,263.51 238.26,262.89 C237.94,262.28 237.55,261.59 237.33,260.70 C237.12,259.81 237.03,258.61 236.98,257.55 C236.93,256.49 236.86,255.21 237.04,254.34 C237.22,253.47 237.69,253.01 238.04,252.33 C238.40,251.64 238.70,250.75 239.16,250.21 C239.62,249.67 240.25,249.44 240.80,249.09 C241.35,248.73 241.77,248.34 242.45,248.08 C243.14,247.81 243.86,247.64 244.91,247.50 C245.96,247.35 247.66,247.18 248.75,247.22 C249.83,247.26 250.72,247.46 251.43,247.73 C252.13,247.99 252.49,248.37 252.98,248.80 C253.47,249.22 253.92,249.69 254.37,250.27 C254.82,250.85 255.31,251.66 255.66,252.30 C256.02,252.93 256.31,253.29 256.49,254.09 C256.67,254.88 256.78,256.02 256.76,257.08Z" fill="url(#blob)"/>
<path d="M281.16,258.38 C281.19,259.55 281.50,261.39 281.45,262.33 C281.40,263.27 281.18,263.33 280.87,264.00 C280.56,264.66 280.10,265.74 279.61,266.30 C279.12,266.85 278.49,267.00 277.94,267.31 C277.39,267.63 277.00,267.91 276.31,268.20 C275.62,268.49 274.74,268.90 273.79,269.05 C272.84,269.21 271.50,269.19 270.61,269.13 C269.73,269.08 269.16,269.04 268.47,268.75 C267.78,268.46 267.04,267.89 266.46,267.40 C265.88,266.91 265.42,266.34 265.01,265.80 C264.60,265.26 264.25,264.83 264.00,264.18 C263.75,263.52 263.57,262.73 263.51,261.86 C263.45,261.00 263.66,260.07 263.64,258.96 C263.62,257.85 263.32,256.23 263.40,255.21 C263.49,254.19 263.88,253.48 264.14,252.85 C264.40,252.22 264.60,251.87 264.97,251.43 C265.34,250.99 265.82,250.58 266.35,250.22 C266.88,249.86 267.42,249.57 268.14,249.29 C268.86,249.00 269.68,248.63 270.65,248.50 C271.63,248.37 273.07,248.48 274.01,248.51 C274.95,248.54 275.66,248.40 276.30,248.66 C276.94,248.93 277.32,249.64 277.87,250.11 C278.42,250.58 279.19,250.97 279.60,251.47 C280.01,251.97 280.06,252.48 280.35,253.12 C280.63,253.76 281.18,254.46 281.32,255.33 C281.45,256.21 281.14,257.22 281.16,258.38Z" fill="url(#blob)"/>
<path d="M312.68,256.34 C312.65,257.22 312.64,258.35 312.51,259.21 C312.38,260.06 312.26,260.84 311.93,261.45 C311.59,262.06 310.96,262.50 310.50,262.86 C310.03,263.22 309.69,263.34 309.12,263.61 C308.56,263.88 307.92,264.27 307.13,264.51 C306.35,264.74 305.48,264.91 304.42,265.05 C303.35,265.18 301.75,265.44 300.74,265.32 C299.73,265.20 299.18,264.63 298.34,264.34 C297.50,264.04 296.29,263.80 295.68,263.55 C295.07,263.30 295.07,263.23 294.68,262.82 C294.29,262.41 293.71,261.67 293.33,261.08 C292.95,260.50 292.52,260.03 292.41,259.31 C292.29,258.59 292.59,257.68 292.62,256.73 C292.65,255.79 292.46,254.42 292.61,253.63 C292.77,252.84 293.26,252.59 293.56,252.00 C293.86,251.41 293.93,250.60 294.39,250.08 C294.85,249.55 295.68,249.20 296.34,248.87 C297.00,248.55 297.62,248.27 298.37,248.11 C299.12,247.96 299.80,247.97 300.83,247.93 C301.87,247.90 303.58,247.82 304.57,247.92 C305.56,248.02 306.07,248.35 306.79,248.53 C307.51,248.71 308.22,248.67 308.87,248.99 C309.52,249.30 310.16,249.93 310.68,250.41 C311.19,250.90 311.62,251.33 311.97,251.91 C312.31,252.50 312.60,253.18 312.72,253.92 C312.84,254.66 312.72,255.46 312.68,256.34Z" fill="url(#blob)"/>
</g>
<g filter="url(#b1)">
<path d="M239.60,277.70 C240.38,277.93 241.28,279.52 242.30,281.50 C243.32,283.48 244.45,287.00 245.70,289.60 C246.95,292.20 249.03,295.40 249.80,297.10 C250.57,298.80 250.75,299.02 250.30,299.80 C249.85,300.58 248.00,300.78 247.10,301.80 C246.20,302.82 245.20,304.53 244.90,305.90 C244.60,307.27 244.72,308.87 245.30,310.00 C245.88,311.13 247.20,312.48 248.40,312.70 C249.60,312.92 251.37,312.10 252.50,311.30 C253.63,310.50 254.37,307.90 255.20,307.90 C256.03,307.90 257.15,309.83 257.50,311.30 C257.85,312.77 257.80,314.67 257.30,316.70 C256.80,318.73 255.87,321.45 254.50,323.50 C253.13,325.55 251.13,327.60 249.10,329.00 C247.07,330.40 244.55,331.57 242.30,331.90 C240.05,332.23 237.40,331.95 235.60,331.00 C233.80,330.05 232.45,327.90 231.50,326.20 C230.55,324.50 229.78,322.60 229.90,320.80 C230.02,319.00 231.48,317.20 232.20,315.40 C232.92,313.60 233.75,312.03 234.20,310.00 C234.65,307.97 234.78,305.70 234.90,303.20 C235.02,300.70 234.78,297.72 234.90,295.00 C235.02,292.28 235.15,289.38 235.60,286.90 C236.05,284.42 236.93,281.63 237.60,280.10 C238.27,278.57 238.82,277.47 239.60,277.70Z" fill="rgb(242,242,242)"/>
<path d="M225.30,352.40 C225.75,351.57 227.67,350.02 229.20,349.50 C230.73,348.98 232.78,349.18 234.50,349.30 C236.22,349.42 237.92,349.67 239.50,350.20 C241.08,350.73 242.70,351.58 244.00,352.50 C245.30,353.42 246.22,354.70 247.30,355.70 C248.38,356.70 249.63,357.65 250.50,358.50 C251.37,359.35 252.60,360.08 252.50,360.80 C252.40,361.52 251.32,362.47 249.90,362.80 C248.48,363.13 245.52,362.92 244.00,362.80 C242.48,362.68 242.30,362.57 240.80,362.10 C239.30,361.63 236.72,360.85 235.00,360.00 C233.28,359.15 231.92,357.92 230.50,357.00 C229.08,356.08 227.37,355.27 226.50,354.50 C225.63,353.73 224.85,353.23 225.30,352.40Z" fill="rgb(240,240,240)"/>
<path d="M124.50,298.20 C125.12,298.12 126.08,298.20 126.70,299.00 C127.32,299.80 127.88,301.17 128.20,303.00 C128.52,304.83 128.60,307.67 128.60,310.00 C128.60,312.33 128.50,315.08 128.20,317.00 C127.90,318.92 127.28,320.60 126.80,321.50 C126.32,322.40 125.87,322.48 125.30,322.40 C124.73,322.32 123.95,322.07 123.40,321.00 C122.85,319.93 122.32,318.00 122.00,316.00 C121.68,314.00 121.50,311.17 121.50,309.00 C121.50,306.83 121.75,304.58 122.00,303.00 C122.25,301.42 122.58,300.30 123.00,299.50 C123.42,298.70 123.88,298.28 124.50,298.20Z" fill="rgb(240,240,240)"/>
</g>
<g filter="url(#b3)">
<ellipse cx="241" cy="318" rx="7" ry="9" fill="rgb(249,249,249)"/>
</g>
</g>
<g fill="none" stroke="#000" stroke-width="1.55" stroke-linejoin="round">
<path d="M48.97,225.38 C49.17,224.74 49.92,223.80 50.38,223.27 C50.83,222.75 51.25,222.74 51.71,222.25 C52.17,221.76 52.58,220.89 53.12,220.32 C53.67,219.75 54.44,219.27 55.00,218.86 C55.55,218.45 56.02,218.24 56.45,217.85 C56.89,217.46 57.08,216.93 57.62,216.51 C58.16,216.10 58.90,215.70 59.70,215.36 C60.49,215.01 61.67,214.67 62.39,214.43 C63.11,214.19 63.54,213.93 64.02,213.92 C64.49,213.91 64.74,214.39 65.25,214.36 C65.76,214.33 66.58,213.87 67.09,213.76 C67.59,213.65 67.74,213.80 68.27,213.70 C68.80,213.59 69.77,213.16 70.27,213.11 C70.76,213.06 70.72,213.36 71.23,213.39 C71.75,213.43 72.75,213.27 73.38,213.31 C74.01,213.35 74.49,213.50 75.01,213.63 C75.52,213.75 75.98,213.97 76.47,214.06 C76.96,214.16 77.36,214.09 77.95,214.19 C78.54,214.30 79.39,214.47 80.02,214.70 C80.64,214.92 81.22,215.24 81.73,215.54 C82.24,215.84 82.68,216.20 83.10,216.49 C83.52,216.79 83.73,216.99 84.25,217.31 C84.77,217.63 85.61,218.42 86.21,218.41 C86.82,218.40 87.46,217.66 87.88,217.25 C88.29,216.83 88.21,216.28 88.70,215.91 C89.19,215.54 90.09,215.21 90.80,215.01 C91.51,214.81 92.21,214.81 92.94,214.71 C93.67,214.62 94.54,214.56 95.19,214.44 C95.83,214.32 96.35,214.09 96.83,213.99 C97.32,213.89 97.62,213.75 98.09,213.82 C98.57,213.90 99.16,214.22 99.69,214.44 C100.21,214.67 100.67,215.03 101.23,215.16 C101.79,215.30 102.47,215.09 103.05,215.24 C103.62,215.38 104.06,215.74 104.68,216.03 C105.30,216.33 106.21,216.57 106.77,217.00 C107.32,217.44 107.39,218.22 108.00,218.66 C108.60,219.10 109.81,219.28 110.41,219.64 C111.00,220.00 111.12,220.31 111.55,220.79 C111.98,221.28 112.56,222.11 113.00,222.57 C113.44,223.03 113.80,223.19 114.16,223.55 C114.52,223.92 114.77,224.33 115.16,224.75 C115.55,225.18 116.10,225.98 116.48,226.11 C116.87,226.24 117.06,225.95 117.47,225.54 C117.88,225.13 118.43,224.17 118.95,223.65 C119.47,223.12 120.07,222.74 120.59,222.39 C121.11,222.04 121.54,221.86 122.06,221.53 C122.58,221.21 123.37,220.87 123.74,220.44 C124.11,220.00 123.92,219.29 124.28,218.90 C124.64,218.52 125.31,218.41 125.89,218.12 C126.47,217.84 127.28,217.57 127.74,217.19 C128.20,216.81 128.27,216.10 128.64,215.85 C129.02,215.61 129.49,215.95 129.99,215.73 C130.49,215.51 131.15,214.76 131.65,214.53 C132.15,214.30 132.42,214.50 133.01,214.32 C133.61,214.15 134.58,213.59 135.22,213.48 C135.85,213.37 136.36,213.55 136.84,213.68 C137.31,213.81 137.56,214.16 138.07,214.24 C138.57,214.32 139.21,214.09 139.88,214.17 C140.54,214.25 141.49,214.57 142.04,214.73 C142.59,214.89 142.72,214.95 143.15,215.13 C143.58,215.31 144.07,215.52 144.63,215.81 C145.19,216.10 145.98,216.63 146.52,216.87 C147.06,217.11 147.37,217.31 147.87,217.25 C148.37,217.19 149.00,216.78 149.54,216.50 C150.08,216.23 150.50,215.86 151.12,215.60 C151.74,215.35 152.66,215.29 153.26,214.98 C153.86,214.68 154.17,213.87 154.73,213.77 C155.28,213.66 156.02,214.30 156.58,214.37 C157.13,214.44 157.46,214.13 158.06,214.19 C158.67,214.25 159.56,214.66 160.21,214.74 C160.85,214.82 161.45,214.60 161.93,214.68 C162.40,214.75 162.57,215.01 163.06,215.19 C163.55,215.38 164.22,215.67 164.86,215.78 C165.49,215.88 166.22,215.78 166.87,215.83 C167.52,215.88 168.30,215.88 168.76,216.06 C169.22,216.23 169.13,216.52 169.64,216.87 C170.16,217.23 171.05,217.73 171.85,218.18 C172.65,218.64 173.99,219.11 174.44,219.60 C174.89,220.09 174.31,220.71 174.55,221.14 C174.79,221.57 175.40,221.87 175.86,222.18 C176.32,222.49 176.96,222.55 177.30,222.98 C177.64,223.42 177.49,224.06 177.90,224.79 C178.30,225.52 179.39,226.86 179.73,227.35 C180.07,227.84 180.12,227.39 179.94,227.72 C179.76,228.06 178.92,228.93 178.63,229.35 C178.34,229.78 178.60,229.99 178.20,230.27 C177.80,230.55 176.97,230.58 176.22,231.03 C175.47,231.47 174.47,232.52 173.69,232.94 C172.92,233.37 172.20,233.30 171.57,233.58 C170.95,233.86 170.49,234.43 169.97,234.64 C169.45,234.85 168.99,234.70 168.43,234.82 C167.88,234.94 167.27,235.29 166.64,235.36 C166.02,235.43 165.31,235.21 164.69,235.24 C164.07,235.28 163.37,235.60 162.90,235.57 C162.43,235.54 162.32,235.11 161.87,235.04 C161.42,234.98 160.74,235.17 160.22,235.18 C159.71,235.18 159.31,235.13 158.77,235.06 C158.23,234.99 157.67,234.75 157.00,234.74 C156.33,234.73 155.31,235.01 154.74,235.00 C154.17,234.99 154.08,234.68 153.57,234.68 C153.06,234.67 152.37,234.96 151.71,234.97 C151.05,234.97 150.11,234.74 149.60,234.72 C149.10,234.69 149.13,234.79 148.69,234.81 C148.25,234.83 147.52,234.76 146.95,234.85 C146.38,234.94 145.95,235.31 145.29,235.34 C144.64,235.37 143.60,234.91 143.00,235.02 C142.40,235.13 142.13,235.82 141.68,236.00 C141.22,236.18 140.76,236.13 140.25,236.10 C139.73,236.07 139.23,235.77 138.58,235.82 C137.93,235.86 137.00,236.34 136.34,236.37 C135.69,236.41 135.13,236.02 134.66,236.01 C134.18,235.99 134.00,236.23 133.50,236.29 C133.00,236.36 132.18,236.50 131.65,236.38 C131.13,236.27 131.00,235.86 130.34,235.60 C129.69,235.34 128.51,235.03 127.72,234.84 C126.94,234.65 126.33,234.63 125.64,234.46 C124.95,234.28 124.25,234.17 123.58,233.80 C122.90,233.44 122.05,232.58 121.61,232.24 C121.17,231.91 121.41,232.04 120.93,231.80 C120.45,231.55 119.47,231.09 118.73,230.80 C117.99,230.51 117.29,230.08 116.51,230.08 C115.72,230.07 114.75,230.40 114.01,230.77 C113.26,231.14 112.62,231.87 112.02,232.29 C111.42,232.71 110.94,233.13 110.39,233.28 C109.83,233.43 109.31,233.06 108.69,233.17 C108.06,233.27 107.25,233.70 106.62,233.89 C105.99,234.09 105.43,234.16 104.90,234.33 C104.38,234.51 104.07,234.77 103.49,234.94 C102.90,235.10 102.05,235.10 101.41,235.32 C100.77,235.54 100.11,236.09 99.66,236.25 C99.21,236.41 99.25,236.30 98.73,236.26 C98.21,236.23 97.22,236.03 96.55,236.04 C95.87,236.06 95.17,236.42 94.67,236.37 C94.18,236.32 94.00,235.88 93.56,235.73 C93.11,235.59 92.58,235.58 92.01,235.50 C91.45,235.42 90.73,235.24 90.15,235.25 C89.57,235.26 89.11,235.67 88.52,235.58 C87.92,235.49 87.19,234.95 86.58,234.70 C85.97,234.44 85.43,234.16 84.87,234.03 C84.31,233.91 83.75,233.96 83.21,233.95 C82.67,233.95 82.18,234.06 81.63,233.98 C81.08,233.91 80.48,233.55 79.90,233.52 C79.32,233.48 78.75,233.74 78.15,233.75 C77.55,233.75 76.88,233.61 76.32,233.54 C75.75,233.48 75.32,233.49 74.76,233.34 C74.20,233.19 73.41,232.79 72.96,232.63 C72.51,232.47 72.49,232.35 72.03,232.38 C71.58,232.41 70.78,232.76 70.23,232.79 C69.68,232.82 69.22,232.65 68.71,232.56 C68.21,232.46 67.78,232.27 67.20,232.22 C66.62,232.16 65.83,232.26 65.23,232.21 C64.63,232.17 64.17,231.93 63.60,231.94 C63.02,231.95 62.41,232.22 61.80,232.27 C61.20,232.32 60.55,232.39 59.97,232.23 C59.38,232.07 58.89,231.45 58.29,231.32 C57.69,231.18 56.91,231.42 56.38,231.41 C55.85,231.40 55.86,231.21 55.10,231.25 C54.33,231.29 52.88,231.46 51.79,231.66 C50.70,231.86 49.04,232.62 48.56,232.44 C48.08,232.27 48.83,231.35 48.93,230.62 C49.02,229.90 49.07,228.67 49.11,228.09 C49.15,227.51 49.21,227.60 49.19,227.14 C49.17,226.69 48.77,226.03 48.97,225.38Z"/>
<path d="M181.42,227.09 C181.30,226.41 180.99,226.47 181.05,225.92 C181.11,225.37 181.67,224.46 181.78,223.79 C181.90,223.13 181.51,222.54 181.74,221.95 C181.96,221.36 182.73,220.69 183.15,220.26 C183.58,219.83 184.04,219.93 184.27,219.38 C184.51,218.83 184.25,217.40 184.58,216.97 C184.91,216.54 185.77,217.11 186.26,216.81 C186.74,216.50 187.10,215.51 187.51,215.12 C187.92,214.73 188.27,214.75 188.70,214.47 C189.14,214.19 189.62,213.64 190.14,213.44 C190.65,213.24 191.16,213.44 191.79,213.25 C192.42,213.06 193.39,212.56 193.92,212.33 C194.46,212.09 194.53,211.90 194.99,211.86 C195.46,211.81 196.08,212.08 196.73,212.04 C197.38,212.01 198.20,211.54 198.87,211.64 C199.55,211.75 200.20,212.60 200.77,212.67 C201.35,212.74 201.86,211.84 202.30,212.06 C202.75,212.29 203.06,213.61 203.45,214.01 C203.83,214.40 204.15,214.12 204.60,214.43 C205.05,214.75 205.70,215.31 206.15,215.89 C206.60,216.47 206.88,217.38 207.31,217.92 C207.73,218.47 208.26,219.25 208.69,219.17 C209.12,219.10 209.37,217.99 209.89,217.47 C210.41,216.95 211.13,216.35 211.79,216.05 C212.46,215.76 213.10,215.85 213.88,215.68 C214.65,215.51 215.82,215.15 216.44,215.01 C217.05,214.87 217.07,215.01 217.58,214.84 C218.09,214.68 218.87,214.22 219.50,214.04 C220.12,213.86 220.76,213.76 221.35,213.78 C221.94,213.79 222.48,214.07 223.05,214.12 C223.62,214.16 224.18,213.96 224.77,214.05 C225.37,214.14 225.98,214.49 226.63,214.65 C227.28,214.81 227.97,214.90 228.68,215.01 C229.39,215.12 230.25,215.01 230.90,215.32 C231.56,215.63 232.03,216.21 232.62,216.88 C233.20,217.54 234.02,218.57 234.41,219.32 C234.80,220.06 234.55,220.73 234.94,221.35 C235.33,221.98 236.37,222.28 236.76,223.09 C237.14,223.89 237.31,225.25 237.24,226.20 C237.16,227.15 236.62,228.20 236.29,228.81 C235.97,229.41 235.62,229.39 235.31,229.85 C234.99,230.30 234.77,231.10 234.39,231.53 C234.01,231.96 233.49,232.13 233.01,232.44 C232.53,232.74 232.01,233.01 231.51,233.34 C231.02,233.66 230.61,234.07 230.04,234.39 C229.46,234.72 228.81,235.12 228.06,235.28 C227.32,235.44 226.20,235.29 225.56,235.33 C224.93,235.37 224.79,235.47 224.27,235.52 C223.74,235.57 223.14,235.72 222.41,235.63 C221.68,235.54 220.51,234.96 219.88,234.96 C219.25,234.97 219.16,235.64 218.62,235.66 C218.08,235.68 217.31,235.26 216.64,235.08 C215.97,234.90 215.16,234.61 214.60,234.57 C214.04,234.53 213.83,234.75 213.28,234.85 C212.73,234.94 211.94,234.98 211.29,235.11 C210.63,235.24 209.85,235.64 209.36,235.61 C208.87,235.58 208.85,234.90 208.36,234.93 C207.87,234.97 207.02,235.61 206.42,235.82 C205.83,236.03 205.26,236.15 204.78,236.18 C204.29,236.20 204.00,235.95 203.51,235.96 C203.02,235.97 202.39,236.12 201.83,236.26 C201.27,236.39 200.67,236.70 200.13,236.76 C199.60,236.83 199.16,236.60 198.64,236.65 C198.13,236.70 197.71,236.91 197.04,237.08 C196.36,237.24 195.25,237.64 194.59,237.62 C193.93,237.59 193.57,237.14 193.06,236.92 C192.55,236.70 192.00,236.52 191.52,236.30 C191.03,236.08 190.76,235.89 190.17,235.61 C189.59,235.33 188.59,234.85 188.00,234.62 C187.42,234.38 187.21,234.52 186.65,234.19 C186.09,233.86 185.17,233.07 184.64,232.65 C184.11,232.22 183.96,232.08 183.49,231.64 C183.02,231.19 182.15,230.73 181.81,229.97 C181.46,229.21 181.55,227.76 181.42,227.09Z"/>
<path d="M242.24,225.44 C242.26,224.82 242.37,223.80 242.38,223.16 C242.39,222.53 242.22,222.23 242.29,221.64 C242.37,221.05 242.53,220.10 242.81,219.62 C243.10,219.14 243.57,219.29 244.01,218.78 C244.44,218.27 245.05,217.13 245.44,216.56 C245.84,216.00 246.12,215.87 246.37,215.39 C246.63,214.91 246.53,214.11 246.95,213.70 C247.37,213.29 248.40,213.15 248.89,212.92 C249.38,212.68 249.39,212.47 249.87,212.29 C250.36,212.11 251.27,211.93 251.79,211.83 C252.30,211.74 252.45,211.71 252.98,211.75 C253.52,211.78 254.40,212.03 255.00,212.04 C255.60,212.05 255.95,211.71 256.57,211.83 C257.19,211.94 258.18,212.50 258.74,212.73 C259.30,212.96 259.49,212.98 259.91,213.20 C260.33,213.43 260.86,213.73 261.26,214.06 C261.66,214.38 261.89,214.80 262.33,215.18 C262.76,215.56 263.39,215.84 263.84,216.35 C264.29,216.87 264.66,217.86 265.01,218.27 C265.36,218.68 265.51,218.46 265.93,218.81 C266.34,219.17 267.17,219.89 267.52,220.40 C267.86,220.92 267.61,221.92 268.01,221.90 C268.41,221.88 269.40,220.68 269.93,220.29 C270.46,219.90 270.79,219.98 271.18,219.56 C271.58,219.15 272.03,218.21 272.32,217.80 C272.61,217.40 272.52,217.50 272.93,217.15 C273.34,216.79 274.21,216.05 274.79,215.68 C275.37,215.32 275.92,215.10 276.42,214.94 C276.93,214.79 277.20,214.91 277.83,214.75 C278.47,214.58 279.63,214.10 280.26,213.93 C280.88,213.77 280.97,213.72 281.58,213.74 C282.19,213.75 283.16,214.03 283.91,214.00 C284.66,213.98 285.43,213.50 286.05,213.57 C286.67,213.63 287.03,214.16 287.62,214.39 C288.21,214.62 289.02,214.67 289.59,214.94 C290.15,215.20 290.44,215.68 291.01,216.00 C291.57,216.32 292.45,216.61 292.99,216.87 C293.52,217.13 293.83,217.19 294.21,217.54 C294.59,217.89 294.91,218.44 295.26,218.97 C295.60,219.50 295.96,220.19 296.28,220.71 C296.60,221.24 297.00,221.59 297.17,222.12 C297.35,222.64 297.15,223.36 297.33,223.88 C297.51,224.41 298.19,224.67 298.25,225.26 C298.31,225.85 297.89,226.58 297.68,227.42 C297.47,228.25 297.27,229.64 297.00,230.28 C296.73,230.93 296.40,230.85 296.05,231.29 C295.69,231.73 295.20,232.44 294.85,232.90 C294.50,233.36 294.45,233.80 293.93,234.04 C293.42,234.29 292.42,234.19 291.77,234.37 C291.12,234.56 290.70,234.85 290.05,235.17 C289.40,235.49 288.60,236.18 287.88,236.28 C287.16,236.38 286.32,235.77 285.73,235.77 C285.14,235.77 284.92,236.20 284.33,236.29 C283.75,236.39 282.98,236.31 282.22,236.34 C281.46,236.37 280.50,236.53 279.79,236.46 C279.09,236.39 278.65,236.07 278.00,235.93 C277.35,235.80 276.48,235.84 275.87,235.67 C275.27,235.50 274.84,235.29 274.36,234.93 C273.88,234.56 273.48,233.81 272.98,233.47 C272.48,233.13 272.10,233.10 271.36,232.90 C270.62,232.69 269.34,232.15 268.53,232.24 C267.73,232.33 267.05,233.20 266.53,233.43 C266.01,233.67 265.97,233.37 265.42,233.66 C264.88,233.95 263.85,234.73 263.27,235.17 C262.69,235.61 262.49,236.08 261.94,236.29 C261.39,236.50 260.53,236.21 259.99,236.42 C259.45,236.62 259.27,237.35 258.72,237.52 C258.17,237.69 257.32,237.35 256.69,237.44 C256.06,237.53 255.56,238.09 254.95,238.05 C254.35,238.02 253.56,237.41 253.08,237.22 C252.61,237.03 252.56,236.92 252.09,236.91 C251.63,236.91 250.92,237.32 250.29,237.18 C249.66,237.05 249.09,236.51 248.31,236.11 C247.53,235.70 246.25,235.32 245.63,234.75 C245.00,234.18 244.81,233.27 244.55,232.66 C244.29,232.05 244.29,231.46 244.06,231.08 C243.84,230.71 243.41,230.87 243.19,230.42 C242.98,229.96 242.93,228.94 242.78,228.36 C242.63,227.77 242.37,227.39 242.28,226.90 C242.19,226.42 242.22,226.07 242.24,225.44Z"/>
<path d="M58.42,255.46 C58.42,256.97 58.90,258.64 58.74,259.86 C58.58,261.07 57.93,262.00 57.47,262.76 C57.00,263.53 56.40,263.97 55.94,264.45 C55.49,264.93 55.45,265.22 54.74,265.63 C54.04,266.05 52.83,266.67 51.74,266.93 C50.64,267.18 49.84,267.18 48.16,267.16 C46.49,267.14 43.37,266.87 41.69,266.81 C40.01,266.75 39.14,267.00 38.07,266.80 C37.01,266.59 35.98,265.95 35.29,265.57 C34.61,265.19 34.51,265.06 33.98,264.52 C33.44,263.99 32.48,263.13 32.07,262.37 C31.66,261.61 31.64,261.09 31.51,259.98 C31.38,258.88 31.26,257.23 31.30,255.74 C31.33,254.25 31.55,252.27 31.72,251.03 C31.89,249.79 31.99,248.96 32.29,248.30 C32.60,247.63 33.06,247.50 33.56,247.02 C34.06,246.54 34.57,245.80 35.30,245.41 C36.03,245.02 36.90,244.92 37.93,244.69 C38.95,244.46 39.73,244.09 41.44,244.03 C43.15,243.97 46.49,244.24 48.18,244.33 C49.87,244.42 50.54,244.37 51.59,244.59 C52.64,244.82 53.69,245.28 54.47,245.69 C55.26,246.10 55.81,246.56 56.28,247.07 C56.76,247.57 56.91,248.08 57.32,248.71 C57.73,249.33 58.55,249.69 58.73,250.82 C58.91,251.94 58.42,253.95 58.42,255.46Z"/>
<path d="M89.22,256.48 C89.20,257.77 88.99,259.55 88.80,260.63 C88.62,261.70 88.49,262.18 88.13,262.94 C87.78,263.71 87.21,264.54 86.68,265.22 C86.14,265.90 85.69,266.57 84.93,267.04 C84.17,267.51 83.06,267.78 82.11,268.02 C81.17,268.26 80.38,268.40 79.24,268.48 C78.10,268.57 76.37,268.59 75.26,268.53 C74.15,268.46 73.41,268.43 72.59,268.08 C71.76,267.74 71.02,267.01 70.31,266.47 C69.59,265.92 68.78,265.39 68.28,264.81 C67.77,264.22 67.60,263.71 67.27,262.95 C66.94,262.19 66.56,261.23 66.30,260.25 C66.04,259.27 65.74,258.21 65.72,257.05 C65.69,255.89 65.92,254.39 66.14,253.30 C66.36,252.22 66.69,251.37 67.03,250.52 C67.38,249.68 67.71,248.80 68.20,248.21 C68.70,247.62 69.33,247.37 70.02,246.98 C70.71,246.58 71.53,246.13 72.37,245.84 C73.21,245.54 73.90,245.36 75.05,245.22 C76.19,245.07 78.00,244.90 79.24,244.97 C80.48,245.03 81.60,245.23 82.50,245.60 C83.41,245.98 83.94,246.78 84.66,247.22 C85.38,247.65 86.37,247.67 86.85,248.22 C87.34,248.77 87.23,249.71 87.58,250.49 C87.92,251.27 88.63,251.92 88.91,252.92 C89.18,253.92 89.23,255.20 89.22,256.48Z"/>
<path d="M116.22,256.74 C116.22,257.98 115.90,259.65 115.64,260.68 C115.37,261.71 114.96,262.14 114.61,262.92 C114.27,263.70 114.06,264.64 113.57,265.36 C113.07,266.07 112.34,266.78 111.66,267.19 C110.98,267.60 110.36,267.58 109.49,267.84 C108.62,268.09 107.68,268.63 106.44,268.74 C105.19,268.84 103.18,268.56 102.02,268.47 C100.85,268.38 100.35,268.49 99.47,268.19 C98.58,267.89 97.45,267.10 96.72,266.67 C95.99,266.24 95.63,266.26 95.10,265.64 C94.57,265.01 93.89,263.71 93.53,262.91 C93.17,262.10 93.12,261.83 92.96,260.80 C92.81,259.77 92.64,257.97 92.60,256.72 C92.56,255.48 92.55,254.42 92.71,253.32 C92.86,252.22 93.22,251.01 93.54,250.11 C93.87,249.22 94.11,248.54 94.66,247.95 C95.21,247.35 96.05,246.97 96.83,246.52 C97.61,246.08 98.49,245.56 99.31,245.26 C100.14,244.96 100.56,244.78 101.77,244.72 C102.99,244.66 105.35,244.71 106.63,244.90 C107.90,245.08 108.55,245.57 109.43,245.82 C110.30,246.07 111.22,246.03 111.89,246.39 C112.56,246.75 113.00,247.39 113.46,248.00 C113.93,248.61 114.32,249.19 114.68,250.05 C115.04,250.92 115.39,252.07 115.64,253.19 C115.90,254.30 116.22,255.49 116.22,256.74Z"/>
<path d="M145.13,256.50 C145.08,257.79 144.96,259.42 144.82,260.56 C144.68,261.70 144.62,262.59 144.29,263.36 C143.95,264.13 143.43,264.51 142.81,265.19 C142.18,265.87 141.30,266.91 140.54,267.45 C139.78,267.99 139.17,268.16 138.25,268.42 C137.33,268.68 136.22,268.92 135.03,269.01 C133.85,269.09 132.32,269.11 131.15,268.94 C129.98,268.76 129.03,268.22 128.02,267.93 C127.01,267.65 125.83,267.68 125.10,267.23 C124.37,266.78 124.18,265.84 123.64,265.24 C123.10,264.64 122.28,264.35 121.86,263.62 C121.45,262.90 121.24,261.99 121.13,260.87 C121.02,259.76 121.16,258.28 121.21,256.93 C121.26,255.58 121.25,253.85 121.44,252.75 C121.63,251.65 122.04,251.12 122.36,250.32 C122.67,249.53 122.81,248.56 123.33,247.97 C123.85,247.37 124.74,247.20 125.48,246.73 C126.23,246.26 126.84,245.49 127.79,245.16 C128.74,244.83 129.93,244.81 131.20,244.76 C132.47,244.71 134.22,244.77 135.39,244.85 C136.56,244.93 137.33,244.99 138.20,245.24 C139.06,245.50 139.82,245.93 140.59,246.38 C141.35,246.83 142.23,247.30 142.79,247.93 C143.35,248.56 143.57,249.35 143.96,250.16 C144.35,250.97 144.93,251.72 145.12,252.78 C145.32,253.84 145.18,255.20 145.13,256.50Z"/>
<path d="M171.85,257.07 C171.75,258.19 171.31,259.47 171.14,260.48 C170.97,261.49 171.05,262.26 170.81,263.11 C170.57,263.97 170.24,264.97 169.67,265.63 C169.11,266.29 168.08,266.69 167.44,267.08 C166.81,267.47 166.62,267.73 165.86,267.97 C165.10,268.21 164.07,268.43 162.90,268.50 C161.74,268.58 160.04,268.59 158.87,268.43 C157.70,268.27 156.75,267.87 155.88,267.55 C155.01,267.24 154.28,266.94 153.64,266.52 C153.00,266.11 152.42,265.66 152.02,265.07 C151.63,264.48 151.58,263.70 151.29,263.00 C151.01,262.29 150.58,261.83 150.33,260.84 C150.08,259.85 149.80,258.25 149.79,257.04 C149.78,255.83 150.05,254.60 150.27,253.57 C150.49,252.54 150.77,251.64 151.11,250.87 C151.45,250.09 151.90,249.47 152.32,248.90 C152.75,248.33 152.95,247.84 153.64,247.43 C154.33,247.03 155.60,246.73 156.46,246.45 C157.33,246.18 157.79,245.92 158.84,245.79 C159.89,245.67 161.59,245.69 162.76,245.72 C163.93,245.76 165.02,245.77 165.87,246.00 C166.72,246.24 167.21,246.66 167.86,247.12 C168.52,247.57 169.31,248.14 169.80,248.73 C170.29,249.32 170.48,249.82 170.79,250.66 C171.11,251.50 171.55,252.70 171.72,253.77 C171.90,254.83 171.94,255.95 171.85,257.07Z"/>
<path d="M200.55,256.18 C200.49,257.46 200.05,258.84 199.86,259.82 C199.68,260.80 199.64,261.36 199.43,262.07 C199.21,262.79 198.99,263.56 198.57,264.10 C198.15,264.64 197.58,264.98 196.94,265.33 C196.29,265.68 195.49,265.90 194.68,266.22 C193.88,266.54 193.02,267.10 192.10,267.25 C191.18,267.40 190.15,267.22 189.16,267.11 C188.17,267.01 186.91,266.89 186.15,266.60 C185.39,266.31 185.17,265.81 184.60,265.40 C184.04,264.98 183.17,264.72 182.74,264.12 C182.30,263.53 182.27,262.61 182.00,261.81 C181.73,261.02 181.29,260.26 181.11,259.34 C180.93,258.42 180.93,257.41 180.90,256.30 C180.86,255.19 180.69,253.69 180.91,252.68 C181.12,251.67 181.82,251.00 182.18,250.23 C182.54,249.46 182.70,248.64 183.07,248.06 C183.43,247.49 183.77,247.23 184.36,246.76 C184.96,246.29 185.89,245.58 186.64,245.25 C187.40,244.92 187.93,244.87 188.89,244.78 C189.85,244.70 191.40,244.59 192.40,244.75 C193.41,244.91 194.14,245.41 194.91,245.73 C195.68,246.04 196.48,246.25 197.02,246.64 C197.56,247.02 197.75,247.49 198.15,248.04 C198.56,248.58 199.07,249.20 199.42,249.89 C199.77,250.58 200.06,251.14 200.25,252.18 C200.44,253.23 200.61,254.91 200.55,256.18Z"/>
<path d="M228.34,257.01 C228.34,258.24 227.94,259.68 227.78,260.68 C227.63,261.69 227.70,262.28 227.42,263.04 C227.14,263.80 226.61,264.68 226.11,265.25 C225.61,265.83 225.10,266.15 224.41,266.48 C223.72,266.82 222.77,267.03 221.98,267.24 C221.19,267.45 220.72,267.59 219.67,267.77 C218.61,267.94 216.89,268.32 215.67,268.28 C214.46,268.24 213.29,267.89 212.38,267.53 C211.48,267.18 210.88,266.63 210.24,266.17 C209.59,265.71 208.98,265.34 208.50,264.78 C208.02,264.22 207.70,263.47 207.36,262.80 C207.03,262.14 206.65,261.71 206.48,260.79 C206.31,259.87 206.31,258.54 206.35,257.27 C206.39,256.00 206.49,254.20 206.73,253.15 C206.96,252.11 207.45,251.62 207.75,251.00 C208.06,250.37 208.12,250.04 208.55,249.42 C208.98,248.79 209.66,247.70 210.31,247.25 C210.96,246.81 211.66,246.97 212.45,246.74 C213.23,246.51 213.82,245.97 215.01,245.88 C216.20,245.79 218.40,246.07 219.59,246.21 C220.78,246.34 221.33,246.43 222.15,246.68 C222.96,246.93 223.84,247.26 224.49,247.71 C225.15,248.15 225.60,248.78 226.06,249.35 C226.53,249.91 227.01,250.45 227.29,251.10 C227.58,251.75 227.58,252.29 227.76,253.27 C227.93,254.26 228.33,255.77 228.34,257.01Z"/>
<path d="M256.76,257.08 C256.73,258.13 256.44,259.44 256.33,260.43 C256.22,261.43 256.32,262.32 256.10,263.04 C255.88,263.77 255.51,264.38 255.01,264.80 C254.51,265.22 253.68,265.31 253.09,265.59 C252.50,265.86 252.15,266.20 251.45,266.43 C250.75,266.66 249.92,266.82 248.87,266.98 C247.82,267.13 246.15,267.43 245.14,267.35 C244.12,267.26 243.51,266.70 242.77,266.48 C242.03,266.27 241.29,266.40 240.70,266.05 C240.11,265.71 239.65,264.94 239.24,264.42 C238.84,263.89 238.58,263.51 238.26,262.89 C237.94,262.28 237.55,261.59 237.33,260.70 C237.12,259.81 237.03,258.61 236.98,257.55 C236.93,256.49 236.86,255.21 237.04,254.34 C237.22,253.47 237.69,253.01 238.04,252.33 C238.40,251.64 238.70,250.75 239.16,250.21 C239.62,249.67 240.25,249.44 240.80,249.09 C241.35,248.73 241.77,248.34 242.45,248.08 C243.14,247.81 243.86,247.64 244.91,247.50 C245.96,247.35 247.66,247.18 248.75,247.22 C249.83,247.26 250.72,247.46 251.43,247.73 C252.13,247.99 252.49,248.37 252.98,248.80 C253.47,249.22 253.92,249.69 254.37,250.27 C254.82,250.85 255.31,251.66 255.66,252.30 C256.02,252.93 256.31,253.29 256.49,254.09 C256.67,254.88 256.78,256.02 256.76,257.08Z"/>
<path d="M281.16,258.38 C281.19,259.55 281.50,261.39 281.45,262.33 C281.40,263.27 281.18,263.33 280.87,264.00 C280.56,264.66 280.10,265.74 279.61,266.30 C279.12,266.85 278.49,267.00 277.94,267.31 C277.39,267.63 277.00,267.91 276.31,268.20 C275.62,268.49 274.74,268.90 273.79,269.05 C272.84,269.21 271.50,269.19 270.61,269.13 C269.73,269.08 269.16,269.04 268.47,268.75 C267.78,268.46 267.04,267.89 266.46,267.40 C265.88,266.91 265.42,266.34 265.01,265.80 C264.60,265.26 264.25,264.83 264.00,264.18 C263.75,263.52 263.57,262.73 263.51,261.86 C263.45,261.00 263.66,260.07 263.64,258.96 C263.62,257.85 263.32,256.23 263.40,255.21 C263.49,254.19 263.88,253.48 264.14,252.85 C264.40,252.22 264.60,251.87 264.97,251.43 C265.34,250.99 265.82,250.58 266.35,250.22 C266.88,249.86 267.42,249.57 268.14,249.29 C268.86,249.00 269.68,248.63 270.65,248.50 C271.63,248.37 273.07,248.48 274.01,248.51 C274.95,248.54 275.66,248.40 276.30,248.66 C276.94,248.93 277.32,249.64 277.87,250.11 C278.42,250.58 279.19,250.97 279.60,251.47 C280.01,251.97 280.06,252.48 280.35,253.12 C280.63,253.76 281.18,254.46 281.32,255.33 C281.45,256.21 281.14,257.22 281.16,258.38Z"/>
<path d="M312.68,256.34 C312.65,257.22 312.64,258.35 312.51,259.21 C312.38,260.06 312.26,260.84 311.93,261.45 C311.59,262.06 310.96,262.50 310.50,262.86 C310.03,263.22 309.69,263.34 309.12,263.61 C308.56,263.88 307.92,264.27 307.13,264.51 C306.35,264.74 305.48,264.91 304.42,265.05 C303.35,265.18 301.75,265.44 300.74,265.32 C299.73,265.20 299.18,264.63 298.34,264.34 C297.50,264.04 296.29,263.80 295.68,263.55 C295.07,263.30 295.07,263.23 294.68,262.82 C294.29,262.41 293.71,261.67 293.33,261.08 C292.95,260.50 292.52,260.03 292.41,259.31 C292.29,258.59 292.59,257.68 292.62,256.73 C292.65,255.79 292.46,254.42 292.61,253.63 C292.77,252.84 293.26,252.59 293.56,252.00 C293.86,251.41 293.93,250.60 294.39,250.08 C294.85,249.55 295.68,249.20 296.34,248.87 C297.00,248.55 297.62,248.27 298.37,248.11 C299.12,247.96 299.80,247.97 300.83,247.93 C301.87,247.90 303.58,247.82 304.57,247.92 C305.56,248.02 306.07,248.35 306.79,248.53 C307.51,248.71 308.22,248.67 308.87,248.99 C309.52,249.30 310.16,249.93 310.68,250.41 C311.19,250.90 311.62,251.33 311.97,251.91 C312.31,252.50 312.60,253.18 312.72,253.92 C312.84,254.66 312.72,255.46 312.68,256.34Z"/>
<path d="M239.60,277.70 C240.38,277.93 241.28,279.52 242.30,281.50 C243.32,283.48 244.45,287.00 245.70,289.60 C246.95,292.20 249.03,295.40 249.80,297.10 C250.57,298.80 250.75,299.02 250.30,299.80 C249.85,300.58 248.00,300.78 247.10,301.80 C246.20,302.82 245.20,304.53 244.90,305.90 C244.60,307.27 244.72,308.87 245.30,310.00 C245.88,311.13 247.20,312.48 248.40,312.70 C249.60,312.92 251.37,312.10 252.50,311.30 C253.63,310.50 254.37,307.90 255.20,307.90 C256.03,307.90 257.15,309.83 257.50,311.30 C257.85,312.77 257.80,314.67 257.30,316.70 C256.80,318.73 255.87,321.45 254.50,323.50 C253.13,325.55 251.13,327.60 249.10,329.00 C247.07,330.40 244.55,331.57 242.30,331.90 C240.05,332.23 237.40,331.95 235.60,331.00 C233.80,330.05 232.45,327.90 231.50,326.20 C230.55,324.50 229.78,322.60 229.90,320.80 C230.02,319.00 231.48,317.20 232.20,315.40 C232.92,313.60 233.75,312.03 234.20,310.00 C234.65,307.97 234.78,305.70 234.90,303.20 C235.02,300.70 234.78,297.72 234.90,295.00 C235.02,292.28 235.15,289.38 235.60,286.90 C236.05,284.42 236.93,281.63 237.60,280.10 C238.27,278.57 238.82,277.47 239.60,277.70Z"/>
<path d="M225.30,352.40 C225.75,351.57 227.67,350.02 229.20,349.50 C230.73,348.98 232.78,349.18 234.50,349.30 C236.22,349.42 237.92,349.67 239.50,350.20 C241.08,350.73 242.70,351.58 244.00,352.50 C245.30,353.42 246.22,354.70 247.30,355.70 C248.38,356.70 249.63,357.65 250.50,358.50 C251.37,359.35 252.60,360.08 252.50,360.80 C252.40,361.52 251.32,362.47 249.90,362.80 C248.48,363.13 245.52,362.92 244.00,362.80 C242.48,362.68 242.30,362.57 240.80,362.10 C239.30,361.63 236.72,360.85 235.00,360.00 C233.28,359.15 231.92,357.92 230.50,357.00 C229.08,356.08 227.37,355.27 226.50,354.50 C225.63,353.73 224.85,353.23 225.30,352.40Z"/>
<path d="M124.50,298.20 C125.12,298.12 126.08,298.20 126.70,299.00 C127.32,299.80 127.88,301.17 128.20,303.00 C128.52,304.83 128.60,307.67 128.60,310.00 C128.60,312.33 128.50,315.08 128.20,317.00 C127.90,318.92 127.28,320.60 126.80,321.50 C126.32,322.40 125.87,322.48 125.30,322.40 C124.73,322.32 123.95,322.07 123.40,321.00 C122.85,319.93 122.32,318.00 122.00,316.00 C121.68,314.00 121.50,311.17 121.50,309.00 C121.50,306.83 121.75,304.58 122.00,303.00 C122.25,301.42 122.58,300.30 123.00,299.50 C123.42,298.70 123.88,298.28 124.50,298.20Z"/>
</g>
</g>
<path d="M51.70,196.80 L51.71,197.30 L51.72,197.80 L51.72,198.30 L51.73,198.80 L51.74,199.30 L51.75,199.80 L51.76,200.30 L51.76,200.80 L51.77,201.30 L51.78,201.80 L51.79,202.30 L51.80,202.80 L51.81,203.30 L51.82,203.80 L51.83,204.30 L51.84,204.80 L51.84,205.30 L51.85,205.80 L51.86,206.30 L51.87,206.80 L51.88,207.30 L51.89,207.80 L51.90,208.30 L51.91,208.80 L51.92,209.30 L51.93,209.80 L51.94,210.30 L51.95,210.80 L51.96,211.30 L51.98,211.80 L51.99,212.30 L52.00,212.80 L52.01,213.30 L52.02,213.80 L52.03,214.30 L52.04,214.80 L52.05,215.30 L52.07,215.80 L52.08,216.30 L52.09,216.80 L52.10,217.30 L52.11,217.80 L52.13,218.30 L52.14,218.80 L52.15,219.30 L52.16,219.80 L52.18,220.30 L52.19,220.80 L52.20,221.30 L52.22,221.80 L52.23,222.30 L52.25,222.80 L52.26,223.30 L52.27,223.80 L52.29,224.30 L52.30,224.80 L52.32,225.30 L52.33,225.80 L52.35,226.30 L52.36,226.80 L52.38,227.30 L52.39,227.80 L52.41,228.30 L52.42,228.80 L52.44,229.30 L52.45,229.80 L52.47,230.30 L52.49,230.80 L52.50,231.30 L52.52,231.80 L52.54,232.30 L52.55,232.80 L52.57,233.30 L52.59,233.80 L52.61,234.30 L52.62,234.80 L52.64,235.30 L52.66,235.80 L52.68,236.30 L52.70,236.80 L52.72,237.30 L52.74,237.80 L52.76,238.30 L52.78,238.80 L52.80,239.30 L52.82,239.80 L52.84,240.30 L52.86,240.80 L52.88,241.30 L52.90,241.80 L52.92,242.30 L52.94,242.80 L52.96,243.30 L52.98,243.80 L53.01,244.30 L53.03,244.80 L53.05,245.30 L53.07,245.80 L53.10,246.30 L53.12,246.80 L53.14,247.30 L53.17,247.80 L53.19,248.30 L53.22,248.80 L53.24,249.30 L53.27,249.80 L53.29,250.30 L53.32,250.80 L53.34,251.30 L53.37,251.80 L53.40,252.30 L53.42,252.80 L53.45,253.30 L53.48,253.80 L53.50,254.30 L53.53,254.80 L53.56,255.30 L53.59,255.80 L53.62,256.30 L53.65,256.80 L53.68,257.30 L53.71,257.80 L53.74,258.30 L53.77,258.80 L53.80,259.30 L53.83,259.80 L53.86,260.30 L53.89,260.80 L53.92,261.30 L53.96,261.80 L53.99,262.30 L54.02,262.80 L54.06,263.30 L54.09,263.80 L54.13,264.30 L54.16,264.80 L54.20,265.30 L54.23,265.80 L54.27,266.30 L54.30,266.80 L54.34,267.30 L54.38,267.80 L54.42,268.30 L54.45,268.80 L54.49,269.30 L54.53,269.80 L54.57,270.30 L54.61,270.80 L54.65,271.30 L54.69,271.80 L54.73,272.30 L54.77,272.80 L54.82,273.30 L54.86,273.80 L54.90,274.30 L54.95,274.80 L54.99,275.30 L55.03,275.80 L55.08,276.30 L55.12,276.80 L55.17,277.30 L55.22,277.80 L55.26,278.30 L55.31,278.80 L55.36,279.30 L55.41,279.80 L55.46,280.30 L55.51,280.80 L55.56,281.30 L55.61,281.80 L55.66,282.30 L55.71,282.80 L55.76,283.30 L55.82,283.80 L55.87,284.30 L55.93,284.80 L55.98,285.30 L56.04,285.80 L56.09,286.30 L56.15,286.80 L56.21,287.30 L56.26,287.80 L56.32,288.30 L56.38,288.80 L56.44,289.30 L56.50,289.80 L56.56,290.30 L56.63,290.80 L56.69,291.30 L56.75,291.80 L56.82,292.30 L56.88,292.80 L56.95,293.30 L57.01,293.80 L57.08,294.30 L57.15,294.80 L57.22,295.30 L57.29,295.80 L57.36,296.30 L57.43,296.80 L57.50,297.30 L57.57,297.80 L57.65,298.30 L57.72,298.80 L57.79,299.30 L57.87,299.80 L57.95,300.30 L58.02,300.80 L58.10,301.30 L58.18,301.80 L58.26,302.30 L58.34,302.80 L58.42,303.30 L58.51,303.80 L58.59,304.30 L58.68,304.80 L58.76,305.30 L58.85,305.80 L58.94,306.30 L59.02,306.80 L59.11,307.30 L59.20,307.80 L59.30,308.30 L59.39,308.80 L59.48,309.30 L59.58,309.80 L59.67,310.30 L59.77,310.80 L59.87,311.30 L59.96,311.80 L60.06,312.30 L60.17,312.80 L60.27,313.30 L60.37,313.80 L60.48,314.30 L60.58,314.80 L60.69,315.30 L60.80,315.80 L60.91,316.30 L61.02,316.80 L61.13,317.30 L61.24,317.80 L61.36,318.30 L61.47,318.80 L61.59,319.30 L61.71,319.80 L61.83,320.30 L61.95,320.80 L62.07,321.30 L62.19,321.80 L62.32,322.30 L62.44,322.80 L62.57,323.30 L62.70,323.80 L62.83,324.30 L62.96,324.80 L63.09,325.30 L63.23,325.80 L63.37,326.30 L63.50,326.80 L63.64,327.30 L63.78,327.80 L63.93,328.30 L64.07,328.80 L64.22,329.30 L64.36,329.80 L64.51,330.30 L64.66,330.80 L64.82,331.30 L64.97,331.80 L65.13,332.30 L65.28,332.80 L65.44,333.30 L65.60,333.80 L65.77,334.30 L65.93,334.80 L66.10,335.30 L66.27,335.80 L66.44,336.30 L66.61,336.80 L66.78,337.30 L66.96,337.80 L67.14,338.30 L67.32,338.80 L67.50,339.30 L67.68,339.80 L67.87,340.30 L68.06,340.80 L68.25,341.30 L68.44,341.80 L68.63,342.30 L68.83,342.80 L69.03,343.30 L69.23,343.80 L69.43,344.30 L69.64,344.80 L69.85,345.30 L70.06,345.80 L70.27,346.30 L70.49,346.80 L70.70,347.30 L70.92,347.80 L71.14,348.30 L71.37,348.80 L71.60,349.30 L71.83,349.80 L72.06,350.30 L72.29,350.80 L72.53,351.30 L72.77,351.80 L73.01,352.30 L73.26,352.80 L73.51,353.30 L73.76,353.80 L74.01,354.30 L74.27,354.80 L74.53,355.30 L74.79,355.80 L75.06,356.30 L75.32,356.80 L75.60,357.30 L75.87,357.80 L76.15,358.30 L76.43,358.80 L76.71,359.30 L77.00,359.80 L77.29,360.30 L77.58,360.80 L77.88,361.30 L78.18,361.80 L78.48,362.30 L78.79,362.80 L79.10,363.30 L79.41,363.80 L79.73,364.30 L80.05,364.80 L80.37,365.30 L80.70,365.80 L81.03,366.30 L81.36,366.80 L81.70,367.30 L82.05,367.80 L82.39,368.30 L82.74,368.80 L83.10,369.30 L83.45,369.80 L83.82,370.30 L84.18,370.80 L84.55,371.30 L84.93,371.80 L85.30,372.30 L85.69,372.80 L86.07,373.30 L86.46,373.80 L86.86,374.30 L87.26,374.80 L87.66,375.30 L88.07,375.80 L88.49,376.30 L88.90,376.80 L89.33,377.30 L89.75,377.80 L90.19,378.30 L90.62,378.80 L91.07,379.30 L91.51,379.80 L91.96,380.30 L92.42,380.80 L92.88,381.30 L93.35,381.80 L93.82,382.30 L94.30,382.80 L94.78,383.30 L95.27,383.80 L95.77,384.30 L96.26,384.80 L96.77,385.30 L97.28,385.80 L97.80,386.30 L98.32,386.80 L98.85,387.30 L99.38,387.80 L99.92,388.30 L100.46,388.80 L101.02,389.30 L101.57,389.80 L102.14,390.30 L102.71,390.80 L103.28,391.30 L103.87,391.80 L104.46,392.30 L105.05,392.80 L105.66,393.30 L106.27,393.80 L106.88,394.30 L107.50,394.80 L108.13,395.30 L108.77,395.80 L109.42,396.30 L110.07,396.80 L110.73,397.30 L111.39,397.80 L112.07,398.30 L112.75,398.80 L113.44,399.30 L114.13,399.80 L114.84,400.30 L115.55,400.80 L116.27,401.30 L117.00,401.80 L117.73,402.30 L118.48,402.80 L119.23,403.30 L119.99,403.80 L120.76,404.30 L121.54,404.80 L122.32,405.30 L123.12,405.80 L123.92,406.30 L124.74,406.80 L125.56,407.30 L126.39,407.80 L127.23,408.30 L128.08,408.80 L128.94,409.30 L129.81,409.80 L130.69,410.30 L131.58,410.80 L132.48,411.30 L133.38,411.80 L134.30,412.30 L135.23,412.80 L136.17,413.30 L137.12,413.80 L138.08,414.30 L139.05,414.80 L140.04,415.30 L141.03,415.80 L142.03,416.30 L143.05,416.80 L144.07,417.30 L145.11,417.80 L146.16,418.30 L147.22,418.80 L148.30,419.30 L149.38,419.80 L150.48,420.30 L151.59,420.80 L152.71,421.30 L153.84,421.80 L154.99,422.30 L156.15,422.80 L157.32,423.30 L158.51,423.80 L159.71,424.30 L160.92,424.80 L162.15,425.30 L163.38,425.80 L164.64,426.30 L165.91,426.80 L175.50,427.00 L185.09,426.80 L186.36,426.30 L187.62,425.80 L188.85,425.30 L190.08,424.80 L191.29,424.30 L192.49,423.80 L193.68,423.30 L194.85,422.80 L196.01,422.30 L197.16,421.80 L198.29,421.30 L199.41,420.80 L200.52,420.30 L201.62,419.80 L202.70,419.30 L203.78,418.80 L204.84,418.30 L205.89,417.80 L206.93,417.30 L207.95,416.80 L208.97,416.30 L209.97,415.80 L210.96,415.30 L211.95,414.80 L212.92,414.30 L213.88,413.80 L214.83,413.30 L215.77,412.80 L216.70,412.30 L217.62,411.80 L218.52,411.30 L219.42,410.80 L220.31,410.30 L221.19,409.80 L222.06,409.30 L222.92,408.80 L223.77,408.30 L224.61,407.80 L225.44,407.30 L226.26,406.80 L227.08,406.30 L227.88,405.80 L228.68,405.30 L229.46,404.80 L230.24,404.30 L231.01,403.80 L231.77,403.30 L232.52,402.80 L233.27,402.30 L234.00,401.80 L234.73,401.30 L235.45,400.80 L236.16,400.30 L236.87,399.80 L237.56,399.30 L238.25,398.80 L238.93,398.30 L239.61,397.80 L240.27,397.30 L240.93,396.80 L241.58,396.30 L242.23,395.80 L242.87,395.30 L243.50,394.80 L244.12,394.30 L244.73,393.80 L245.34,393.30 L245.95,392.80 L246.54,392.30 L247.13,391.80 L247.72,391.30 L248.29,390.80 L248.86,390.30 L249.43,389.80 L249.98,389.30 L250.54,388.80 L251.08,388.30 L251.62,387.80 L252.15,387.30 L252.68,386.80 L253.20,386.30 L253.72,385.80 L254.23,385.30 L254.74,384.80 L255.23,384.30 L255.73,383.80 L256.22,383.30 L256.70,382.80 L257.18,382.30 L257.65,381.80 L258.12,381.30 L258.58,380.80 L259.04,380.30 L259.49,379.80 L259.93,379.30 L260.38,378.80 L260.81,378.30 L261.25,377.80 L261.67,377.30 L262.10,376.80 L262.51,376.30 L262.93,375.80 L263.34,375.30 L263.74,374.80 L264.14,374.30 L264.54,373.80 L264.93,373.30 L265.31,372.80 L265.70,372.30 L266.07,371.80 L266.45,371.30 L266.82,370.80 L267.18,370.30 L267.55,369.80 L267.90,369.30 L268.26,368.80 L268.61,368.30 L268.95,367.80 L269.30,367.30 L269.64,366.80 L269.97,366.30 L270.30,365.80 L270.63,365.30 L270.95,364.80 L271.27,364.30 L271.59,363.80 L271.90,363.30 L272.21,362.80 L272.52,362.30 L272.82,361.80 L273.12,361.30 L273.42,360.80 L273.71,360.30 L274.00,359.80 L274.29,359.30 L274.57,358.80 L274.85,358.30 L275.13,357.80 L275.40,357.30 L275.68,356.80 L275.94,356.30 L276.21,355.80 L276.47,355.30 L276.73,354.80 L276.99,354.30 L277.24,353.80 L277.49,353.30 L277.74,352.80 L277.99,352.30 L278.23,351.80 L278.47,351.30 L278.71,350.80 L278.94,350.30 L279.17,349.80 L279.40,349.30 L279.63,348.80 L279.86,348.30 L280.08,347.80 L280.30,347.30 L280.51,346.80 L280.73,346.30 L280.94,345.80 L281.15,345.30 L281.36,344.80 L281.57,344.30 L281.77,343.80 L281.97,343.30 L282.17,342.80 L282.37,342.30 L282.56,341.80 L282.75,341.30 L282.94,340.80 L283.13,340.30 L283.32,339.80 L283.50,339.30 L283.68,338.80 L283.86,338.30 L284.04,337.80 L284.22,337.30 L284.39,336.80 L284.56,336.30 L284.73,335.80 L284.90,335.30 L285.07,334.80 L285.23,334.30 L285.40,333.80 L285.56,333.30 L285.72,332.80 L285.87,332.30 L286.03,331.80 L286.18,331.30 L286.34,330.80 L286.49,330.30 L286.64,329.80 L286.78,329.30 L286.93,328.80 L287.07,328.30 L287.22,327.80 L287.36,327.30 L287.50,326.80 L287.63,326.30 L287.77,325.80 L287.91,325.30 L288.04,324.80 L288.17,324.30 L288.30,323.80 L288.43,323.30 L288.56,322.80 L288.68,322.30 L288.81,321.80 L288.93,321.30 L289.05,320.80 L289.17,320.30 L289.29,319.80 L289.41,319.30 L289.53,318.80 L289.64,318.30 L289.76,317.80 L289.87,317.30 L289.98,316.80 L290.09,316.30 L290.20,315.80 L290.31,315.30 L290.42,314.80 L290.52,314.30 L290.63,313.80 L290.73,313.30 L290.83,312.80 L290.94,312.30 L291.04,311.80 L291.13,311.30 L291.23,310.80 L291.33,310.30 L291.42,309.80 L291.52,309.30 L291.61,308.80 L291.70,308.30 L291.80,307.80 L291.89,307.30 L291.98,306.80 L292.06,306.30 L292.15,305.80 L292.24,305.30 L292.32,304.80 L292.41,304.30 L292.49,303.80 L292.58,303.30 L292.66,302.80 L292.74,302.30 L292.82,301.80 L292.90,301.30 L292.98,300.80 L293.05,300.30 L293.13,299.80 L293.21,299.30 L293.28,298.80 L293.35,298.30 L293.43,297.80 L293.50,297.30 L293.57,296.80 L293.64,296.30 L293.71,295.80 L293.78,295.30 L293.85,294.80 L293.92,294.30 L293.99,293.80 L294.05,293.30 L294.12,292.80 L294.18,292.30 L294.25,291.80 L294.31,291.30 L294.37,290.80 L294.44,290.30 L294.50,289.80 L294.56,289.30 L294.62,288.80 L294.68,288.30 L294.74,287.80 L294.79,287.30 L294.85,286.80 L294.91,286.30 L294.96,285.80 L295.02,285.30 L295.07,284.80 L295.13,284.30 L295.18,283.80 L295.24,283.30 L295.29,282.80 L295.34,282.30 L295.39,281.80 L295.44,281.30 L295.49,280.80 L295.54,280.30 L295.59,279.80 L295.64,279.30 L295.69,278.80 L295.74,278.30 L295.78,277.80 L295.83,277.30 L295.88,276.80 L295.92,276.30 L295.97,275.80 L296.01,275.30 L296.05,274.80 L296.10,274.30 L296.14,273.80 L296.18,273.30 L296.23,272.80 L296.27,272.30 L296.31,271.80 L296.35,271.30 L296.39,270.80 L296.43,270.30 L296.47,269.80 L296.51,269.30 L296.55,268.80 L296.58,268.30 L296.62,267.80 L296.66,267.30 L296.70,266.80 L296.73,266.30 L296.77,265.80 L296.80,265.30 L296.84,264.80 L296.87,264.30 L296.91,263.80 L296.94,263.30 L296.98,262.80 L297.01,262.30 L297.04,261.80 L297.08,261.30 L297.11,260.80 L297.14,260.30 L297.17,259.80 L297.20,259.30 L297.23,258.80 L297.26,258.30 L297.29,257.80 L297.32,257.30 L297.35,256.80 L297.38,256.30 L297.41,255.80 L297.44,255.30 L297.47,254.80 L297.50,254.30 L297.52,253.80 L297.55,253.30 L297.58,252.80 L297.60,252.30 L297.63,251.80 L297.66,251.30 L297.68,250.80 L297.71,250.30 L297.73,249.80 L297.76,249.30 L297.78,248.80 L297.81,248.30 L297.83,247.80 L297.86,247.30 L297.88,246.80 L297.90,246.30 L297.93,245.80 L297.95,245.30 L297.97,244.80 L297.99,244.30 L298.02,243.80 L298.04,243.30 L298.06,242.80 L298.08,242.30 L298.10,241.80 L298.12,241.30 L298.14,240.80 L298.16,240.30 L298.18,239.80 L298.20,239.30 L298.22,238.80 L298.24,238.30 L298.26,237.80 L298.28,237.30 L298.30,236.80 L298.32,236.30 L298.34,235.80 L298.36,235.30 L298.38,234.80 L298.39,234.30 L298.41,233.80 L298.43,233.30 L298.45,232.80 L298.46,232.30 L298.48,231.80 L298.50,231.30 L298.51,230.80 L298.53,230.30 L298.55,229.80 L298.56,229.30 L298.58,228.80 L298.59,228.30 L298.61,227.80 L298.62,227.30 L298.64,226.80 L298.65,226.30 L298.67,225.80 L298.68,225.30 L298.70,224.80 L298.71,224.30 L298.73,223.80 L298.74,223.30 L298.75,222.80 L298.77,222.30 L298.78,221.80 L298.80,221.30 L298.81,220.80 L298.82,220.30 L298.84,219.80 L298.85,219.30 L298.86,218.80 L298.87,218.30 L298.89,217.80 L298.90,217.30 L298.91,216.80 L298.92,216.30 L298.93,215.80 L298.95,215.30 L298.96,214.80 L298.97,214.30 L298.98,213.80 L298.99,213.30 L299.00,212.80 L299.01,212.30 L299.02,211.80 L299.04,211.30 L299.05,210.80 L299.06,210.30 L299.07,209.80 L299.08,209.30 L299.09,208.80 L299.10,208.30 L299.11,207.80 L299.12,207.30 L299.13,206.80 L299.14,206.30 L299.15,205.80 L299.16,205.30 L299.16,204.80 L299.17,204.30 L299.18,203.80 L299.19,203.30 L299.20,202.80 L299.21,202.30 L299.22,201.80 L299.23,201.30 L299.24,200.80 L299.24,200.30 L299.25,199.80 L299.26,199.30 L299.27,198.80 L299.28,198.30 L299.28,197.80 L299.29,197.30 L299.30,196.80" fill="none" stroke="#1a1200" stroke-width="0.6" opacity="0.75"/>
<g fill="none" stroke="#a0a0a0" stroke-width="1">
<rect x="50.5" y="196.3" width="250" height="231.2"/>
<line x1="50.5" y1="194.5" x2="50.5" y2="430"/>
<line x1="300.5" y1="194.5" x2="300.5" y2="430"/>
<line x1="48" y1="227.5" x2="51" y2="227.5"/>
<line x1="300" y1="227.5" x2="302.5" y2="227.5"/>
<line x1="48" y1="258.5" x2="51" y2="258.5"/>
<line x1="300" y1="258.5" x2="302.5" y2="258.5"/>
<line x1="48" y1="289.5" x2="51" y2="289.5"/>
<line x1="300" y1="289.5" x2="302.5" y2="289.5"/>
<line x1="48" y1="321.5" x2="51" y2="321.5"/>
<line x1="300" y1="321.5" x2="302.5" y2="321.5"/>
<line x1="48" y1="352.5" x2="51" y2="352.5"/>
<line x1="300" y1="352.5" x2="302.5" y2="352.5"/>
<line x1="48" y1="383.5" x2="51" y2="383.5"/>
<line x1="300" y1="383.5" x2="302.5" y2="383.5"/>
<line x1="48" y1="414.5" x2="51" y2="414.5"/>
<line x1="300" y1="414.5" x2="302.5" y2="414.5"/>
<line x1="112.5" y1="196.8" x2="112.5" y2="199.8"/>
<line x1="112.5" y1="424" x2="112.5" y2="427"/>
<line x1="175.5" y1="196.8" x2="175.5" y2="199.8"/>
<line x1="175.5" y1="424" x2="175.5" y2="427"/>
<line x1="238.5" y1="196.8" x2="238.5" y2="199.8"/>
<line x1="238.5" y1="424" x2="238.5" y2="427"/>
</g>
<g font-family="Liberation Serif" font-size="12.8" fill="#000" text-anchor="end">
<text x="46.2" y="231.2">0.5</text>
<text x="46.2" y="262.4">1</text>
<text x="46.2" y="293.7">2</text>
<text x="46.2" y="324.9">4</text>
<text x="46.2" y="356.2">8</text>
<text x="46.2" y="387.4">16</text>
<text x="46.2" y="418.7">32</text>
</g>
<text transform="translate(24.7,311.8) rotate(-90)" font-family="Liberation Serif" font-size="14.5" text-anchor="middle">Period (days)</text>
<g font-family="Liberation Serif" font-size="13" fill="#000" text-anchor="middle">
<text x="81.7" y="437.2">June</text>
<text x="142.5" y="437.2">July</text>
<text x="206.5" y="437.2">August</text>
<text x="269.9" y="437.2">September</text>
</g>
<text x="178.2" y="455.7" font-family="Liberation Serif" font-size="14.2" text-anchor="middle">Month (2002)</text>
<text x="32.6" y="475.3" font-family="Liberation Serif" font-size="15.66"><tspan font-weight="bold" font-size="17.4">(b)</tspan> Wavelet Power Spectrum for Observed Tides</text>
<rect x="315" y="423.41" width="22" height="3.89" fill="rgb(0,0,135)"/>
<rect x="315" y="419.81" width="22" height="3.89" fill="rgb(0,0,151)"/>
<rect x="315" y="416.22" width="22" height="3.89" fill="rgb(0,0,167)"/>
<rect x="315" y="412.62" width="22" height="3.89" fill="rgb(0,0,183)"/>
<rect x="315" y="409.03" width="22" height="3.89" fill="rgb(0,0,199)"/>
<rect x="315" y="405.44" width="22" height="3.89" fill="rgb(0,0,215)"/>
<rect x="315" y="401.84" width="22" height="3.89" fill="rgb(0,0,231)"/>
<rect x="315" y="398.25" width="22" height="3.89" fill="rgb(0,0,247)"/>
<rect x="315" y="394.66" width="22" height="3.89" fill="rgb(0,7,255)"/>
<rect x="315" y="391.06" width="22" height="3.89" fill="rgb(0,23,255)"/>
<rect x="315" y="387.47" width="22" height="3.89" fill="rgb(0,39,255)"/>
<rect x="315" y="383.88" width="22" height="3.89" fill="rgb(0,55,255)"/>
<rect x="315" y="380.28" width="22" height="3.89" fill="rgb(0,71,255)"/>
<rect x="315" y="376.69" width="22" height="3.89" fill="rgb(0,87,255)"/>
<rect x="315" y="373.09" width="22" height="3.89" fill="rgb(0,103,255)"/>
<rect x="315" y="369.50" width="22" height="3.89" fill="rgb(0,119,255)"/>
<rect x="315" y="365.91" width="22" height="3.89" fill="rgb(0,135,255)"/>
<rect x="315" y="362.31" width="22" height="3.89" fill="rgb(0,151,255)"/>
<rect x="315" y="358.72" width="22" height="3.89" fill="rgb(0,167,255)"/>
<rect x="315" y="355.12" width="22" height="3.89" fill="rgb(0,183,255)"/>
<rect x="315" y="351.53" width="22" height="3.89" fill="rgb(0,199,255)"/>
<rect x="315" y="347.94" width="22" height="3.89" fill="rgb(0,215,255)"/>
<rect x="315" y="344.34" width="22" height="3.89" fill="rgb(0,231,255)"/>
<rect x="315" y="340.75" width="22" height="3.89" fill="rgb(0,247,255)"/>
<rect x="315" y="337.16" width="22" height="3.89" fill="rgb(7,255,247)"/>
<rect x="315" y="333.56" width="22" height="3.89" fill="rgb(23,255,231)"/>
<rect x="315" y="329.97" width="22" height="3.89" fill="rgb(39,255,215)"/>
<rect x="315" y="326.38" width="22" height="3.89" fill="rgb(55,255,199)"/>
<rect x="315" y="322.78" width="22" height="3.89" fill="rgb(71,255,183)"/>
<rect x="315" y="319.19" width="22" height="3.89" fill="rgb(87,255,167)"/>
<rect x="315" y="315.59" width="22" height="3.89" fill="rgb(103,255,151)"/>
<rect x="315" y="312.00" width="22" height="3.89" fill="rgb(119,255,135)"/>
<rect x="315" y="308.41" width="22" height="3.89" fill="rgb(135,255,119)"/>
<rect x="315" y="304.81" width="22" height="3.89" fill="rgb(151,255,103)"/>
<rect x="315" y="301.22" width="22" height="3.89" fill="rgb(167,255,87)"/>
<rect x="315" y="297.62" width="22" height="3.89" fill="rgb(183,255,71)"/>
<rect x="315" y="294.03" width="22" height="3.89" fill="rgb(199,255,55)"/>
<rect x="315" y="290.44" width="22" height="3.89" fill="rgb(215,255,39)"/>
<rect x="315" y="286.84" width="22" height="3.89" fill="rgb(231,255,23)"/>
<rect x="315" y="283.25" width="22" height="3.89" fill="rgb(247,255,7)"/>
<rect x="315" y="279.66" width="22" height="3.89" fill="rgb(255,247,0)"/>
<rect x="315" y="276.06" width="22" height="3.89" fill="rgb(255,231,0)"/>
<rect x="315" y="272.47" width="22" height="3.89" fill="rgb(255,215,0)"/>
<rect x="315" y="268.88" width="22" height="3.89" fill="rgb(255,199,0)"/>
<rect x="315" y="265.28" width="22" height="3.89" fill="rgb(255,183,0)"/>
<rect x="315" y="261.69" width="22" height="3.89" fill="rgb(255,167,0)"/>
<rect x="315" y="258.09" width="22" height="3.89" fill="rgb(255,151,0)"/>
<rect x="315" y="254.50" width="22" height="3.89" fill="rgb(255,135,0)"/>
<rect x="315" y="250.91" width="22" height="3.89" fill="rgb(255,119,0)"/>
<rect x="315" y="247.31" width="22" height="3.89" fill="rgb(255,103,0)"/>
<rect x="315" y="243.72" width="22" height="3.89" fill="rgb(255,87,0)"/>
<rect x="315" y="240.12" width="22" height="3.89" fill="rgb(255,71,0)"/>
<rect x="315" y="236.53" width="22" height="3.89" fill="rgb(255,55,0)"/>
<rect x="315" y="232.94" width="22" height="3.89" fill="rgb(255,39,0)"/>
<rect x="315" y="229.34" width="22" height="3.89" fill="rgb(255,23,0)"/>
<rect x="315" y="225.75" width="22" height="3.89" fill="rgb(255,7,0)"/>
<rect x="315" y="222.16" width="22" height="3.89" fill="rgb(247,0,0)"/>
<rect x="315" y="218.56" width="22" height="3.89" fill="rgb(231,0,0)"/>
<rect x="315" y="214.97" width="22" height="3.89" fill="rgb(215,0,0)"/>
<rect x="315" y="211.38" width="22" height="3.89" fill="rgb(199,0,0)"/>
<rect x="315" y="207.78" width="22" height="3.89" fill="rgb(183,0,0)"/>
<rect x="315" y="204.19" width="22" height="3.89" fill="rgb(167,0,0)"/>
<rect x="315" y="200.59" width="22" height="3.89" fill="rgb(151,0,0)"/>
<rect x="315" y="197.00" width="22" height="3.89" fill="rgb(135,0,0)"/>
<rect x="315.5" y="197.5" width="21" height="229" fill="none" stroke="#555" stroke-width="1" opacity="0.6"/>
<g stroke="#333" stroke-width="0.8" opacity="0.6">
<line x1="315" y1="208.9" x2="317" y2="208.9"/><line x1="335" y1="208.9" x2="337" y2="208.9"/>
<line x1="315" y1="220.5" x2="317" y2="220.5"/><line x1="335" y1="220.5" x2="337" y2="220.5"/>
<line x1="315" y1="232.0" x2="317" y2="232.0"/><line x1="335" y1="232.0" x2="337" y2="232.0"/>
<line x1="315" y1="243.6" x2="317" y2="243.6"/><line x1="335" y1="243.6" x2="337" y2="243.6"/>
<line x1="315" y1="255.1" x2="317" y2="255.1"/><line x1="335" y1="255.1" x2="337" y2="255.1"/>
<line x1="315" y1="266.6" x2="317" y2="266.6"/><line x1="335" y1="266.6" x2="337" y2="266.6"/>
<line x1="315" y1="278.2" x2="317" y2="278.2"/><line x1="335" y1="278.2" x2="337" y2="278.2"/>
<line x1="315" y1="289.8" x2="317" y2="289.8"/><line x1="335" y1="289.8" x2="337" y2="289.8"/>
<line x1="315" y1="301.3" x2="317" y2="301.3"/><line x1="335" y1="301.3" x2="337" y2="301.3"/>
<line x1="315" y1="312.9" x2="317" y2="312.9"/><line x1="335" y1="312.9" x2="337" y2="312.9"/>
<line x1="315" y1="324.4" x2="317" y2="324.4"/><line x1="335" y1="324.4" x2="337" y2="324.4"/>
<line x1="315" y1="336.0" x2="317" y2="336.0"/><line x1="335" y1="336.0" x2="337" y2="336.0"/>
<line x1="315" y1="347.5" x2="317" y2="347.5"/><line x1="335" y1="347.5" x2="337" y2="347.5"/>
<line x1="315" y1="359.1" x2="317" y2="359.1"/><line x1="335" y1="359.1" x2="337" y2="359.1"/>
<line x1="315" y1="370.6" x2="317" y2="370.6"/><line x1="335" y1="370.6" x2="337" y2="370.6"/>
<line x1="315" y1="382.1" x2="317" y2="382.1"/><line x1="335" y1="382.1" x2="337" y2="382.1"/>
<line x1="315" y1="393.7" x2="317" y2="393.7"/><line x1="335" y1="393.7" x2="337" y2="393.7"/>
<line x1="315" y1="405.2" x2="317" y2="405.2"/><line x1="335" y1="405.2" x2="337" y2="405.2"/>
<line x1="315" y1="416.8" x2="317" y2="416.8"/><line x1="335" y1="416.8" x2="337" y2="416.8"/>
</g>
<g font-family="Liberation Serif" font-size="11.6" fill="#000">
<text x="339.4" y="212.9">512</text>
<text x="339.4" y="236.0">128</text>
<text x="339.4" y="259.1">32</text>
<text x="339.4" y="282.2">8</text>
<text x="339.4" y="305.3">2</text>
<text x="339.4" y="328.4">1/2</text>
<text x="339.4" y="351.5">1/8</text>
<text x="339.4" y="374.6">1/32</text>
<text x="339.4" y="397.7">1/128</text>
<text x="342" y="420.8">0</text>
</g>
</svg>
</body></html>
